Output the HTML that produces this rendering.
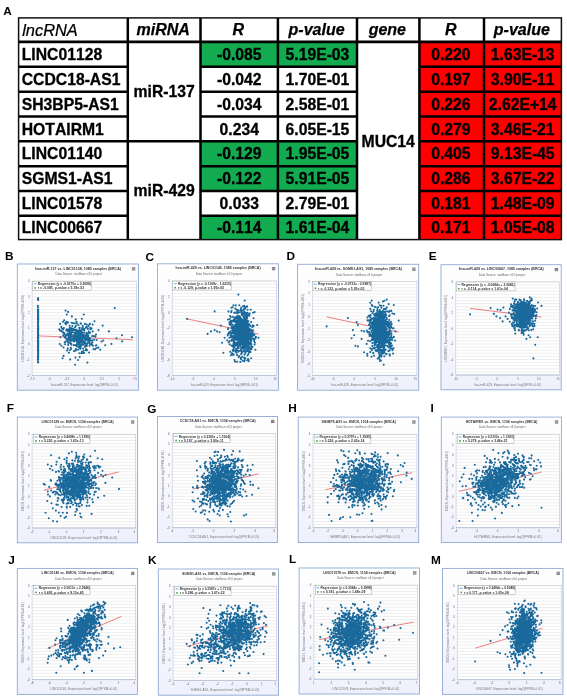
<!DOCTYPE html>
<html lang="en">
<head>
<meta charset="utf-8">
<title>Figure: lncRNA - miRNA - MUC14 correlations</title>
<style>
html,body{margin:0;padding:0;background:#fff;}
body{width:567px;height:700px;overflow:hidden;position:relative;}
svg{position:absolute;left:0;top:0;display:block;}
text{font-family:"Liberation Sans",Arial,sans-serif;fill:#000;font-kerning:none;}
#table{filter:blur(0.3px);}
.b{font-size:15.75px;font-weight:bold;stroke:#000;stroke-width:0.3px;}
.hb{font-size:16.0px;font-weight:bold;font-style:italic;stroke:#000;stroke-width:0.25px;}
.hi{font-size:16.4px;font-style:italic;stroke:#000;stroke-width:0.25px;}
.lab{font-size:11.8px;font-weight:bold;}
.tt{font-size:3.65px;font-weight:bold;fill:#333;}
.st{font-size:3.0px;fill:#666;}
.tk{font-size:2.9px;fill:#666;}
.ax{font-size:3.15px;fill:#777;}
.lg{font-size:3.3px;font-weight:bold;fill:#333;}
.pl{filter:blur(0.35px);}
.fr{filter:blur(0.2px);}
</style>
</head>
<body>
<svg width="567" height="700" viewBox="0 0 567 700">
<defs>
<linearGradient id="fg" x1="0" y1="0" x2="0" y2="1"><stop offset="0" stop-color="#ffffff"/><stop offset="1" stop-color="#eff0fd"/></linearGradient>
</defs>
<g id="table">
<rect x="200.50" y="41.90" width="156.50" height="24.93" fill="#13ab4f"/>
<rect x="419.40" y="41.90" width="142.00" height="24.93" fill="#fe0000"/>
<rect x="419.40" y="66.83" width="142.00" height="24.83" fill="#fe0000"/>
<rect x="419.40" y="91.66" width="142.00" height="24.83" fill="#fe0000"/>
<rect x="419.40" y="116.49" width="142.00" height="24.83" fill="#fe0000"/>
<rect x="200.50" y="141.32" width="156.50" height="24.83" fill="#13ab4f"/>
<rect x="419.40" y="141.32" width="142.00" height="24.83" fill="#fe0000"/>
<rect x="200.50" y="166.15" width="156.50" height="24.83" fill="#13ab4f"/>
<rect x="419.40" y="166.15" width="142.00" height="24.83" fill="#fe0000"/>
<rect x="419.40" y="190.98" width="142.00" height="24.83" fill="#fe0000"/>
<rect x="200.50" y="215.81" width="156.50" height="23.79" fill="#13ab4f"/>
<rect x="419.40" y="215.81" width="142.00" height="23.79" fill="#fe0000"/>
<line x1="18.60" y1="41.90" x2="561.40" y2="41.90" stroke="#000" stroke-width="2.7"/>
<line x1="18.60" y1="66.83" x2="127.80" y2="66.83" stroke="#000" stroke-width="2.5"/>
<line x1="200.50" y1="66.83" x2="357.00" y2="66.83" stroke="#000" stroke-width="2.5"/>
<line x1="419.40" y1="66.83" x2="561.40" y2="66.83" stroke="#000" stroke-width="2.5"/>
<line x1="18.60" y1="91.66" x2="127.80" y2="91.66" stroke="#000" stroke-width="2.5"/>
<line x1="200.50" y1="91.66" x2="357.00" y2="91.66" stroke="#000" stroke-width="2.5"/>
<line x1="419.40" y1="91.66" x2="561.40" y2="91.66" stroke="#000" stroke-width="2.5"/>
<line x1="18.60" y1="116.49" x2="127.80" y2="116.49" stroke="#000" stroke-width="2.5"/>
<line x1="200.50" y1="116.49" x2="357.00" y2="116.49" stroke="#000" stroke-width="2.5"/>
<line x1="419.40" y1="116.49" x2="561.40" y2="116.49" stroke="#000" stroke-width="2.5"/>
<line x1="18.60" y1="141.32" x2="127.80" y2="141.32" stroke="#000" stroke-width="2.5"/>
<line x1="127.80" y1="141.32" x2="200.50" y2="141.32" stroke="#000" stroke-width="2.5"/>
<line x1="200.50" y1="141.32" x2="357.00" y2="141.32" stroke="#000" stroke-width="2.5"/>
<line x1="419.40" y1="141.32" x2="561.40" y2="141.32" stroke="#000" stroke-width="2.5"/>
<line x1="18.60" y1="166.15" x2="127.80" y2="166.15" stroke="#000" stroke-width="2.5"/>
<line x1="200.50" y1="166.15" x2="357.00" y2="166.15" stroke="#000" stroke-width="2.5"/>
<line x1="419.40" y1="166.15" x2="561.40" y2="166.15" stroke="#000" stroke-width="2.5"/>
<line x1="18.60" y1="190.98" x2="127.80" y2="190.98" stroke="#000" stroke-width="2.5"/>
<line x1="200.50" y1="190.98" x2="357.00" y2="190.98" stroke="#000" stroke-width="2.5"/>
<line x1="419.40" y1="190.98" x2="561.40" y2="190.98" stroke="#000" stroke-width="2.5"/>
<line x1="18.60" y1="215.81" x2="127.80" y2="215.81" stroke="#000" stroke-width="2.5"/>
<line x1="200.50" y1="215.81" x2="357.00" y2="215.81" stroke="#000" stroke-width="2.5"/>
<line x1="419.40" y1="215.81" x2="561.40" y2="215.81" stroke="#000" stroke-width="2.5"/>
<line x1="127.80" y1="17.90" x2="127.80" y2="239.60" stroke="#000" stroke-width="2.5"/>
<line x1="200.50" y1="17.90" x2="200.50" y2="239.60" stroke="#000" stroke-width="2.5"/>
<line x1="277.90" y1="17.90" x2="277.90" y2="239.60" stroke="#000" stroke-width="2.5"/>
<line x1="357.00" y1="17.90" x2="357.00" y2="239.60" stroke="#000" stroke-width="2.5"/>
<line x1="419.40" y1="17.90" x2="419.40" y2="239.60" stroke="#000" stroke-width="2.5"/>
<line x1="484.00" y1="17.90" x2="484.00" y2="239.60" stroke="#000" stroke-width="2.5"/>
<rect x="18.60" y="17.90" width="542.80" height="221.70" fill="none" stroke="#111" stroke-width="1.5"/>
<text transform="translate(22.20 35.50) scale(1 0.96)" text-anchor="start" class="hi">lncRNA</text>
<text x="163.25" y="35.10" text-anchor="middle" class="hb">miRNA</text>
<text x="238.30" y="35.10" text-anchor="middle" class="hb">R</text>
<text x="316.55" y="35.10" text-anchor="middle" class="hb">p-value</text>
<text x="387.30" y="35.10" text-anchor="middle" class="hb">gene</text>
<text x="450.80" y="35.10" text-anchor="middle" class="hb">R</text>
<text x="521.80" y="35.10" text-anchor="middle" class="hb">p-value</text>
<text transform="translate(21.70 60.11) scale(1 1.04)" text-anchor="start" class="b">LINC01128</text>
<text transform="translate(239.20 60.11) scale(1 1.04)" text-anchor="middle" class="b">-0.085</text>
<text transform="translate(317.45 60.11) scale(1 1.04)" text-anchor="middle" class="b">5.19E-03</text>
<text transform="translate(450.90 60.11) scale(1 1.04)" text-anchor="middle" class="b">0.220</text>
<text transform="translate(522.70 60.11) scale(1 1.04)" text-anchor="middle" class="b">1.63E-13</text>
<text transform="translate(21.70 85.00) scale(1 1.04)" text-anchor="start" class="b">CCDC18-AS1</text>
<text transform="translate(239.20 85.00) scale(1 1.04)" text-anchor="middle" class="b">-0.042</text>
<text transform="translate(317.45 85.00) scale(1 1.04)" text-anchor="middle" class="b">1.70E-01</text>
<text transform="translate(450.90 85.00) scale(1 1.04)" text-anchor="middle" class="b">0.197</text>
<text transform="translate(522.70 85.00) scale(1 1.04)" text-anchor="middle" class="b">3.90E-11</text>
<text transform="translate(21.70 109.82) scale(1 1.04)" text-anchor="start" class="b">SH3BP5-AS1</text>
<text transform="translate(239.20 109.82) scale(1 1.04)" text-anchor="middle" class="b">-0.034</text>
<text transform="translate(317.45 109.82) scale(1 1.04)" text-anchor="middle" class="b">2.58E-01</text>
<text transform="translate(450.90 109.82) scale(1 1.04)" text-anchor="middle" class="b">0.226</text>
<text transform="translate(522.70 109.82) scale(1 1.04)" text-anchor="middle" class="b">2.62E+14</text>
<text transform="translate(21.70 134.66) scale(1 1.04)" text-anchor="start" class="b">HOTAIRM1</text>
<text transform="translate(239.20 134.66) scale(1 1.04)" text-anchor="middle" class="b">0.234</text>
<text transform="translate(317.45 134.66) scale(1 1.04)" text-anchor="middle" class="b">6.05E-15</text>
<text transform="translate(450.90 134.66) scale(1 1.04)" text-anchor="middle" class="b">0.279</text>
<text transform="translate(522.70 134.66) scale(1 1.04)" text-anchor="middle" class="b">3.46E-21</text>
<text transform="translate(21.70 159.48) scale(1 1.04)" text-anchor="start" class="b">LINC01140</text>
<text transform="translate(239.20 159.48) scale(1 1.04)" text-anchor="middle" class="b">-0.129</text>
<text transform="translate(317.45 159.48) scale(1 1.04)" text-anchor="middle" class="b">1.95E-05</text>
<text transform="translate(450.90 159.48) scale(1 1.04)" text-anchor="middle" class="b">0.405</text>
<text transform="translate(522.70 159.48) scale(1 1.04)" text-anchor="middle" class="b">9.13E-45</text>
<text transform="translate(21.70 184.31) scale(1 1.04)" text-anchor="start" class="b">SGMS1-AS1</text>
<text transform="translate(239.20 184.31) scale(1 1.04)" text-anchor="middle" class="b">-0.122</text>
<text transform="translate(317.45 184.31) scale(1 1.04)" text-anchor="middle" class="b">5.91E-05</text>
<text transform="translate(450.90 184.31) scale(1 1.04)" text-anchor="middle" class="b">0.286</text>
<text transform="translate(522.70 184.31) scale(1 1.04)" text-anchor="middle" class="b">3.67E-22</text>
<text transform="translate(21.70 209.14) scale(1 1.04)" text-anchor="start" class="b">LINC01578</text>
<text transform="translate(239.20 209.14) scale(1 1.04)" text-anchor="middle" class="b">0.033</text>
<text transform="translate(317.45 209.14) scale(1 1.04)" text-anchor="middle" class="b">2.79E-01</text>
<text transform="translate(450.90 209.14) scale(1 1.04)" text-anchor="middle" class="b">0.181</text>
<text transform="translate(522.70 209.14) scale(1 1.04)" text-anchor="middle" class="b">1.48E-09</text>
<text transform="translate(21.70 233.45) scale(1 1.04)" text-anchor="start" class="b">LINC00667</text>
<text transform="translate(239.20 233.45) scale(1 1.04)" text-anchor="middle" class="b">-0.114</text>
<text transform="translate(317.45 233.45) scale(1 1.04)" text-anchor="middle" class="b">1.61E-04</text>
<text transform="translate(450.90 233.45) scale(1 1.04)" text-anchor="middle" class="b">0.171</text>
<text transform="translate(522.70 233.45) scale(1 1.04)" text-anchor="middle" class="b">1.05E-08</text>
<text transform="translate(164.15 97.36) scale(1 1.04)" text-anchor="middle" class="b">miR-137</text>
<text transform="translate(164.15 196.21) scale(1 1.04)" text-anchor="middle" class="b">miR-429</text>
<text transform="translate(388.20 146.50) scale(1 1.04)" text-anchor="middle" class="b">MUC14</text>
<text x="3.20" y="15.30" text-anchor="start" class="lab">A</text>
</g>
<g id="plots">
<rect x="17.30" y="264.00" width="121.10" height="126.20" fill="url(#fg)" stroke="#8eabd2" stroke-width="0.9" class="fr"/>
<g class="pl">
<rect x="32.10" y="281.20" width="104.50" height="94.20" fill="#fff"/>
<path d="M32.10 281.20H136.60M32.10 284.34H136.60M32.10 287.48H136.60M32.10 290.62H136.60M32.10 293.76H136.60M32.10 296.90H136.60M32.10 300.04H136.60M32.10 303.18H136.60M32.10 306.32H136.60M32.10 309.46H136.60M32.10 312.60H136.60M32.10 315.74H136.60M32.10 318.88H136.60M32.10 322.02H136.60M32.10 325.16H136.60M32.10 328.30H136.60M32.10 331.44H136.60M32.10 334.58H136.60M32.10 337.72H136.60M32.10 340.86H136.60M32.10 344.00H136.60M32.10 347.14H136.60M32.10 350.28H136.60M32.10 353.42H136.60M32.10 356.56H136.60M32.10 359.70H136.60M32.10 362.84H136.60M32.10 365.98H136.60M32.10 369.12H136.60M32.10 372.26H136.60M32.10 375.40H136.60" stroke="#dcdcdc" stroke-width="0.5" fill="none"/>
<rect x="32.10" y="281.20" width="104.50" height="94.20" stroke="#c4c8d0" stroke-width="0.6" fill="none"/>
<path d="M32.10 375.40H136.60" stroke="#b0c0d8" stroke-width="0.7" fill="none"/>
<text x="78.05" y="269.60" text-anchor="middle" class="tt" textLength="85.8" lengthAdjust="spacingAndGlyphs">hsa-miR-137 vs. LINC01128, 1085 samples (BRCA)</text>
<text x="78.85" y="275.20" text-anchor="middle" class="st">Data Source: starBase v3.0 project</text>
<path d="M131.90 267.80h3.4M131.90 268.90h3.4M131.90 270.00h3.4" stroke="#555" stroke-width="0.8"/>
<text x="32.10" y="380.10" text-anchor="middle" class="tk">-7.5</text>
<text x="49.52" y="380.10" text-anchor="middle" class="tk">-5</text>
<text x="66.93" y="380.10" text-anchor="middle" class="tk">-2.5</text>
<text x="84.35" y="380.10" text-anchor="middle" class="tk">0</text>
<text x="101.77" y="380.10" text-anchor="middle" class="tk">2.5</text>
<text x="119.18" y="380.10" text-anchor="middle" class="tk">5</text>
<text x="135.10" y="380.10" text-anchor="middle" class="tk">7.5</text>
<text x="29.50" y="282.30" text-anchor="end" class="tk">4</text>
<text x="29.50" y="298.00" text-anchor="end" class="tk">3</text>
<text x="29.50" y="313.70" text-anchor="end" class="tk">2</text>
<text x="29.50" y="329.40" text-anchor="end" class="tk">1</text>
<text x="29.50" y="345.10" text-anchor="end" class="tk">0</text>
<text x="29.50" y="360.80" text-anchor="end" class="tk">-1</text>
<text x="29.50" y="376.50" text-anchor="end" class="tk">-2</text>
<text x="84.35" y="385.90" text-anchor="middle" class="ax">hsa-miR-137, Expression level: log2(RPM+0.01)</text>
<text transform="translate(23.60 328.30) rotate(-90)" text-anchor="middle" class="ax">LINC01128, Expression level: log2(FPKM+0.01)</text>
<line x1="38.82" y1="335.91" x2="132.73" y2="339.67" stroke="#e8484a" stroke-width="0.7"/>
<path d="M83.1 344.8h0M70.6 333.7h0M75.2 335.9h0M79.9 338.1h0M78.8 334.0h0M65.3 323.3h0M80.8 333.4h0M81.6 340.9h0M83.0 348.5h0M67.9 342.5h0M81.6 338.9h0M68.9 338.0h0M68.6 336.7h0M74.7 329.5h0M70.2 359.4h0M66.9 339.1h0M75.2 336.1h0M78.4 325.0h0M70.8 347.8h0M67.0 329.4h0M88.3 335.4h0M92.3 345.0h0M96.7 340.0h0M69.3 340.5h0M73.0 336.4h0M88.3 342.6h0M77.2 342.4h0M87.2 343.4h0M91.6 328.5h0M75.2 345.2h0M90.3 329.3h0M79.4 340.8h0M67.8 335.1h0M84.4 338.2h0M61.3 326.9h0M62.6 332.0h0M98.4 347.6h0M90.4 327.9h0M74.5 337.5h0M80.8 338.5h0M80.5 341.8h0M81.2 337.3h0M76.1 337.2h0M72.6 332.1h0M73.3 340.2h0M90.0 323.8h0M74.2 336.0h0M74.1 339.7h0M78.3 338.3h0M71.3 334.2h0M89.8 341.1h0M87.7 328.2h0M74.3 338.5h0M59.2 329.3h0M79.3 347.7h0M88.6 325.9h0M76.7 329.8h0M75.6 337.8h0M76.1 340.8h0M88.2 336.2h0M103.3 340.5h0M78.1 340.9h0M79.9 345.1h0M83.6 329.2h0M78.5 333.1h0M92.6 331.4h0M70.6 335.7h0M67.8 348.4h0M68.7 340.1h0M76.1 330.7h0M86.0 349.0h0M89.1 352.5h0M71.8 328.2h0M78.3 337.8h0M69.6 325.8h0M79.1 343.5h0M77.7 344.5h0M73.9 337.2h0M70.1 342.8h0M86.2 333.1h0M64.2 333.4h0M88.4 340.0h0M89.7 339.5h0M66.0 335.6h0M71.3 344.8h0M78.2 332.5h0M77.2 343.7h0M63.6 332.9h0M86.8 333.5h0M64.5 333.2h0M64.7 336.9h0M87.3 335.3h0M84.8 335.6h0M96.0 334.6h0M82.6 342.1h0M77.3 338.8h0M81.9 318.7h0M75.0 327.3h0M90.7 328.9h0M83.9 336.1h0M90.4 338.6h0M69.5 337.7h0M79.2 341.8h0M90.4 340.7h0M83.4 338.4h0M73.3 335.3h0M83.8 314.5h0M76.9 338.1h0M76.4 341.0h0M88.1 333.0h0M86.4 349.4h0M75.7 332.4h0M74.3 329.9h0M86.3 335.2h0M95.1 349.3h0M82.2 332.5h0M62.0 328.6h0M83.0 343.1h0M80.4 339.4h0M78.9 341.8h0M77.5 331.5h0M81.4 344.8h0M77.1 337.5h0M70.7 333.1h0M80.2 335.9h0M65.9 338.3h0M67.3 340.9h0M86.7 337.6h0M73.1 323.2h0M75.8 337.8h0M87.5 343.0h0M78.7 338.9h0M87.9 329.0h0M77.4 341.5h0M81.3 342.8h0M95.4 336.6h0M78.1 360.0h0M76.9 336.6h0M69.0 335.7h0M76.4 336.2h0M83.1 341.0h0M83.0 338.4h0M69.7 331.0h0M68.0 322.4h0M70.0 339.9h0M87.1 350.3h0M96.4 345.3h0M65.2 323.2h0M85.3 346.7h0M86.8 324.5h0M74.5 329.7h0M81.6 341.6h0M81.7 330.8h0M66.0 324.2h0M89.7 339.4h0M64.1 333.3h0M92.9 345.8h0M82.1 339.6h0M81.9 351.7h0M66.8 334.5h0M72.3 326.0h0M74.5 333.0h0M76.8 346.3h0M76.1 335.8h0M75.9 345.1h0M73.2 328.9h0M65.6 336.1h0M80.8 334.7h0M79.0 336.2h0M85.0 323.9h0M76.6 340.4h0M80.5 348.7h0M60.0 330.4h0M80.7 330.7h0M74.9 329.7h0M74.8 336.1h0M69.5 335.1h0M81.2 341.6h0M77.4 336.2h0M80.0 333.2h0M71.9 316.4h0M72.3 339.7h0M68.7 330.0h0M76.8 338.2h0M80.1 332.8h0M77.2 343.5h0M80.9 345.3h0M91.5 328.6h0M98.5 330.1h0M76.5 333.4h0M60.4 337.3h0M76.4 339.0h0M85.4 345.6h0M73.7 345.1h0M76.2 349.3h0M70.6 332.8h0M79.7 340.5h0M69.7 334.9h0M88.6 338.7h0M78.2 339.1h0M81.5 339.8h0M63.9 328.1h0M67.9 339.2h0M70.3 340.6h0M74.0 351.2h0M67.3 334.0h0M78.9 343.8h0M71.0 338.9h0M89.6 324.2h0M87.9 340.7h0M63.3 335.4h0M64.7 342.3h0M94.5 321.2h0M80.3 339.3h0M66.8 314.5h0M66.4 321.8h0M75.2 335.4h0M79.7 357.1h0M75.3 340.5h0M70.0 327.8h0M84.9 341.3h0M71.4 339.3h0M86.0 338.9h0M86.9 336.4h0M69.5 335.7h0M87.8 336.5h0M85.3 339.2h0M70.0 338.2h0M83.9 335.0h0M73.3 340.9h0M83.2 353.0h0M70.0 334.6h0M69.8 350.2h0M79.3 346.9h0M85.0 336.1h0M78.4 342.8h0M82.7 336.0h0M81.5 353.2h0M79.5 337.6h0M88.8 331.5h0M101.5 341.5h0M83.6 350.8h0M92.4 342.4h0M72.7 339.3h0M82.8 337.8h0M80.6 336.3h0M79.7 345.2h0M82.0 328.9h0M70.5 335.9h0M80.6 345.2h0M87.8 340.5h0M77.5 333.9h0M91.7 344.8h0M76.9 323.5h0M74.7 350.8h0M75.9 350.4h0M77.0 336.9h0M90.0 332.9h0M84.7 339.1h0M93.9 336.1h0M77.1 342.8h0M81.1 335.6h0M75.7 319.4h0M69.8 329.8h0M69.2 342.7h0M80.9 346.8h0M78.8 337.4h0M63.6 355.9h0M85.4 337.7h0M83.9 341.9h0M69.9 337.0h0M69.5 328.5h0M86.0 327.5h0M80.3 332.9h0M65.1 344.3h0M77.2 340.9h0M84.0 332.7h0M59.7 344.0h0M79.4 353.2h0M82.0 337.3h0M82.8 327.2h0M85.6 340.2h0M84.1 353.0h0M86.3 334.7h0M69.4 336.9h0M81.8 336.0h0M71.8 330.9h0M80.1 340.2h0M68.9 329.5h0M83.4 338.2h0M80.7 344.4h0M79.6 329.7h0M82.8 341.3h0M74.2 332.7h0M74.7 330.1h0M71.0 349.0h0M71.1 332.8h0M92.7 324.6h0M80.8 346.4h0M92.2 340.2h0M80.2 331.5h0M71.1 336.4h0M67.6 331.6h0M89.6 345.8h0M73.2 335.4h0M61.3 331.1h0M64.5 334.3h0M78.9 341.2h0M89.1 337.5h0M83.3 335.1h0M62.9 321.7h0M78.2 332.5h0M84.6 328.8h0M78.5 342.7h0M73.1 338.6h0M74.8 323.2h0M66.2 330.1h0M79.0 334.3h0M63.1 329.4h0M69.0 338.4h0M73.0 330.0h0M86.8 339.8h0M78.2 346.8h0M70.7 336.5h0M80.0 339.0h0M83.5 341.4h0M91.6 342.9h0M75.9 325.8h0M88.9 342.6h0M80.8 336.2h0M94.2 339.8h0M87.4 362.6h0M92.2 336.1h0M81.0 323.8h0M70.2 343.0h0M81.6 334.5h0M84.8 346.5h0M79.3 343.7h0M75.9 338.4h0M85.8 350.3h0M82.2 334.2h0M86.8 345.9h0M63.5 347.5h0M87.0 338.2h0M78.8 332.3h0M68.3 330.5h0M71.0 337.0h0M95.7 345.5h0M64.2 320.3h0M72.4 328.7h0M81.0 338.0h0M65.6 338.3h0M82.2 342.3h0M77.9 336.7h0M82.3 341.1h0M69.0 330.6h0M71.5 330.4h0M82.0 335.7h0M85.4 343.1h0M79.3 327.9h0M87.2 339.3h0M68.2 344.9h0M87.7 335.0h0M78.9 335.8h0M70.7 338.7h0M77.3 335.5h0M82.6 335.8h0M70.6 330.5h0M79.7 331.8h0M76.4 338.1h0M80.6 323.2h0M83.6 329.6h0M76.7 329.7h0M81.2 340.0h0M71.2 343.7h0M86.5 326.7h0M70.1 332.7h0M69.0 333.6h0M84.3 336.6h0M85.3 338.9h0M76.5 321.8h0M67.1 350.6h0M78.2 349.7h0M71.7 322.7h0M84.2 330.4h0M69.0 331.3h0M75.1 334.3h0M78.6 338.4h0M83.0 335.3h0M79.1 337.2h0M66.3 323.6h0M90.0 344.1h0M82.5 327.5h0M96.5 348.0h0M81.8 336.0h0M78.6 337.8h0M82.8 325.8h0M71.3 329.7h0M86.8 344.4h0M74.0 341.5h0M76.9 341.3h0M70.9 340.9h0M87.8 340.6h0M78.1 331.1h0M70.0 333.3h0M93.5 349.1h0M81.8 337.5h0M78.1 336.5h0M64.6 334.2h0M70.7 335.2h0M75.5 357.6h0M79.5 346.0h0M84.8 343.6h0M79.7 327.9h0M70.3 328.8h0M65.5 341.6h0M78.3 335.8h0M75.9 349.0h0M61.3 345.8h0M68.8 336.4h0M38.1 347.7h0M38.1 327.2h0M38.0 317.5h0M38.2 343.1h0M38.1 318.2h0M38.0 348.7h0M38.1 316.0h0M38.1 354.4h0M38.0 319.3h0M38.0 345.2h0M38.2 317.4h0M38.0 322.1h0M38.0 336.0h0M38.0 326.2h0M38.0 358.9h0M38.1 314.8h0M38.2 314.8h0M38.0 359.4h0M38.2 346.7h0M38.0 319.5h0M38.1 315.0h0M38.0 329.3h0M37.9 329.8h0M38.2 344.7h0M38.1 341.6h0M38.1 316.8h0M38.1 330.1h0M38.1 355.5h0M38.0 338.7h0M38.1 330.9h0M38.0 346.2h0M38.2 348.8h0M38.1 352.7h0M38.1 342.1h0M38.1 325.4h0M38.1 314.6h0M38.0 349.2h0M38.1 341.5h0M38.0 331.0h0M38.1 341.1h0M38.0 343.8h0M38.2 318.9h0M38.1 349.0h0M38.0 334.4h0M38.2 311.5h0M38.1 317.8h0M38.2 357.2h0M38.1 314.7h0M38.1 337.0h0M38.1 335.5h0M38.1 351.6h0M38.1 330.4h0M38.2 320.2h0M38.1 329.5h0M38.1 315.8h0M38.2 327.6h0M37.9 323.5h0M38.0 310.3h0M38.0 330.9h0M38.1 327.4h0M38.0 321.0h0M38.1 357.2h0M38.1 320.7h0M38.2 329.4h0M38.0 316.2h0M38.2 350.6h0M38.1 333.3h0M38.1 321.0h0M38.2 327.5h0M38.1 351.0h0M38.2 333.3h0M38.0 337.4h0M38.0 351.8h0M38.0 352.6h0M38.0 328.6h0M38.0 331.2h0M38.0 309.8h0M38.1 323.8h0M38.0 324.9h0M38.1 331.3h0M38.1 343.0h0M38.0 356.6h0M38.2 312.5h0M38.2 355.4h0M38.2 316.7h0M38.2 341.6h0M37.9 310.2h0M38.2 342.8h0M38.0 314.7h0M38.0 321.4h0M38.2 327.1h0M38.0 355.4h0M38.2 318.1h0M38.2 340.4h0M38.2 343.4h0M38.2 349.5h0M38.2 319.6h0M38.1 336.5h0M38.1 331.8h0M38.2 337.7h0M38.0 321.5h0M38.0 334.6h0M37.9 333.2h0M38.0 334.5h0M38.1 336.9h0M38.2 309.9h0M38.2 333.3h0M38.1 343.3h0M38.2 328.6h0M38.0 358.2h0M37.9 341.8h0M38.1 311.1h0M38.1 344.1h0M38.2 326.3h0M38.2 335.4h0M38.1 355.0h0M37.9 345.9h0M38.1 326.7h0M38.2 328.1h0M38.1 336.2h0M38.1 320.3h0M38.0 331.0h0M38.1 351.4h0M38.0 351.5h0M38.0 335.1h0M38.0 335.2h0M38.2 342.7h0M38.2 326.4h0M38.0 324.8h0M38.1 341.7h0M38.2 311.6h0M38.1 354.4h0M38.1 312.1h0M38.0 309.9h0M38.0 356.2h0M38.1 342.9h0M38.2 355.6h0M38.1 340.8h0M38.1 344.8h0M38.1 344.1h0M38.0 343.4h0M38.1 348.2h0M37.9 318.8h0M37.9 348.8h0M38.2 342.8h0M38.0 351.2h0M38.2 338.0h0M38.0 324.9h0M38.0 325.7h0M38.0 342.1h0M38.2 312.4h0M38.1 311.6h0M38.0 350.6h0M38.1 356.1h0M38.1 310.3h0M38.0 339.6h0M38.2 359.2h0M38.1 330.5h0M37.9 342.2h0M38.0 317.3h0M37.9 309.9h0M38.1 315.8h0M38.2 314.1h0M38.2 316.1h0M37.9 346.0h0M38.0 346.7h0M38.0 312.2h0M38.1 345.7h0M38.2 346.5h0M37.9 341.4h0M38.1 332.9h0M38.2 322.5h0M38.2 345.9h0M37.9 310.4h0M38.1 351.0h0M37.9 325.4h0M38.1 318.0h0M38.2 334.2h0M37.9 328.2h0M38.1 331.8h0M38.1 316.9h0M38.2 328.0h0M38.1 341.5h0M38.0 329.1h0M38.2 357.4h0M38.2 338.3h0M38.0 312.7h0M38.2 345.2h0M38.2 326.4h0M38.1 359.1h0M38.2 340.0h0M38.0 331.3h0M38.2 328.7h0M38.1 340.1h0M38.2 350.5h0M38.0 309.7h0M38.0 331.0h0M38.1 350.9h0M38.2 311.8h0M38.2 350.7h0M38.2 338.5h0M38.0 352.7h0M38.2 344.2h0M38.2 327.2h0M37.9 337.6h0M38.2 319.8h0M38.1 356.7h0M38.0 340.3h0M38.1 333.2h0M38.0 322.5h0M38.1 349.7h0M38.1 314.1h0M38.2 348.7h0M38.0 338.9h0M38.2 354.4h0M38.1 333.7h0M38.1 319.2h0M38.0 318.8h0M38.1 328.0h0M38.1 330.0h0M38.1 317.2h0M37.9 360.1h0M38.0 315.0h0M38.1 349.4h0M38.0 339.8h0M38.0 335.9h0M37.9 311.3h0M38.2 353.4h0M38.1 338.3h0M38.0 349.0h0M38.0 357.5h0M38.1 351.0h0M38.2 322.5h0M37.9 319.8h0M38.0 313.8h0M37.9 337.8h0M38.2 332.8h0M38.2 355.6h0M37.9 339.9h0M38.0 315.7h0M38.2 322.6h0M38.1 342.0h0M38.2 343.5h0M38.0 332.3h0M38.0 358.5h0M38.2 320.8h0M37.9 322.6h0M38.0 355.3h0M38.2 352.0h0M37.9 349.4h0M38.1 342.3h0M38.2 312.4h0M38.0 347.8h0M38.2 343.9h0M38.0 339.5h0M38.1 314.9h0M38.0 322.6h0M38.0 334.0h0M38.0 321.7h0M38.0 343.9h0M37.9 345.9h0M38.0 311.4h0M38.2 320.8h0M38.2 353.5h0M38.2 316.7h0M38.1 314.5h0M38.2 352.2h0M38.1 332.5h0M38.0 351.3h0M38.1 341.4h0M38.0 299.3h0M37.9 305.8h0M38.1 298.3h0M38.2 299.9h0M38.0 298.4h0M38.0 307.5h0M38.0 362.1h0M38.1 362.5h0M38.2 362.0h0M38.2 361.8h0M114.7 308.1h0M102.7 325.6h0M108.9 331.4h0M122.0 335.2h0M132.0 337.2h0M116.5 338.2h0M122.2 341.4h0M111.4 343.9h0M75.1 364.7h0M62.6 358.2h0M68.9 352.7h0M65.6 310.6h0M68.1 311.9h0M60.1 323.9h0M105.2 345.2h0M100.2 349.7h0" stroke="#1a699c" stroke-width="2.1" stroke-linecap="round" fill="none"/>
<rect x="32.60" y="281.30" width="58.80" height="8.90" fill="#fff" stroke="#999" stroke-width="0.45"/>
<line x1="33.60" y1="283.90" x2="36.60" y2="283.90" stroke="#3fa0e0" stroke-width="0.8"/>
<circle cx="35.10" cy="287.90" r="0.9" fill="#35a835"/>
<text x="37.80" y="285.00" class="lg" textLength="53.0" lengthAdjust="spacingAndGlyphs">Regression (y = -0.0170x + 0.3698)</text>
<text x="37.80" y="289.20" class="lg" textLength="46.3" lengthAdjust="spacingAndGlyphs">r = -0.085, p-value = 5.19e-03</text>
</g>
<text x="5.00" y="260.00" class="lab">B</text>
<rect x="157.40" y="263.80" width="121.00" height="126.40" fill="url(#fg)" stroke="#8eabd2" stroke-width="0.9" class="fr"/>
<g class="pl">
<rect x="172.20" y="281.00" width="104.40" height="94.40" fill="#fff"/>
<path d="M172.20 281.00H276.60M172.20 284.15H276.60M172.20 287.29H276.60M172.20 290.44H276.60M172.20 293.59H276.60M172.20 296.73H276.60M172.20 299.88H276.60M172.20 303.03H276.60M172.20 306.17H276.60M172.20 309.32H276.60M172.20 312.47H276.60M172.20 315.61H276.60M172.20 318.76H276.60M172.20 321.91H276.60M172.20 325.05H276.60M172.20 328.20H276.60M172.20 331.35H276.60M172.20 334.49H276.60M172.20 337.64H276.60M172.20 340.79H276.60M172.20 343.93H276.60M172.20 347.08H276.60M172.20 350.23H276.60M172.20 353.37H276.60M172.20 356.52H276.60M172.20 359.67H276.60M172.20 362.81H276.60M172.20 365.96H276.60M172.20 369.11H276.60M172.20 372.25H276.60M172.20 375.40H276.60" stroke="#dcdcdc" stroke-width="0.5" fill="none"/>
<rect x="172.20" y="281.00" width="104.40" height="94.40" stroke="#c4c8d0" stroke-width="0.6" fill="none"/>
<path d="M172.20 375.40H276.60" stroke="#b0c0d8" stroke-width="0.7" fill="none"/>
<text x="218.10" y="269.40" text-anchor="middle" class="tt" textLength="85.0" lengthAdjust="spacingAndGlyphs">hsa-miR-429 vs. LINC01140, 1085 samples (BRCA)</text>
<text x="218.90" y="275.00" text-anchor="middle" class="st">Data Source: starBase v3.0 project</text>
<path d="M271.90 267.60h3.4M271.90 268.70h3.4M271.90 269.80h3.4" stroke="#555" stroke-width="0.8"/>
<text x="172.20" y="380.10" text-anchor="middle" class="tk">-10</text>
<text x="193.08" y="380.10" text-anchor="middle" class="tk">-5</text>
<text x="213.96" y="380.10" text-anchor="middle" class="tk">0</text>
<text x="234.84" y="380.10" text-anchor="middle" class="tk">5</text>
<text x="255.72" y="380.10" text-anchor="middle" class="tk">10</text>
<text x="275.10" y="380.10" text-anchor="middle" class="tk">15</text>
<text x="169.60" y="282.10" text-anchor="end" class="tk">4</text>
<text x="169.60" y="297.83" text-anchor="end" class="tk">2</text>
<text x="169.60" y="313.57" text-anchor="end" class="tk">0</text>
<text x="169.60" y="329.30" text-anchor="end" class="tk">-2</text>
<text x="169.60" y="345.03" text-anchor="end" class="tk">-4</text>
<text x="169.60" y="360.77" text-anchor="end" class="tk">-6</text>
<text x="169.60" y="376.50" text-anchor="end" class="tk">-8</text>
<text x="224.40" y="385.90" text-anchor="middle" class="ax">hsa-miR-429, Expression level: log2(RPM+0.01)</text>
<text transform="translate(163.70 328.20) rotate(-90)" text-anchor="middle" class="ax">LINC01140, Expression level: log2(FPKM+0.01)</text>
<line x1="187.08" y1="318.88" x2="258.46" y2="333.91" stroke="#e8484a" stroke-width="0.7"/>
<path d="M239.9 323.7h0M241.4 338.2h0M233.3 349.6h0M244.8 329.9h0M243.4 330.4h0M243.6 324.9h0M250.5 334.1h0M244.9 345.2h0M243.9 348.7h0M245.4 345.9h0M243.1 337.0h0M238.2 324.7h0M243.8 343.6h0M245.5 317.0h0M248.7 339.0h0M241.9 329.0h0M235.7 351.6h0M241.0 331.7h0M228.9 332.6h0M245.4 347.5h0M244.4 339.5h0M250.2 334.2h0M240.0 331.0h0M247.6 309.7h0M241.1 323.5h0M254.6 344.6h0M234.2 330.5h0M240.9 331.0h0M242.9 340.1h0M242.2 347.7h0M247.8 340.8h0M248.1 334.6h0M232.0 326.6h0M247.0 323.1h0M245.9 339.7h0M241.6 338.2h0M246.0 341.5h0M247.4 346.5h0M248.5 354.0h0M236.9 339.3h0M235.6 328.3h0M243.2 320.6h0M239.8 339.2h0M247.1 306.4h0M243.4 328.7h0M236.7 336.3h0M240.5 330.9h0M241.3 331.6h0M249.7 330.9h0M234.1 312.7h0M243.5 330.0h0M241.2 350.9h0M232.5 324.5h0M242.1 347.4h0M245.6 330.6h0M240.8 328.1h0M249.8 329.5h0M236.9 332.9h0M243.8 335.5h0M239.1 335.1h0M246.9 338.6h0M235.6 319.7h0M245.3 351.9h0M236.4 327.0h0M241.0 337.5h0M237.9 330.2h0M248.3 334.2h0M242.8 348.4h0M239.3 356.0h0M242.5 327.0h0M245.5 326.0h0M238.6 337.0h0M245.8 338.6h0M241.9 324.4h0M238.2 341.2h0M249.4 314.3h0M241.4 310.6h0M230.7 332.7h0M245.1 329.2h0M253.4 335.1h0M232.1 340.6h0M237.1 322.9h0M235.4 333.9h0M237.8 337.8h0M238.8 344.6h0M235.0 330.3h0M241.4 336.2h0M239.7 328.6h0M236.5 352.7h0M246.5 330.7h0M242.7 331.4h0M237.4 326.8h0M243.4 316.4h0M234.2 328.3h0M237.4 338.5h0M232.6 354.8h0M239.2 330.3h0M237.6 337.2h0M254.6 312.1h0M236.4 335.0h0M237.7 344.0h0M244.9 342.4h0M245.8 319.1h0M247.5 325.1h0M244.2 338.3h0M237.9 330.6h0M238.1 322.5h0M248.4 332.9h0M235.6 338.3h0M242.0 331.2h0M245.4 323.1h0M244.7 346.7h0M241.2 350.1h0M250.8 333.6h0M244.0 335.8h0M244.6 336.1h0M234.1 327.8h0M243.0 327.8h0M242.7 324.5h0M239.7 337.5h0M249.9 344.5h0M238.0 342.3h0M250.9 340.0h0M249.1 330.1h0M242.2 335.8h0M245.7 323.9h0M244.4 322.4h0M249.7 329.9h0M242.5 344.7h0M243.2 343.0h0M230.5 331.4h0M244.1 339.5h0M245.8 331.5h0M248.3 343.8h0M240.8 333.4h0M244.1 325.3h0M243.5 338.7h0M248.5 336.1h0M246.0 343.9h0M241.1 347.8h0M234.3 335.7h0M245.5 342.8h0M230.2 351.7h0M247.2 330.0h0M239.9 332.7h0M241.2 359.1h0M238.8 338.2h0M245.3 358.0h0M236.7 329.7h0M242.8 323.7h0M237.0 326.1h0M244.5 335.2h0M238.0 348.0h0M238.3 327.9h0M241.5 336.3h0M242.5 336.4h0M240.8 344.4h0M244.3 306.2h0M245.8 340.4h0M239.4 319.8h0M236.7 337.2h0M242.3 356.8h0M240.3 327.5h0M248.3 326.1h0M244.0 333.3h0M243.4 339.1h0M245.9 334.6h0M247.6 355.4h0M241.1 322.0h0M240.5 324.3h0M246.0 320.0h0M250.5 338.3h0M246.9 335.8h0M243.0 326.4h0M242.2 326.5h0M233.6 343.1h0M241.6 337.2h0M228.6 342.3h0M241.3 307.6h0M240.1 332.7h0M235.0 336.9h0M250.0 349.4h0M239.8 316.6h0M231.0 322.8h0M237.4 328.1h0M239.3 338.1h0M241.3 336.0h0M239.8 323.1h0M237.4 329.9h0M238.9 339.8h0M247.5 346.0h0M244.4 322.5h0M246.9 349.6h0M231.2 334.6h0M246.3 339.9h0M242.6 334.9h0M244.4 345.0h0M245.1 337.5h0M240.4 335.4h0M255.9 336.9h0M251.3 344.3h0M239.3 328.8h0M239.6 333.5h0M231.4 307.8h0M242.1 341.5h0M249.7 336.2h0M241.0 339.5h0M250.7 309.7h0M244.0 316.6h0M240.2 338.7h0M239.5 342.4h0M233.7 347.6h0M247.7 336.0h0M246.6 314.8h0M249.4 328.5h0M244.2 338.4h0M251.0 343.4h0M231.2 337.2h0M246.8 335.3h0M242.1 331.3h0M249.3 315.8h0M240.8 343.9h0M236.9 336.2h0M238.0 317.1h0M245.0 341.8h0M238.4 328.0h0M245.5 336.5h0M251.7 330.8h0M243.0 327.9h0M237.9 324.1h0M249.4 329.3h0M240.3 342.7h0M246.4 334.3h0M239.5 333.0h0M236.1 342.7h0M236.6 328.5h0M244.3 335.9h0M239.1 329.3h0M242.1 337.6h0M242.1 346.8h0M243.4 348.7h0M236.3 329.6h0M240.7 333.4h0M245.8 324.6h0M242.3 325.6h0M241.6 325.9h0M239.0 336.1h0M231.6 320.9h0M242.4 329.1h0M241.6 332.9h0M243.5 342.7h0M229.8 341.1h0M248.1 321.4h0M244.9 326.9h0M236.1 348.8h0M243.7 326.4h0M241.3 311.0h0M250.8 338.6h0M234.6 325.5h0M248.1 327.5h0M243.9 341.0h0M239.3 328.2h0M248.3 343.2h0M238.7 328.7h0M239.5 336.1h0M232.4 324.9h0M243.2 331.5h0M245.2 340.8h0M242.7 328.8h0M244.9 320.8h0M239.6 332.1h0M231.6 345.6h0M247.4 338.4h0M246.8 325.9h0M244.2 339.5h0M238.3 327.1h0M248.0 333.7h0M247.0 334.3h0M245.7 334.8h0M241.4 341.9h0M241.5 348.3h0M235.2 324.8h0M243.6 314.3h0M238.7 339.0h0M253.1 312.7h0M238.4 351.6h0M232.8 328.7h0M237.9 328.2h0M240.1 337.9h0M235.9 331.9h0M242.6 339.9h0M251.1 334.8h0M236.8 334.4h0M243.0 334.9h0M239.6 344.2h0M247.7 328.7h0M239.8 328.7h0M230.8 317.0h0M242.9 323.1h0M249.1 339.6h0M241.4 341.5h0M244.0 338.1h0M243.5 344.9h0M235.1 320.0h0M245.7 352.4h0M240.0 328.3h0M246.5 324.6h0M244.2 342.2h0M232.6 307.3h0M238.8 343.7h0M233.9 340.8h0M246.4 336.0h0M239.4 325.7h0M239.4 327.4h0M252.2 335.9h0M244.4 332.1h0M241.2 320.4h0M243.5 336.2h0M252.4 346.9h0M236.5 327.8h0M237.2 316.2h0M242.0 325.3h0M243.1 310.0h0M243.9 309.0h0M241.2 341.9h0M242.8 333.3h0M237.9 318.7h0M245.3 332.2h0M243.5 333.9h0M247.0 336.8h0M248.7 361.1h0M243.8 336.6h0M245.6 329.1h0M242.8 325.8h0M232.8 329.8h0M243.7 323.2h0M243.9 330.0h0M250.9 341.3h0M243.2 329.9h0M229.7 344.4h0M238.9 324.6h0M241.8 340.9h0M244.3 346.2h0M239.8 329.2h0M245.7 325.3h0M244.6 323.1h0M232.9 331.4h0M239.7 320.8h0M234.2 321.6h0M245.3 327.2h0M244.9 326.4h0M247.7 332.9h0M251.3 349.0h0M244.3 329.8h0M245.5 337.2h0M247.3 339.4h0M239.3 305.3h0M246.9 334.9h0M241.5 328.4h0M243.0 345.6h0M255.6 338.3h0M243.8 329.3h0M245.2 339.4h0M241.2 327.2h0M238.9 331.1h0M232.3 330.0h0M244.7 354.3h0M241.6 321.6h0M242.0 335.1h0M237.7 330.4h0M241.5 333.2h0M237.4 317.6h0M240.8 318.9h0M231.8 340.7h0M238.8 336.9h0M242.6 332.0h0M246.7 328.6h0M238.7 337.7h0M248.5 344.4h0M243.9 330.1h0M237.9 347.4h0M235.1 361.6h0M242.0 315.1h0M237.2 320.5h0M241.1 323.3h0M234.6 317.6h0M238.4 323.3h0M239.5 326.9h0M231.8 332.9h0M237.6 332.1h0M247.0 328.4h0M230.2 325.1h0M246.0 346.8h0M236.9 318.3h0M243.5 329.4h0M246.2 319.1h0M244.1 337.7h0M237.2 342.8h0M239.5 332.9h0M249.0 333.2h0M234.4 332.1h0M248.1 348.9h0M239.0 330.3h0M239.9 338.4h0M243.9 342.9h0M245.2 344.9h0M240.7 337.2h0M250.1 343.7h0M244.2 345.2h0M237.5 322.5h0M238.2 333.9h0M240.3 344.1h0M244.5 321.3h0M233.3 320.6h0M249.0 331.1h0M240.2 324.8h0M242.3 323.6h0M228.0 329.2h0M250.9 336.7h0M234.0 333.8h0M233.0 332.7h0M236.9 331.2h0M237.0 312.2h0M248.6 336.7h0M243.5 310.4h0M242.5 335.3h0M244.5 335.7h0M240.1 329.7h0M240.3 317.2h0M240.5 323.2h0M254.4 334.5h0M245.8 341.9h0M241.9 339.2h0M245.7 324.3h0M240.3 333.5h0M247.5 321.7h0M242.0 340.5h0M238.0 329.0h0M236.4 331.3h0M243.1 326.7h0M240.2 330.0h0M237.8 329.1h0M239.8 340.5h0M239.5 350.8h0M236.1 322.7h0M229.4 337.8h0M236.4 335.5h0M243.3 329.7h0M248.5 359.7h0M244.6 318.2h0M239.7 321.8h0M243.5 328.1h0M243.0 337.8h0M244.5 311.9h0M240.3 325.9h0M240.7 324.7h0M241.7 329.4h0M240.9 340.6h0M238.6 346.0h0M245.5 328.7h0M249.0 352.3h0M240.8 333.7h0M240.2 326.7h0M248.3 341.3h0M233.2 338.0h0M243.2 328.3h0M240.6 343.0h0M233.4 331.5h0M239.4 329.9h0M240.9 349.5h0M244.3 361.3h0M232.8 316.7h0M248.2 329.0h0M239.8 339.4h0M242.0 326.5h0M241.4 336.4h0M249.1 342.7h0M236.1 322.4h0M240.2 331.1h0M248.0 345.7h0M237.6 339.8h0M247.3 350.9h0M247.1 318.5h0M243.3 335.2h0M247.9 343.3h0M247.7 342.9h0M237.1 328.5h0M243.6 340.5h0M244.5 337.0h0M228.3 328.3h0M247.0 329.6h0M233.0 321.4h0M242.2 327.0h0M246.5 334.6h0M238.6 357.1h0M239.3 328.3h0M244.4 312.7h0M242.3 343.5h0M251.0 338.5h0M244.6 321.7h0M227.7 335.4h0M246.4 329.7h0M245.0 335.9h0M240.5 324.9h0M244.0 336.7h0M236.3 350.9h0M244.1 318.2h0M243.9 313.9h0M239.3 324.8h0M248.8 314.9h0M241.3 323.9h0M248.6 330.7h0M250.4 351.9h0M251.2 322.1h0M245.0 316.3h0M245.7 319.4h0M237.1 361.8h0M245.3 330.5h0M243.4 322.7h0M242.7 340.5h0M242.6 341.9h0M238.1 312.4h0M243.8 317.4h0M253.7 326.0h0M247.6 339.7h0M237.4 345.4h0M242.3 330.8h0M244.3 332.8h0M234.3 338.6h0M240.6 336.6h0M245.6 322.9h0M245.2 336.2h0M233.1 336.5h0M249.5 347.0h0M243.4 327.3h0M246.2 330.7h0M246.8 325.5h0M236.0 339.8h0M243.4 327.8h0M246.3 332.9h0M230.6 335.8h0M241.0 334.8h0M247.3 321.4h0M250.6 326.0h0M250.4 342.1h0M246.2 330.7h0M237.8 321.7h0M235.8 305.4h0M234.3 347.7h0M245.6 321.5h0M231.7 336.4h0M240.7 310.4h0M241.1 335.8h0M245.0 328.1h0M240.4 329.6h0M242.1 319.6h0M242.5 324.9h0M245.5 314.6h0M248.9 330.4h0M241.5 339.3h0M247.6 312.9h0M245.6 340.6h0M247.9 351.1h0M241.6 334.4h0M233.6 344.9h0M244.4 342.6h0M244.1 343.0h0M244.8 336.7h0M233.6 344.4h0M244.9 350.5h0M245.4 322.3h0M240.7 338.3h0M233.9 333.0h0M242.3 321.6h0M246.9 327.8h0M239.8 326.5h0M254.1 340.9h0M232.7 353.9h0M242.2 335.2h0M242.4 312.6h0M242.9 328.2h0M235.1 312.6h0M238.1 310.3h0M248.9 328.3h0M235.9 340.1h0M245.7 348.7h0M232.4 327.1h0M246.2 341.5h0M237.7 336.1h0M237.9 316.2h0M239.0 328.1h0M245.2 308.8h0M238.7 318.5h0M253.5 318.2h0M246.3 316.1h0M249.2 348.3h0M238.1 324.3h0M235.6 320.7h0M242.9 338.0h0M236.8 309.9h0M235.7 345.7h0M244.2 325.9h0M240.5 328.1h0M246.6 336.3h0M242.8 328.6h0M245.8 338.6h0M239.0 340.9h0M244.5 354.8h0M246.4 319.7h0M253.4 338.8h0M237.5 330.6h0M237.3 320.8h0M235.8 339.4h0M244.2 357.9h0M243.9 332.0h0M245.4 339.7h0M240.3 317.8h0M243.8 340.4h0M244.6 345.6h0M238.1 334.2h0M243.9 341.8h0M241.7 327.3h0M250.9 335.4h0M238.6 323.7h0M245.4 343.0h0M241.5 335.4h0M236.4 345.0h0M239.2 332.9h0M246.5 345.1h0M251.9 333.1h0M230.0 332.6h0M246.6 339.9h0M243.5 341.7h0M248.0 326.0h0M249.2 331.9h0M233.2 345.4h0M242.9 333.6h0M238.5 326.8h0M245.9 319.6h0M251.1 338.8h0M247.4 338.0h0M247.9 323.5h0M243.5 341.4h0M239.9 335.4h0M245.3 338.7h0M236.8 324.4h0M239.9 333.1h0M249.2 338.3h0M238.9 319.2h0M238.2 320.4h0M248.2 347.9h0M246.7 336.6h0M243.1 344.8h0M246.4 316.6h0M245.0 333.9h0M242.8 328.7h0M242.8 351.8h0M237.4 313.4h0M246.7 328.1h0M249.5 335.3h0M249.0 331.2h0M243.1 327.3h0M251.3 348.0h0M242.6 331.6h0M230.7 321.0h0M235.7 318.6h0M244.1 334.4h0M240.5 344.0h0M242.1 330.0h0M244.9 319.4h0M240.4 326.8h0M251.5 349.1h0M240.4 336.0h0M249.7 313.5h0M239.7 336.7h0M247.6 347.2h0M242.3 330.4h0M247.3 341.7h0M234.9 328.4h0M237.3 322.8h0M240.9 308.8h0M247.6 315.8h0M238.6 315.9h0M244.2 328.6h0M232.5 336.8h0M240.9 339.1h0M246.1 338.0h0M233.5 305.3h0M241.4 341.3h0M245.3 333.5h0M247.4 327.7h0M244.3 305.8h0M239.1 330.0h0M238.6 347.6h0M231.0 324.1h0M235.9 328.0h0M248.4 328.4h0M243.0 338.9h0M247.3 334.0h0M246.3 332.4h0M239.6 319.2h0M242.3 322.2h0M248.8 335.7h0M241.5 353.8h0M234.1 319.8h0M240.3 321.2h0M242.9 332.7h0M243.5 335.5h0M248.8 331.0h0M242.5 326.7h0M240.7 339.8h0M232.1 336.6h0M245.9 329.5h0M254.4 339.4h0M247.0 320.9h0M242.0 333.6h0M244.3 329.6h0M233.9 320.1h0M243.4 335.2h0M235.0 342.7h0M242.6 336.6h0M243.6 328.6h0M235.2 345.8h0M243.0 325.8h0M240.1 330.8h0M243.2 325.4h0M242.5 325.9h0M243.0 340.4h0M239.0 323.7h0M251.4 340.0h0M242.3 335.1h0M245.8 339.1h0M244.9 336.1h0M243.6 337.7h0M243.4 334.4h0M232.0 333.4h0M246.4 336.8h0M229.8 319.0h0M244.2 327.5h0M237.3 329.3h0M244.2 327.9h0M241.2 351.0h0M242.0 328.5h0M240.9 336.9h0M240.0 336.4h0M238.0 331.9h0M239.1 322.8h0M235.1 332.8h0M243.0 347.1h0M240.0 325.6h0M252.4 327.2h0M232.6 350.1h0M243.0 343.5h0M246.2 337.3h0M239.9 333.1h0M242.1 320.6h0M234.0 341.2h0M245.2 330.6h0M231.5 327.9h0M248.3 332.7h0M243.7 327.3h0M237.6 333.3h0M239.2 343.0h0M241.7 330.2h0M246.5 346.6h0M239.5 327.1h0M235.7 325.3h0M242.3 336.3h0M244.3 338.0h0M230.1 316.0h0M242.4 337.1h0M235.7 334.3h0M235.3 308.6h0M240.3 361.9h0M251.4 340.1h0M245.8 333.5h0M250.9 330.4h0M233.8 326.9h0M237.7 318.2h0M242.4 344.5h0M246.6 306.9h0M243.1 336.9h0M238.4 327.5h0M242.0 341.3h0M235.6 328.4h0M241.8 319.9h0M238.5 317.5h0M235.6 332.4h0M239.7 324.8h0M243.2 323.0h0M245.1 331.1h0M251.4 329.7h0M241.8 323.8h0M242.5 325.3h0M242.9 338.6h0M245.1 339.2h0M247.3 338.4h0M236.7 325.0h0M238.4 334.1h0M248.8 334.9h0M234.5 346.1h0M247.0 317.2h0M242.6 324.8h0M244.8 322.1h0M248.4 321.3h0M247.6 334.2h0M241.8 336.7h0M245.3 344.3h0M242.6 338.7h0M243.5 332.0h0M252.9 325.4h0M239.4 340.2h0M237.8 335.7h0M243.9 333.5h0M247.4 339.6h0M241.2 354.3h0M238.0 343.4h0M247.3 328.4h0M246.0 343.6h0M241.5 325.7h0M243.1 326.7h0M245.9 351.6h0M243.4 323.2h0M239.2 321.8h0M244.2 343.0h0M240.0 326.7h0M237.4 335.7h0M252.6 338.3h0M240.6 343.4h0M231.5 311.1h0M239.7 343.0h0M243.9 337.4h0M247.1 315.0h0M243.7 321.7h0M241.9 329.0h0M244.0 334.5h0M251.1 358.2h0M237.9 332.9h0M236.8 330.2h0M241.0 321.4h0M244.2 335.4h0M238.8 331.8h0M243.2 343.2h0M240.4 317.2h0M232.6 336.1h0M239.9 327.3h0M239.9 326.1h0M251.8 331.9h0M236.2 333.0h0M248.9 339.4h0M239.6 333.4h0M251.6 346.4h0M240.4 345.7h0M243.5 334.2h0M234.0 326.8h0M245.6 345.6h0M241.0 335.4h0M244.3 331.7h0M241.6 313.8h0M240.4 345.4h0M241.8 325.1h0M244.2 331.3h0M239.5 339.5h0M229.0 333.8h0M244.5 326.5h0M242.0 324.1h0M235.0 338.0h0M241.3 330.9h0M231.1 312.2h0M236.2 352.6h0M241.5 343.9h0M239.6 338.0h0M243.6 350.8h0M236.1 317.0h0M242.7 360.8h0M252.8 333.2h0M244.1 323.3h0M232.9 346.5h0M238.3 329.1h0M235.0 350.6h0M244.8 327.7h0M241.8 312.5h0M254.9 342.6h0M236.4 333.8h0M244.9 307.2h0M240.4 336.9h0M241.7 333.5h0M242.5 336.8h0M242.0 326.2h0M235.7 339.3h0M238.7 348.0h0M228.2 333.7h0M237.1 354.9h0M249.1 344.1h0M234.6 328.4h0M246.9 324.4h0M239.5 337.4h0M241.0 325.4h0M250.8 337.7h0M241.2 322.8h0M234.1 327.7h0M239.3 338.4h0M243.7 323.7h0M249.2 332.9h0M239.6 312.2h0M240.9 338.8h0M245.4 347.5h0M240.4 325.3h0M250.7 333.9h0M248.1 359.0h0M243.0 306.3h0M244.8 329.8h0M232.7 329.4h0M249.8 329.4h0M238.8 328.5h0M244.5 319.7h0M241.9 342.1h0M237.2 329.9h0M246.2 333.1h0M242.1 322.5h0M239.5 330.7h0M245.8 327.9h0M240.2 310.5h0M240.9 321.7h0M244.1 330.4h0M239.5 333.2h0M244.1 320.0h0M236.1 333.5h0M236.4 349.3h0M243.0 336.9h0M239.4 326.3h0M242.5 335.5h0M240.1 340.7h0M237.5 332.0h0M244.1 343.2h0M243.0 335.0h0M248.8 330.8h0M238.5 334.7h0M239.2 335.8h0M241.5 331.1h0M241.3 319.8h0M248.1 327.0h0M240.5 341.9h0M236.4 343.0h0M233.8 319.6h0M247.4 329.5h0M243.1 336.0h0M242.7 329.2h0M237.1 332.0h0M245.4 327.8h0M250.7 326.0h0M240.0 338.7h0M243.3 322.5h0M239.0 336.4h0M237.0 328.2h0M243.3 327.6h0M246.5 334.1h0M243.0 327.6h0M245.4 335.0h0M228.0 319.5h0M246.4 328.7h0M242.1 315.0h0M249.6 343.3h0M244.3 333.9h0M240.6 319.9h0M243.6 336.8h0M246.8 331.8h0M242.1 338.1h0M252.5 333.7h0M243.3 336.6h0M242.1 328.9h0M241.4 328.7h0M243.6 321.4h0M246.6 325.1h0M233.8 342.4h0M249.5 325.2h0M244.1 339.9h0M254.1 335.4h0M241.5 331.6h0M233.7 339.7h0M241.3 318.7h0M239.6 342.7h0M248.6 324.8h0M237.5 350.5h0M240.2 328.2h0M236.9 331.4h0M255.4 349.7h0M248.8 350.9h0M249.5 324.2h0M243.9 330.8h0M246.4 339.1h0M245.5 326.0h0M241.7 352.6h0M248.5 342.0h0M244.3 350.6h0M235.4 344.3h0M249.2 333.4h0M246.2 312.7h0M245.1 326.0h0M238.9 332.2h0M248.3 348.6h0M247.7 332.4h0M248.6 346.8h0M242.2 347.6h0M240.3 332.0h0M243.5 330.1h0M235.3 332.9h0M233.7 354.8h0M247.5 345.0h0M244.2 341.6h0M247.4 350.0h0M242.9 325.8h0M244.8 360.0h0M253.3 330.5h0M229.5 323.7h0M250.1 344.7h0M237.6 311.5h0M234.2 333.7h0M245.6 329.2h0M235.8 326.1h0M245.4 340.0h0M241.7 339.9h0M242.8 315.0h0M245.4 327.3h0M245.8 331.9h0M248.6 330.8h0M241.6 334.6h0M244.7 337.4h0M231.7 353.3h0M229.5 322.1h0M236.4 344.0h0M245.4 331.4h0M243.0 332.8h0M244.3 347.1h0M245.6 321.8h0M242.1 331.1h0M231.8 339.5h0M241.6 331.3h0M247.0 326.5h0M246.6 333.7h0M243.2 328.7h0M240.7 357.8h0M234.5 360.0h0M241.6 328.8h0M245.4 331.9h0M241.7 339.0h0M236.4 312.5h0M251.4 333.3h0M247.8 350.7h0M233.2 351.1h0M238.4 294.6h0M244.7 300.6h0M214.6 311.4h0M187.1 318.9h0M207.6 333.9h0M210.9 331.4h0M214.6 330.1h0M217.1 331.4h0M219.6 332.2h0M220.9 325.6h0M224.6 337.7h0M222.1 342.7h0M227.1 340.2h0M223.4 352.7h0M230.9 355.2h0M258.5 337.7h0M257.2 325.1h0M240.9 359.0h0M247.2 360.2h0M228.4 311.4h0" stroke="#1a699c" stroke-width="2.1" stroke-linecap="round" fill="none"/>
<rect x="172.70" y="281.10" width="58.80" height="8.90" fill="#fff" stroke="#999" stroke-width="0.45"/>
<line x1="173.70" y1="283.70" x2="176.70" y2="283.70" stroke="#3fa0e0" stroke-width="0.8"/>
<circle cx="175.20" cy="287.70" r="0.9" fill="#35a835"/>
<text x="177.90" y="284.80" class="lg" textLength="53.0" lengthAdjust="spacingAndGlyphs">Regression (y = -0.1169x - 1.6235)</text>
<text x="177.90" y="289.00" class="lg" textLength="46.3" lengthAdjust="spacingAndGlyphs">r = -0.129, p-value = 1.95e-05</text>
</g>
<text x="145.45" y="260.60" class="lab">C</text>
<rect x="297.60" y="264.30" width="121.10" height="125.90" fill="url(#fg)" stroke="#8eabd2" stroke-width="0.9" class="fr"/>
<g class="pl">
<rect x="312.40" y="281.50" width="104.50" height="93.90" fill="#fff"/>
<path d="M312.40 281.50H416.90M312.40 284.63H416.90M312.40 287.76H416.90M312.40 290.89H416.90M312.40 294.02H416.90M312.40 297.15H416.90M312.40 300.28H416.90M312.40 303.41H416.90M312.40 306.54H416.90M312.40 309.67H416.90M312.40 312.80H416.90M312.40 315.93H416.90M312.40 319.06H416.90M312.40 322.19H416.90M312.40 325.32H416.90M312.40 328.45H416.90M312.40 331.58H416.90M312.40 334.71H416.90M312.40 337.84H416.90M312.40 340.97H416.90M312.40 344.10H416.90M312.40 347.23H416.90M312.40 350.36H416.90M312.40 353.49H416.90M312.40 356.62H416.90M312.40 359.75H416.90M312.40 362.88H416.90M312.40 366.01H416.90M312.40 369.14H416.90M312.40 372.27H416.90M312.40 375.40H416.90" stroke="#dcdcdc" stroke-width="0.5" fill="none"/>
<rect x="312.40" y="281.50" width="104.50" height="93.90" stroke="#c4c8d0" stroke-width="0.6" fill="none"/>
<path d="M312.40 375.40H416.90" stroke="#b0c0d8" stroke-width="0.7" fill="none"/>
<text x="358.35" y="269.90" text-anchor="middle" class="tt" textLength="87.1" lengthAdjust="spacingAndGlyphs">hsa-miR-429 vs. SGMS1-AS1, 1085 samples (BRCA)</text>
<text x="359.15" y="275.50" text-anchor="middle" class="st">Data Source: starBase v3.0 project</text>
<path d="M412.20 268.10h3.4M412.20 269.20h3.4M412.20 270.30h3.4" stroke="#555" stroke-width="0.8"/>
<text x="312.40" y="380.10" text-anchor="middle" class="tk">-10</text>
<text x="333.30" y="380.10" text-anchor="middle" class="tk">-5</text>
<text x="354.20" y="380.10" text-anchor="middle" class="tk">0</text>
<text x="375.10" y="380.10" text-anchor="middle" class="tk">5</text>
<text x="396.00" y="380.10" text-anchor="middle" class="tk">10</text>
<text x="415.40" y="380.10" text-anchor="middle" class="tk">15</text>
<text x="309.80" y="282.60" text-anchor="end" class="tk">3</text>
<text x="309.80" y="294.34" text-anchor="end" class="tk">2</text>
<text x="309.80" y="306.08" text-anchor="end" class="tk">1</text>
<text x="309.80" y="317.81" text-anchor="end" class="tk">0</text>
<text x="309.80" y="329.55" text-anchor="end" class="tk">-1</text>
<text x="309.80" y="341.29" text-anchor="end" class="tk">-2</text>
<text x="309.80" y="353.02" text-anchor="end" class="tk">-3</text>
<text x="309.80" y="364.76" text-anchor="end" class="tk">-4</text>
<text x="309.80" y="376.50" text-anchor="end" class="tk">-5</text>
<text x="364.65" y="385.90" text-anchor="middle" class="ax">hsa-miR-429, Expression level: log2(RPM+0.01)</text>
<text transform="translate(303.90 328.45) rotate(-90)" text-anchor="middle" class="ax">SGMS1-AS1, Expression level: log2(FPKM+0.01)</text>
<line x1="326.57" y1="316.88" x2="398.70" y2="332.15" stroke="#e8484a" stroke-width="0.7"/>
<path d="M382.2 335.0h0M374.3 320.7h0M375.2 329.1h0M373.9 337.5h0M384.8 335.0h0M380.8 324.2h0M380.8 336.5h0M377.8 335.1h0M382.3 350.3h0M373.5 333.4h0M377.5 324.8h0M384.0 335.4h0M378.0 322.6h0M370.8 326.6h0M382.7 337.3h0M386.2 324.7h0M381.3 333.1h0M384.2 321.2h0M379.6 328.2h0M379.2 335.5h0M379.1 314.9h0M378.5 321.9h0M392.1 348.9h0M381.4 339.5h0M386.1 339.0h0M378.1 338.9h0M381.8 344.0h0M377.3 333.0h0M368.3 320.4h0M386.7 341.3h0M382.8 343.4h0M381.9 324.2h0M383.5 317.7h0M378.5 330.6h0M378.0 313.7h0M390.3 338.9h0M384.9 339.3h0M374.8 322.2h0M379.3 322.4h0M382.5 331.2h0M386.6 318.1h0M385.3 321.8h0M376.1 338.4h0M384.5 333.8h0M386.2 331.8h0M383.5 305.8h0M389.6 329.3h0M376.8 326.2h0M375.0 330.5h0M375.1 328.5h0M379.8 340.6h0M372.5 338.1h0M377.4 328.4h0M377.5 307.9h0M380.8 360.6h0M377.0 337.4h0M378.7 314.5h0M380.3 324.6h0M378.4 335.9h0M380.9 316.5h0M381.4 346.1h0M376.7 313.0h0M380.4 335.2h0M391.2 337.8h0M381.4 342.6h0M382.6 317.4h0M378.4 335.2h0M378.6 312.0h0M385.2 321.4h0M376.2 351.3h0M382.5 337.1h0M384.1 322.1h0M385.8 323.2h0M381.3 322.4h0M384.4 326.2h0M378.0 326.2h0M377.5 335.3h0M375.7 340.1h0M378.1 318.9h0M386.9 333.9h0M379.5 338.8h0M384.5 326.5h0M375.7 324.2h0M377.9 341.2h0M377.5 329.4h0M379.0 338.7h0M382.4 328.6h0M381.4 356.7h0M377.2 325.3h0M382.9 315.9h0M381.5 321.0h0M386.5 336.4h0M375.5 318.6h0M374.7 325.3h0M384.5 337.8h0M377.8 331.4h0M382.2 333.2h0M376.1 333.8h0M379.2 320.2h0M384.3 345.3h0M374.9 341.7h0M383.5 325.6h0M376.6 322.2h0M389.7 344.0h0M385.3 340.2h0M378.0 340.3h0M377.2 341.4h0M376.6 339.8h0M377.4 318.8h0M378.1 333.6h0M369.2 334.3h0M380.6 328.5h0M386.8 329.0h0M373.5 329.1h0M383.5 342.5h0M380.2 349.4h0M378.7 326.7h0M377.5 345.1h0M374.9 330.5h0M378.4 342.4h0M372.5 313.3h0M381.9 344.9h0M371.0 319.3h0M370.1 335.4h0M379.0 325.1h0M395.1 340.6h0M380.0 320.2h0M385.9 354.1h0M393.9 336.7h0M383.8 319.7h0M383.4 324.6h0M379.9 333.0h0M382.2 332.4h0M383.4 336.7h0M379.0 349.6h0M393.8 305.0h0M381.6 324.1h0M384.5 311.8h0M388.7 343.5h0M371.1 311.3h0M379.2 321.0h0M376.7 332.0h0M378.6 351.4h0M380.8 350.9h0M381.1 336.8h0M375.6 340.9h0M391.1 336.9h0M384.9 323.0h0M376.7 341.3h0M374.3 338.0h0M384.8 326.8h0M381.6 322.4h0M373.7 348.0h0M379.7 342.7h0M376.7 337.7h0M380.4 330.8h0M380.4 355.3h0M373.6 317.9h0M381.3 323.6h0M382.8 311.9h0M372.0 336.1h0M381.8 336.5h0M378.3 329.8h0M383.5 324.9h0M382.9 341.7h0M375.5 331.1h0M372.7 328.2h0M383.2 328.8h0M381.3 319.5h0M382.9 353.6h0M380.2 324.3h0M377.0 319.6h0M386.2 337.1h0M385.2 345.4h0M390.4 348.0h0M385.2 334.9h0M380.6 334.4h0M380.7 338.0h0M375.5 340.5h0M384.1 337.6h0M379.7 334.1h0M387.6 335.7h0M384.5 327.9h0M389.8 342.3h0M374.4 334.2h0M384.2 318.5h0M373.3 339.0h0M377.8 320.4h0M377.9 327.0h0M382.4 327.1h0M389.2 316.3h0M376.5 320.7h0M377.4 331.1h0M379.1 316.5h0M376.8 319.7h0M387.4 334.3h0M377.5 325.3h0M379.0 323.9h0M378.0 345.5h0M388.3 346.7h0M381.5 330.1h0M378.0 336.0h0M376.3 329.5h0M377.2 328.7h0M375.7 338.8h0M384.3 330.1h0M383.8 320.0h0M380.1 336.7h0M372.5 334.2h0M374.0 334.4h0M383.6 340.1h0M389.0 325.7h0M376.6 326.2h0M371.9 335.1h0M375.0 322.1h0M382.5 329.2h0M380.5 328.9h0M384.0 338.6h0M382.4 336.1h0M383.0 334.3h0M388.3 351.0h0M380.6 337.1h0M390.6 339.4h0M384.7 328.6h0M382.6 326.6h0M378.7 319.2h0M379.4 345.5h0M377.5 332.6h0M379.1 340.3h0M390.4 345.2h0M380.9 335.0h0M370.6 327.6h0M373.1 338.4h0M389.5 330.7h0M385.2 328.3h0M377.4 324.1h0M373.8 309.8h0M391.7 346.0h0M380.3 342.7h0M374.2 332.3h0M379.6 326.9h0M376.9 318.9h0M384.5 352.3h0M377.0 333.6h0M380.1 311.5h0M376.1 325.0h0M391.0 326.2h0M387.7 331.7h0M381.3 352.4h0M391.7 324.1h0M379.4 353.3h0M379.1 338.0h0M387.4 311.2h0M382.4 337.8h0M382.0 342.5h0M384.4 343.1h0M382.8 324.8h0M379.1 340.0h0M385.2 332.5h0M389.0 334.1h0M391.4 333.4h0M380.7 332.6h0M379.3 319.1h0M380.8 341.5h0M367.4 355.8h0M389.4 350.8h0M378.8 314.7h0M369.7 320.5h0M377.5 328.1h0M383.1 344.1h0M382.3 312.9h0M390.9 321.9h0M374.0 355.7h0M383.7 336.1h0M388.9 324.8h0M390.8 324.5h0M373.8 332.4h0M385.2 339.5h0M380.8 350.6h0M383.0 336.3h0M375.5 347.8h0M370.1 335.8h0M384.8 336.1h0M376.4 330.7h0M370.1 341.2h0M376.7 324.7h0M376.5 330.1h0M375.1 328.9h0M384.9 331.5h0M382.5 331.4h0M373.6 336.6h0M392.4 328.3h0M379.8 329.4h0M380.2 342.7h0M376.7 327.4h0M379.1 332.5h0M383.3 314.5h0M373.8 318.6h0M380.8 326.7h0M378.1 320.9h0M386.8 307.4h0M377.0 325.8h0M381.1 318.7h0M371.4 322.9h0M387.7 323.6h0M387.6 335.0h0M371.8 331.0h0M377.0 345.9h0M380.9 328.6h0M382.1 321.8h0M381.6 344.4h0M376.3 322.4h0M391.2 326.9h0M380.8 346.5h0M376.4 342.6h0M373.9 323.5h0M385.7 333.1h0M383.0 329.2h0M374.3 339.0h0M385.9 336.6h0M383.1 336.8h0M377.9 326.7h0M377.2 329.4h0M382.6 322.8h0M382.4 322.3h0M386.0 319.9h0M381.4 315.8h0M385.4 314.8h0M378.1 317.9h0M376.0 325.2h0M378.5 328.8h0M384.3 325.3h0M379.2 324.3h0M381.2 319.6h0M379.2 345.0h0M381.7 326.2h0M375.6 344.0h0M387.0 338.7h0M379.8 327.3h0M376.2 314.3h0M379.7 331.1h0M381.0 346.2h0M382.3 315.3h0M385.0 341.0h0M379.3 344.4h0M379.1 336.6h0M376.0 318.0h0M389.4 323.1h0M373.0 321.6h0M380.6 334.7h0M381.1 323.1h0M385.5 331.3h0M385.4 316.2h0M384.9 340.4h0M388.9 323.8h0M377.2 329.1h0M371.6 332.2h0M387.1 325.6h0M389.8 355.6h0M385.2 322.1h0M392.8 337.7h0M372.3 346.1h0M380.7 320.8h0M383.2 346.1h0M377.6 336.3h0M392.4 313.5h0M378.7 334.8h0M375.1 327.9h0M385.0 330.7h0M378.4 332.7h0M374.0 320.1h0M380.7 338.3h0M369.6 335.9h0M381.2 335.0h0M376.5 342.2h0M381.6 353.7h0M375.6 326.9h0M386.4 337.3h0M370.3 348.2h0M379.9 335.1h0M378.1 322.3h0M379.6 330.6h0M377.1 322.2h0M381.0 336.3h0M382.5 322.3h0M374.1 348.5h0M377.1 319.0h0M371.9 324.6h0M379.1 335.7h0M387.5 333.5h0M382.7 310.7h0M381.4 344.4h0M380.0 322.5h0M370.3 317.3h0M367.3 353.9h0M381.4 329.3h0M372.4 343.1h0M382.6 345.9h0M380.9 315.5h0M381.1 324.7h0M383.9 331.5h0M381.5 312.3h0M380.0 317.5h0M375.1 326.7h0M382.4 341.8h0M383.9 336.1h0M377.2 326.0h0M388.5 347.3h0M383.3 335.1h0M379.0 357.3h0M378.5 351.5h0M376.2 325.7h0M381.7 330.3h0M379.5 335.6h0M381.4 329.7h0M380.3 332.6h0M380.1 339.5h0M379.2 333.6h0M380.7 342.2h0M378.9 340.3h0M379.7 318.5h0M382.7 314.9h0M379.6 334.5h0M378.4 326.3h0M381.9 328.7h0M381.2 347.0h0M376.3 342.0h0M383.8 348.7h0M383.4 330.7h0M385.6 334.6h0M383.7 340.1h0M381.2 327.0h0M382.8 325.9h0M381.1 320.9h0M377.3 341.1h0M371.5 356.8h0M383.1 347.0h0M389.7 350.1h0M380.6 312.9h0M382.6 330.1h0M379.7 319.1h0M371.8 340.1h0M384.5 328.1h0M369.3 332.1h0M379.8 329.9h0M388.0 340.8h0M383.2 329.8h0M379.5 312.6h0M384.7 327.3h0M382.7 321.5h0M383.6 328.2h0M389.6 354.4h0M381.6 338.0h0M376.4 314.6h0M372.0 339.4h0M379.4 331.8h0M393.1 353.6h0M380.5 326.8h0M373.3 329.5h0M373.1 327.5h0M383.8 325.0h0M381.0 340.4h0M368.7 315.9h0M384.4 332.4h0M383.8 337.8h0M384.9 326.9h0M377.4 309.7h0M377.4 349.9h0M375.3 325.3h0M383.5 341.9h0M381.2 334.8h0M380.4 311.6h0M372.6 326.9h0M375.2 313.9h0M370.1 328.8h0M385.3 341.8h0M375.8 334.1h0M377.2 335.6h0M382.5 330.4h0M379.9 321.8h0M377.3 325.2h0M389.2 334.5h0M379.1 344.6h0M389.0 339.4h0M380.9 340.8h0M382.7 317.0h0M381.4 346.4h0M382.6 326.1h0M390.6 331.2h0M381.6 333.3h0M391.1 343.3h0M367.6 331.9h0M378.5 326.1h0M376.5 334.3h0M380.3 323.9h0M377.7 339.4h0M373.5 334.8h0M380.0 322.8h0M386.0 328.5h0M385.6 340.6h0M376.9 320.5h0M384.5 339.5h0M378.7 341.5h0M375.9 328.5h0M378.9 352.8h0M380.3 339.9h0M382.8 338.6h0M381.5 338.5h0M380.9 321.8h0M374.9 338.3h0M368.0 340.8h0M385.8 330.4h0M377.0 336.8h0M383.7 326.0h0M373.2 332.7h0M382.4 338.2h0M380.3 330.3h0M378.5 332.1h0M382.5 346.9h0M378.5 338.9h0M379.9 338.4h0M383.0 311.5h0M378.9 324.9h0M382.3 336.9h0M384.3 315.9h0M381.3 355.5h0M379.6 333.8h0M380.2 356.0h0M378.4 323.3h0M379.8 336.2h0M384.7 308.9h0M378.5 320.4h0M391.1 346.4h0M377.7 324.6h0M371.7 336.3h0M383.7 342.0h0M376.7 329.1h0M383.7 336.6h0M375.9 328.6h0M378.7 302.6h0M388.3 336.9h0M379.7 334.8h0M381.3 324.1h0M384.5 320.8h0M377.8 315.6h0M384.1 342.2h0M382.4 335.0h0M383.6 337.6h0M374.6 324.8h0M385.5 338.0h0M390.0 310.7h0M369.8 322.8h0M384.3 338.3h0M383.3 325.9h0M378.8 329.2h0M383.8 309.0h0M379.2 337.0h0M378.5 318.3h0M385.2 345.4h0M382.1 323.6h0M373.7 327.7h0M374.8 345.3h0M385.3 320.5h0M377.4 337.8h0M382.4 320.4h0M384.3 352.8h0M382.6 321.1h0M374.4 325.8h0M392.6 349.5h0M384.7 341.7h0M384.1 312.6h0M381.5 331.5h0M381.1 325.8h0M381.1 323.2h0M389.2 320.1h0M377.3 330.7h0M382.6 311.7h0M380.1 320.5h0M372.1 349.0h0M372.9 333.9h0M386.0 323.7h0M382.1 327.0h0M378.9 314.3h0M386.8 331.7h0M381.9 333.4h0M378.5 339.3h0M388.8 341.7h0M374.3 323.9h0M377.6 325.0h0M390.5 327.4h0M383.6 334.4h0M383.8 338.0h0M388.7 304.1h0M380.8 332.6h0M385.5 335.6h0M378.2 320.1h0M377.5 350.2h0M379.1 315.8h0M380.4 333.0h0M378.7 326.4h0M389.6 315.2h0M376.8 330.3h0M379.7 305.2h0M384.6 332.0h0M379.0 327.8h0M373.4 353.3h0M379.8 335.5h0M370.7 315.1h0M374.1 325.2h0M383.4 329.0h0M385.9 331.9h0M380.6 333.6h0M380.0 347.2h0M372.0 318.9h0M384.2 324.5h0M387.2 333.9h0M380.5 343.2h0M381.5 351.4h0M392.4 350.2h0M379.4 322.7h0M393.6 348.3h0M369.8 333.9h0M387.6 325.2h0M368.9 324.8h0M374.8 307.1h0M373.0 322.6h0M381.3 329.3h0M377.5 326.5h0M376.9 332.8h0M376.9 324.7h0M386.2 339.6h0M380.4 346.5h0M383.5 325.9h0M380.8 318.9h0M385.1 332.8h0M370.6 315.2h0M386.4 338.2h0M381.4 340.1h0M378.2 340.2h0M382.9 338.8h0M375.6 350.3h0M385.4 339.2h0M382.4 329.1h0M377.7 318.9h0M375.3 319.8h0M374.4 331.4h0M377.1 333.7h0M372.1 322.8h0M375.4 325.2h0M376.0 319.0h0M384.8 328.2h0M383.5 324.8h0M382.2 330.7h0M373.8 331.1h0M389.2 324.4h0M381.7 331.9h0M385.7 333.7h0M384.3 356.3h0M384.5 329.6h0M375.9 326.8h0M385.5 332.1h0M384.3 324.6h0M378.9 341.6h0M389.2 347.2h0M376.3 328.2h0M390.1 331.8h0M379.8 310.1h0M388.4 336.2h0M376.9 321.4h0M385.2 326.7h0M378.6 337.0h0M389.7 330.3h0M387.2 332.7h0M379.5 314.6h0M381.5 324.4h0M387.4 341.6h0M376.1 328.5h0M384.7 339.7h0M385.0 330.8h0M383.3 314.9h0M382.9 301.5h0M389.8 343.7h0M378.9 337.4h0M386.9 337.4h0M385.6 331.7h0M370.0 325.1h0M374.7 336.6h0M384.8 324.4h0M380.0 313.4h0M379.1 328.8h0M379.9 334.6h0M379.3 316.4h0M383.4 351.6h0M377.3 323.4h0M376.7 336.0h0M384.6 322.3h0M383.0 340.3h0M385.7 335.9h0M366.9 330.5h0M375.2 316.0h0M380.5 331.0h0M381.5 324.3h0M381.7 343.5h0M385.5 333.2h0M380.4 339.2h0M383.9 331.6h0M378.7 338.2h0M380.3 332.1h0M380.1 315.3h0M381.6 349.6h0M382.8 346.8h0M386.0 342.7h0M384.8 339.4h0M376.6 313.2h0M379.0 333.7h0M385.1 316.8h0M390.3 343.4h0M379.1 335.1h0M385.7 309.4h0M383.7 328.8h0M378.5 321.6h0M386.7 341.4h0M382.9 336.5h0M375.7 317.2h0M380.7 321.7h0M382.9 339.8h0M384.1 335.3h0M379.2 325.6h0M376.3 323.7h0M385.2 338.1h0M390.2 344.0h0M376.3 323.8h0M384.7 328.7h0M372.9 324.5h0M381.6 314.7h0M370.3 302.7h0M380.9 321.6h0M376.4 333.1h0M382.5 351.4h0M374.8 335.2h0M379.9 349.9h0M384.9 328.2h0M385.3 333.4h0M379.6 336.2h0M383.0 333.5h0M377.8 338.3h0M378.1 334.5h0M370.3 319.6h0M378.5 336.3h0M369.4 328.8h0M382.6 335.5h0M377.3 334.9h0M373.0 335.1h0M375.3 315.6h0M379.8 333.5h0M372.5 324.9h0M380.5 322.2h0M377.7 358.6h0M379.2 348.6h0M380.0 340.5h0M383.9 337.5h0M386.5 338.3h0M378.1 307.3h0M383.7 326.2h0M367.6 332.3h0M380.6 335.6h0M383.1 332.9h0M369.4 316.1h0M376.0 330.7h0M379.9 350.1h0M372.0 327.5h0M388.8 327.6h0M382.4 327.3h0M384.0 339.4h0M373.8 332.6h0M379.6 319.7h0M385.7 314.0h0M383.0 330.8h0M377.6 332.0h0M383.5 327.3h0M393.6 328.3h0M384.3 337.5h0M381.6 322.7h0M381.3 330.7h0M389.4 345.1h0M383.3 328.5h0M380.9 334.8h0M384.4 335.6h0M374.5 345.6h0M375.5 328.3h0M376.7 325.1h0M383.8 319.7h0M381.8 332.7h0M373.4 311.4h0M382.8 326.1h0M381.2 316.0h0M378.1 326.2h0M384.6 340.4h0M381.2 329.3h0M383.9 330.3h0M382.0 327.8h0M387.1 322.1h0M389.3 333.5h0M381.7 315.2h0M381.7 343.5h0M383.2 335.4h0M375.0 325.7h0M376.6 324.9h0M384.4 321.7h0M369.7 315.8h0M384.2 347.3h0M374.1 331.3h0M377.0 329.4h0M383.7 318.1h0M379.5 340.2h0M376.3 327.7h0M374.8 329.2h0M385.4 315.7h0M380.7 335.7h0M393.0 337.7h0M377.1 341.9h0M383.9 342.0h0M377.1 314.0h0M381.3 337.4h0M377.2 321.0h0M367.4 317.5h0M377.3 329.0h0M385.2 327.9h0M379.0 334.8h0M373.5 328.0h0M380.9 325.1h0M378.9 319.0h0M379.0 330.2h0M383.6 321.2h0M387.1 345.7h0M385.7 349.6h0M386.7 318.0h0M386.7 339.8h0M378.8 336.3h0M380.5 329.1h0M370.9 320.6h0M382.8 326.8h0M383.0 342.0h0M379.4 330.9h0M372.4 305.9h0M392.0 345.6h0M387.4 326.4h0M379.9 325.3h0M367.5 320.4h0M377.8 341.4h0M375.8 332.0h0M380.0 324.3h0M374.5 330.4h0M379.2 353.4h0M381.2 323.4h0M372.2 330.0h0M390.1 339.1h0M371.4 330.5h0M384.6 350.1h0M377.7 345.8h0M370.8 326.7h0M376.7 337.0h0M380.0 332.5h0M388.4 322.1h0M382.8 325.5h0M375.7 314.8h0M379.4 355.1h0M381.2 305.7h0M377.3 334.2h0M385.2 322.4h0M372.4 323.5h0M376.7 340.0h0M375.8 329.6h0M378.8 323.2h0M394.3 314.0h0M378.7 329.8h0M385.1 336.4h0M381.1 318.3h0M381.9 329.8h0M382.1 327.1h0M376.9 319.3h0M376.7 322.9h0M385.1 324.6h0M381.8 318.5h0M382.9 333.6h0M376.0 340.7h0M383.7 349.0h0M374.3 323.7h0M381.3 307.8h0M384.5 300.8h0M369.4 320.6h0M374.2 314.9h0M378.7 336.8h0M381.7 320.2h0M382.8 332.9h0M389.8 342.9h0M374.4 340.2h0M376.0 319.2h0M383.9 329.6h0M377.2 330.8h0M373.1 328.1h0M389.8 340.4h0M381.6 329.1h0M383.6 339.5h0M380.8 321.3h0M376.5 335.7h0M383.3 329.7h0M376.9 327.3h0M389.9 337.8h0M383.9 328.2h0M378.5 340.0h0M378.6 322.2h0M378.9 344.2h0M378.9 311.5h0M382.4 333.3h0M381.8 336.0h0M373.2 352.9h0M380.7 336.2h0M378.4 319.6h0M383.0 319.0h0M375.9 321.4h0M384.0 336.0h0M374.4 342.4h0M381.9 313.7h0M377.2 337.3h0M381.2 335.2h0M391.3 310.9h0M384.0 332.5h0M386.8 319.3h0M374.6 334.5h0M377.5 327.8h0M384.4 323.3h0M378.4 346.6h0M382.1 325.8h0M375.4 325.4h0M375.6 330.3h0M381.8 339.0h0M381.7 324.9h0M383.2 332.4h0M377.6 330.0h0M384.6 328.4h0M374.1 336.5h0M384.8 324.0h0M380.1 336.0h0M384.0 320.7h0M376.7 326.8h0M380.4 325.4h0M382.0 331.3h0M377.4 319.9h0M376.6 316.1h0M385.4 329.2h0M392.2 340.1h0M381.6 339.6h0M378.1 327.0h0M385.1 349.6h0M378.9 322.2h0M385.5 312.0h0M379.7 359.0h0M386.1 328.3h0M375.5 306.7h0M374.6 332.8h0M376.2 316.0h0M381.7 331.3h0M387.3 342.0h0M382.9 327.0h0M380.8 317.5h0M376.3 323.2h0M372.8 327.9h0M375.2 336.3h0M377.2 311.0h0M375.0 326.0h0M385.1 337.7h0M383.3 325.1h0M383.2 317.2h0M382.9 342.2h0M379.7 316.2h0M383.5 324.9h0M381.5 340.8h0M374.7 343.9h0M391.4 335.0h0M370.5 321.8h0M383.3 333.6h0M383.7 322.9h0M380.0 340.9h0M377.5 347.6h0M381.3 342.5h0M374.6 327.6h0M377.2 327.5h0M370.3 308.9h0M382.3 338.7h0M381.5 326.5h0M379.7 340.0h0M371.0 320.3h0M379.2 348.2h0M375.6 331.1h0M386.6 354.0h0M377.5 345.6h0M370.3 352.1h0M383.4 329.7h0M380.9 325.5h0M383.9 331.8h0M384.8 336.7h0M380.3 320.4h0M382.8 324.5h0M387.1 321.9h0M383.3 341.4h0M382.6 342.5h0M381.3 319.5h0M391.1 346.6h0M377.5 322.7h0M372.3 340.2h0M384.1 340.1h0M389.5 334.7h0M379.4 318.9h0M373.7 331.0h0M377.4 329.4h0M380.4 339.5h0M383.8 326.3h0M380.2 320.2h0M386.5 342.4h0M379.0 323.9h0M378.9 326.7h0M384.7 324.2h0M389.0 311.9h0M382.3 325.4h0M377.9 316.4h0M371.5 318.8h0M374.7 338.2h0M381.7 340.9h0M386.2 315.3h0M372.5 327.5h0M387.5 333.0h0M382.6 345.3h0M380.4 346.9h0M382.9 316.3h0M380.0 360.9h0M370.8 334.8h0M379.4 324.6h0M380.5 334.7h0M384.2 350.9h0M379.0 329.7h0M382.6 314.3h0M378.9 336.0h0M380.3 319.3h0M380.9 340.6h0M385.1 334.4h0M382.4 328.1h0M382.2 320.1h0M389.4 331.9h0M383.9 330.4h0M326.6 326.4h0M347.9 318.1h0M356.6 322.1h0M357.9 325.1h0M352.9 330.1h0M354.1 335.2h0M351.6 338.2h0M361.6 330.7h0M364.1 331.4h0M361.6 338.9h0M355.4 345.7h0M357.9 346.4h0M364.1 352.2h0M366.6 343.9h0M371.7 350.2h0M398.7 320.6h0M395.4 331.4h0M383.7 364.7h0M371.7 300.6h0M386.7 299.6h0M371.7 305.1h0" stroke="#1a699c" stroke-width="2.1" stroke-linecap="round" fill="none"/>
<rect x="312.90" y="281.60" width="58.80" height="8.90" fill="#fff" stroke="#999" stroke-width="0.45"/>
<line x1="313.90" y1="284.20" x2="316.90" y2="284.20" stroke="#3fa0e0" stroke-width="0.8"/>
<circle cx="315.40" cy="288.20" r="0.9" fill="#35a835"/>
<text x="318.10" y="285.30" class="lg" textLength="53.0" lengthAdjust="spacingAndGlyphs">Regression (y = -0.0733x - 0.5987)</text>
<text x="318.10" y="289.50" class="lg" textLength="46.3" lengthAdjust="spacingAndGlyphs">r = -0.122, p-value = 5.91e-05</text>
</g>
<text x="286.60" y="260.10" class="lab">D</text>
<rect x="441.00" y="264.70" width="120.20" height="125.10" fill="url(#fg)" stroke="#8eabd2" stroke-width="0.9" class="fr"/>
<g class="pl">
<rect x="455.80" y="281.90" width="103.60" height="93.10" fill="#fff"/>
<path d="M455.80 281.90H559.40M455.80 285.00H559.40M455.80 288.11H559.40M455.80 291.21H559.40M455.80 294.31H559.40M455.80 297.42H559.40M455.80 300.52H559.40M455.80 303.62H559.40M455.80 306.73H559.40M455.80 309.83H559.40M455.80 312.93H559.40M455.80 316.04H559.40M455.80 319.14H559.40M455.80 322.24H559.40M455.80 325.35H559.40M455.80 328.45H559.40M455.80 331.55H559.40M455.80 334.66H559.40M455.80 337.76H559.40M455.80 340.86H559.40M455.80 343.97H559.40M455.80 347.07H559.40M455.80 350.17H559.40M455.80 353.28H559.40M455.80 356.38H559.40M455.80 359.48H559.40M455.80 362.59H559.40M455.80 365.69H559.40M455.80 368.79H559.40M455.80 371.90H559.40M455.80 375.00H559.40" stroke="#dcdcdc" stroke-width="0.5" fill="none"/>
<rect x="455.80" y="281.90" width="103.60" height="93.10" stroke="#c4c8d0" stroke-width="0.6" fill="none"/>
<path d="M455.80 375.00H559.40" stroke="#b0c0d8" stroke-width="0.7" fill="none"/>
<text x="501.30" y="270.30" text-anchor="middle" class="tt" textLength="85.0" lengthAdjust="spacingAndGlyphs">hsa-miR-429 vs. LINC00667, 1085 samples (BRCA)</text>
<text x="502.10" y="275.90" text-anchor="middle" class="st">Data Source: starBase v3.0 project</text>
<path d="M554.70 268.50h3.4M554.70 269.60h3.4M554.70 270.70h3.4" stroke="#555" stroke-width="0.8"/>
<text x="455.80" y="379.70" text-anchor="middle" class="tk">-10</text>
<text x="476.52" y="379.70" text-anchor="middle" class="tk">-5</text>
<text x="497.24" y="379.70" text-anchor="middle" class="tk">0</text>
<text x="517.96" y="379.70" text-anchor="middle" class="tk">5</text>
<text x="538.68" y="379.70" text-anchor="middle" class="tk">10</text>
<text x="557.90" y="379.70" text-anchor="middle" class="tk">15</text>
<text x="453.20" y="283.00" text-anchor="end" class="tk">6</text>
<text x="453.20" y="298.52" text-anchor="end" class="tk">4</text>
<text x="453.20" y="314.03" text-anchor="end" class="tk">2</text>
<text x="453.20" y="329.55" text-anchor="end" class="tk">0</text>
<text x="453.20" y="345.07" text-anchor="end" class="tk">-2</text>
<text x="453.20" y="360.58" text-anchor="end" class="tk">-4</text>
<text x="453.20" y="376.10" text-anchor="end" class="tk">-6</text>
<text x="507.60" y="385.50" text-anchor="middle" class="ax">hsa-miR-429, Expression level: log2(RPM+0.01)</text>
<text transform="translate(447.30 328.45) rotate(-90)" text-anchor="middle" class="ax">LINC00667, Expression level: log2(FPKM+0.01)</text>
<line x1="470.08" y1="308.36" x2="541.46" y2="317.13" stroke="#e8484a" stroke-width="0.7"/>
<path d="M521.9 318.0h0M519.4 304.5h0M512.5 310.4h0M518.4 307.3h0M523.2 310.0h0M523.5 317.7h0M519.4 313.0h0M528.0 309.3h0M525.0 314.1h0M526.9 310.8h0M530.8 308.1h0M529.3 312.4h0M524.2 317.1h0M524.1 316.8h0M525.9 315.0h0M525.9 313.5h0M526.7 304.2h0M526.8 304.8h0M520.7 322.8h0M533.7 316.1h0M530.0 309.2h0M529.0 316.0h0M521.2 306.4h0M521.4 312.3h0M517.9 304.4h0M535.8 318.2h0M516.2 310.5h0M524.3 307.0h0M521.4 311.5h0M516.1 310.2h0M526.0 319.5h0M518.3 308.2h0M519.5 299.6h0M526.1 303.1h0M524.0 315.7h0M520.8 312.0h0M523.6 306.0h0M527.3 310.8h0M529.8 311.1h0M525.9 307.1h0M525.6 308.2h0M517.9 313.0h0M533.0 307.7h0M523.9 312.4h0M522.8 314.2h0M528.1 317.0h0M524.3 318.5h0M531.7 314.1h0M527.8 308.9h0M523.4 309.8h0M519.8 305.2h0M523.3 316.3h0M529.1 319.3h0M530.7 311.6h0M524.2 308.2h0M529.1 313.9h0M525.1 314.6h0M525.4 307.3h0M526.0 315.2h0M524.8 310.4h0M513.8 308.0h0M525.9 312.8h0M514.0 310.6h0M523.7 314.9h0M523.2 308.5h0M530.7 314.5h0M524.8 305.5h0M524.8 313.9h0M523.9 311.3h0M528.7 309.0h0M516.2 299.6h0M513.9 310.0h0M529.1 313.7h0M522.1 315.5h0M521.7 318.3h0M513.0 314.2h0M517.6 310.7h0M521.4 314.3h0M517.4 305.6h0M528.1 316.1h0M528.7 308.7h0M515.1 306.7h0M529.5 312.5h0M525.1 314.8h0M522.9 302.8h0M517.3 312.0h0M526.4 310.9h0M532.6 313.7h0M529.8 315.6h0M525.8 310.4h0M525.0 309.2h0M529.3 310.5h0M525.9 314.6h0M521.7 302.4h0M530.2 310.8h0M530.4 312.8h0M529.1 318.3h0M522.7 316.8h0M527.0 313.0h0M522.0 313.4h0M513.2 322.8h0M524.8 313.7h0M534.3 310.5h0M520.5 310.8h0M522.0 303.6h0M519.7 313.6h0M522.6 311.2h0M528.2 312.2h0M524.4 300.7h0M517.2 318.1h0M523.6 311.6h0M525.9 315.8h0M536.4 315.1h0M533.5 310.0h0M531.9 300.3h0M524.8 311.3h0M518.0 302.7h0M528.4 315.1h0M522.7 308.3h0M528.7 311.7h0M532.9 310.7h0M520.3 314.0h0M527.1 314.0h0M527.2 310.1h0M512.3 305.7h0M522.6 305.3h0M521.0 310.4h0M532.4 315.4h0M519.8 314.2h0M529.8 312.5h0M531.2 310.8h0M527.6 323.0h0M524.9 302.8h0M521.6 304.4h0M522.8 312.4h0M528.1 312.0h0M522.9 312.6h0M524.7 316.5h0M525.1 311.7h0M518.1 307.9h0M527.9 312.8h0M514.3 328.4h0M528.3 306.3h0M517.1 311.8h0M527.3 315.5h0M519.8 311.9h0M529.7 310.0h0M529.5 317.0h0M530.2 323.9h0M525.8 316.7h0M527.2 316.2h0M517.0 323.7h0M524.4 315.7h0M531.4 318.5h0M534.9 311.4h0M521.4 312.1h0M524.5 319.0h0M527.5 316.2h0M530.2 309.6h0M534.9 310.5h0M524.1 314.8h0M518.2 307.2h0M519.0 310.6h0M526.0 311.7h0M528.4 317.9h0M527.3 307.2h0M517.1 307.3h0M526.0 306.9h0M525.5 311.5h0M532.3 309.2h0M516.4 304.8h0M524.6 314.7h0M521.2 312.8h0M523.7 316.9h0M516.8 304.3h0M518.1 314.1h0M519.8 317.3h0M521.4 321.3h0M530.3 313.1h0M514.8 329.0h0M519.8 321.2h0M532.6 323.7h0M523.6 316.1h0M519.2 310.7h0M519.8 306.8h0M514.7 318.6h0M524.7 312.8h0M519.9 311.0h0M525.8 312.3h0M525.9 310.7h0M516.7 310.9h0M515.1 299.6h0M526.8 310.8h0M518.4 324.3h0M534.0 310.9h0M517.3 310.3h0M519.1 310.3h0M519.7 318.8h0M517.5 317.8h0M519.2 317.2h0M525.9 309.5h0M519.6 315.4h0M528.9 311.9h0M523.0 312.8h0M522.6 311.2h0M518.5 307.9h0M524.3 315.9h0M527.4 318.9h0M518.6 309.0h0M524.2 303.4h0M521.6 307.8h0M529.3 310.4h0M525.3 321.3h0M526.1 308.3h0M520.3 311.8h0M522.2 306.4h0M523.0 321.6h0M522.8 317.3h0M535.0 309.4h0M524.6 314.7h0M522.9 318.1h0M525.4 312.9h0M523.4 314.1h0M519.9 316.8h0M530.4 311.8h0M529.7 319.1h0M526.7 310.1h0M529.2 308.9h0M531.8 316.5h0M523.6 304.6h0M530.7 312.9h0M520.0 307.6h0M528.2 302.3h0M526.6 326.2h0M520.9 313.1h0M530.9 312.0h0M519.1 315.4h0M534.1 311.2h0M530.5 300.3h0M518.3 310.3h0M520.5 311.1h0M527.6 312.3h0M529.8 313.3h0M520.0 303.4h0M530.5 317.1h0M516.5 312.4h0M517.3 311.7h0M523.6 305.3h0M524.8 308.2h0M514.9 320.5h0M525.2 306.2h0M519.2 313.9h0M515.3 308.5h0M528.2 309.1h0M522.6 302.1h0M521.5 313.3h0M531.1 305.8h0M519.4 311.6h0M519.8 312.0h0M512.7 298.6h0M528.7 322.3h0M520.0 308.6h0M521.3 320.8h0M525.1 307.4h0M529.0 312.5h0M528.0 309.4h0M530.3 301.2h0M528.1 312.2h0M527.0 307.2h0M521.7 314.7h0M525.0 311.0h0M526.1 304.5h0M521.0 322.0h0M519.0 316.6h0M524.1 320.3h0M516.0 314.2h0M527.9 312.6h0M527.2 319.6h0M523.7 318.9h0M523.9 305.1h0M531.7 314.5h0M516.2 306.7h0M524.8 311.7h0M519.6 307.4h0M530.6 307.6h0M521.2 308.8h0M525.7 309.4h0M522.5 316.4h0M526.7 314.4h0M527.6 311.1h0M520.2 316.0h0M523.1 309.9h0M518.5 308.3h0M529.9 314.6h0M529.7 309.8h0M523.0 312.8h0M519.3 318.5h0M524.3 303.2h0M515.4 310.6h0M518.1 316.3h0M519.2 315.1h0M520.6 317.3h0M525.1 316.0h0M526.8 319.0h0M518.1 308.1h0M521.6 312.1h0M522.3 307.9h0M523.0 315.5h0M531.7 305.0h0M521.6 312.6h0M525.8 311.7h0M526.8 320.0h0M522.9 312.1h0M513.4 310.0h0M524.0 307.2h0M523.1 311.2h0M522.9 304.8h0M528.7 315.1h0M526.2 314.3h0M513.7 313.1h0M532.3 312.0h0M519.0 310.3h0M526.8 306.4h0M524.0 319.5h0M523.2 311.5h0M520.8 313.0h0M514.9 307.6h0M514.6 301.4h0M523.0 314.2h0M524.4 313.6h0M526.5 317.0h0M523.6 312.2h0M524.1 314.9h0M526.5 315.8h0M521.8 312.4h0M528.0 308.6h0M525.8 311.9h0M524.5 304.9h0M529.9 320.7h0M533.5 305.7h0M516.4 310.7h0M524.1 313.2h0M530.0 320.2h0M517.7 320.5h0M521.6 313.0h0M521.7 321.7h0M527.3 311.9h0M525.5 311.3h0M520.1 308.8h0M537.2 308.5h0M521.8 305.6h0M533.3 314.5h0M525.1 314.9h0M522.3 311.4h0M520.7 313.5h0M517.9 306.3h0M523.6 313.3h0M520.8 303.4h0M527.4 304.3h0M534.4 323.9h0M527.2 314.6h0M519.3 325.5h0M519.5 312.1h0M520.0 324.2h0M511.0 304.3h0M524.1 304.2h0M525.2 318.2h0M521.9 308.8h0M527.6 305.3h0M517.1 313.9h0M531.5 309.0h0M525.2 311.5h0M522.7 309.6h0M522.8 308.5h0M533.0 312.9h0M526.3 305.6h0M532.8 309.4h0M519.8 316.4h0M526.4 316.4h0M522.4 312.2h0M527.4 326.8h0M520.3 307.3h0M520.6 308.0h0M526.9 319.0h0M520.9 308.6h0M525.1 311.3h0M519.9 311.3h0M530.2 317.7h0M523.0 316.4h0M530.7 316.7h0M525.9 317.5h0M522.2 316.5h0M512.5 310.4h0M522.5 311.2h0M523.2 310.1h0M526.1 313.0h0M517.8 315.9h0M528.2 316.4h0M523.6 304.8h0M527.0 318.7h0M526.7 317.6h0M525.5 312.2h0M517.0 313.2h0M530.9 317.6h0M524.4 305.5h0M528.1 318.3h0M515.0 307.1h0M524.5 321.8h0M522.9 325.5h0M529.3 311.1h0M532.0 305.7h0M519.0 313.0h0M513.0 317.7h0M522.0 311.6h0M523.9 313.3h0M519.8 307.3h0M515.4 308.5h0M523.8 312.8h0M525.4 310.4h0M517.7 318.0h0M531.6 298.6h0M509.8 321.7h0M523.2 317.5h0M525.7 309.9h0M520.3 304.3h0M521.2 314.7h0M515.3 314.7h0M525.2 312.9h0M528.0 323.3h0M524.3 312.8h0M523.1 311.2h0M522.3 320.3h0M523.9 318.5h0M523.3 308.7h0M521.2 311.7h0M524.1 307.1h0M521.1 316.2h0M520.3 315.2h0M527.5 320.3h0M525.7 311.2h0M518.3 309.7h0M528.1 308.8h0M526.7 320.6h0M524.3 305.9h0M522.3 306.9h0M527.1 317.3h0M529.8 308.8h0M530.8 318.5h0M523.0 308.7h0M523.4 318.7h0M529.5 309.3h0M525.3 309.2h0M517.7 311.9h0M525.1 319.1h0M529.5 307.5h0M524.6 312.1h0M522.9 311.7h0M528.8 319.3h0M520.9 314.9h0M527.0 317.9h0M524.7 315.5h0M515.5 311.8h0M519.2 309.0h0M521.5 315.4h0M525.3 305.2h0M519.5 317.6h0M519.8 315.4h0M520.5 306.6h0M517.3 315.5h0M520.5 311.0h0M519.9 315.3h0M520.4 312.6h0M518.1 318.5h0M521.1 310.9h0M514.3 322.6h0M520.1 318.4h0M520.3 300.7h0M521.7 309.5h0M518.6 304.5h0M524.6 307.1h0M531.1 312.5h0M529.1 304.5h0M532.5 310.5h0M517.7 314.4h0M530.0 307.7h0M513.6 313.4h0M521.7 313.7h0M519.2 318.4h0M521.7 313.5h0M526.5 308.3h0M526.0 312.7h0M525.2 311.4h0M519.0 312.5h0M520.7 307.0h0M528.4 315.5h0M523.5 314.9h0M525.3 309.1h0M528.4 302.2h0M517.5 307.2h0M519.1 307.6h0M518.7 310.3h0M521.6 312.3h0M528.6 304.7h0M518.5 315.5h0M518.1 311.3h0M523.6 313.1h0M528.3 319.9h0M523.7 309.1h0M524.0 299.4h0M523.4 308.0h0M522.2 305.8h0M517.9 314.1h0M531.6 323.8h0M525.9 310.8h0M521.7 310.2h0M526.2 318.7h0M522.9 308.9h0M522.7 311.1h0M510.8 306.5h0M517.9 301.7h0M523.6 314.2h0M519.9 304.0h0M511.2 314.7h0M530.5 320.7h0M538.1 302.5h0M526.8 316.4h0M518.8 316.3h0M526.9 311.9h0M525.6 309.6h0M523.3 318.4h0M524.3 319.9h0M527.3 310.8h0M518.1 314.0h0M523.7 318.4h0M518.9 315.9h0M526.2 317.1h0M522.4 309.5h0M525.1 319.8h0M516.5 314.3h0M513.5 314.7h0M518.6 310.0h0M521.3 308.6h0M515.1 307.6h0M522.2 306.0h0M521.8 314.7h0M524.8 307.1h0M523.8 310.6h0M523.9 310.9h0M519.6 314.8h0M524.7 307.5h0M534.2 312.6h0M523.8 304.8h0M511.8 317.9h0M517.2 308.1h0M515.7 307.4h0M524.6 309.0h0M522.6 320.2h0M535.4 315.7h0M524.4 317.5h0M524.0 308.2h0M524.8 318.1h0M524.7 305.4h0M522.3 310.7h0M521.5 308.2h0M534.5 326.0h0M532.1 308.6h0M523.6 306.3h0M521.8 305.2h0M527.3 328.4h0M511.6 316.6h0M522.0 315.3h0M521.9 312.0h0M524.1 311.3h0M516.3 316.7h0M521.4 312.2h0M526.7 309.4h0M527.7 310.9h0M528.1 317.5h0M529.2 302.3h0M524.4 314.2h0M521.2 307.5h0M523.5 309.2h0M521.3 313.5h0M528.5 322.9h0M518.1 314.1h0M528.1 317.5h0M520.6 310.2h0M527.7 318.6h0M528.9 319.6h0M524.5 314.6h0M524.4 310.6h0M520.8 300.4h0M522.5 312.7h0M526.4 309.9h0M531.0 300.6h0M517.5 315.1h0M524.2 313.0h0M520.2 310.4h0M522.5 310.0h0M528.5 307.9h0M521.1 310.3h0M522.9 306.8h0M524.3 318.8h0M519.4 318.3h0M519.0 312.8h0M520.2 308.5h0M527.2 315.4h0M519.0 310.0h0M530.4 307.1h0M533.3 321.5h0M514.7 304.7h0M520.9 313.3h0M522.5 304.7h0M509.8 308.9h0M528.4 313.1h0M524.8 307.7h0M523.7 309.4h0M521.2 310.4h0M524.8 307.8h0M527.4 313.7h0M520.5 304.1h0M524.7 314.0h0M520.6 316.8h0M526.6 310.1h0M519.7 309.5h0M524.0 317.4h0M522.3 305.8h0M528.2 316.3h0M518.6 309.6h0M531.3 315.1h0M527.8 314.8h0M525.9 309.2h0M535.2 320.6h0M515.6 304.5h0M529.0 309.6h0M528.1 309.7h0M527.8 310.3h0M524.8 306.8h0M518.2 314.3h0M522.9 320.4h0M529.9 308.1h0M524.1 312.4h0M528.9 303.3h0M521.5 326.3h0M518.3 318.3h0M522.0 307.2h0M525.5 315.2h0M521.0 310.2h0M526.9 309.6h0M529.2 313.0h0M523.3 311.7h0M520.5 308.2h0M529.8 303.2h0M520.2 310.5h0M526.3 316.3h0M512.4 307.3h0M528.1 312.6h0M530.2 317.0h0M527.0 307.7h0M519.6 319.4h0M520.3 303.2h0M523.4 308.2h0M528.3 315.7h0M523.5 315.5h0M514.8 316.8h0M518.4 309.6h0M527.0 305.4h0M521.9 315.1h0M527.0 314.2h0M519.7 314.4h0M524.3 307.5h0M514.5 315.8h0M529.7 318.2h0M524.1 308.1h0M535.6 315.9h0M524.1 321.8h0M520.6 314.1h0M526.6 313.8h0M523.5 317.8h0M528.0 315.4h0M519.0 308.3h0M526.8 313.4h0M530.8 315.5h0M529.1 312.7h0M519.1 307.2h0M519.2 313.9h0M510.8 314.3h0M516.5 306.6h0M518.3 311.8h0M529.3 312.6h0M531.4 311.7h0M522.9 315.7h0M520.4 313.7h0M519.0 312.2h0M520.8 306.2h0M524.2 313.3h0M522.3 308.1h0M522.7 310.8h0M515.1 310.7h0M519.8 313.3h0M520.0 306.0h0M526.9 314.1h0M525.0 305.9h0M523.2 312.9h0M529.0 308.5h0M523.3 316.1h0M533.1 314.6h0M524.0 313.7h0M532.9 308.9h0M530.4 306.1h0M522.2 317.0h0M524.5 313.7h0M521.7 307.3h0M525.7 310.6h0M525.6 325.8h0M529.8 310.7h0M521.7 317.1h0M515.4 311.8h0M512.0 316.8h0M523.0 317.8h0M526.6 316.5h0M531.0 318.5h0M527.2 305.7h0M521.7 305.6h0M527.3 315.8h0M520.5 316.5h0M524.8 320.7h0M533.7 308.6h0M516.6 311.9h0M525.1 319.4h0M528.7 312.9h0M520.9 305.9h0M518.7 310.5h0M523.8 304.9h0M525.1 304.4h0M529.8 297.4h0M528.3 310.9h0M524.0 309.2h0M532.4 318.4h0M521.9 314.2h0M521.0 307.7h0M528.4 322.9h0M525.0 303.6h0M521.9 305.3h0M519.7 309.5h0M526.4 305.0h0M521.4 305.0h0M522.6 306.1h0M524.1 305.9h0M530.9 314.9h0M523.1 312.9h0M526.8 310.4h0M524.7 303.0h0M524.2 321.5h0M531.3 311.3h0M528.8 309.3h0M522.8 310.0h0M527.5 309.4h0M525.7 319.2h0M525.9 307.0h0M522.1 313.8h0M522.9 308.6h0M520.9 314.8h0M519.6 315.8h0M523.0 305.1h0M524.5 314.5h0M523.0 310.5h0M526.7 317.4h0M520.6 305.4h0M523.0 313.1h0M518.9 306.3h0M533.0 311.7h0M518.4 310.0h0M519.9 316.7h0M519.4 313.7h0M520.9 312.4h0M518.0 310.5h0M515.2 311.2h0M526.9 312.1h0M518.6 308.8h0M521.2 314.1h0M526.2 304.3h0M520.1 309.9h0M523.7 306.9h0M535.1 306.0h0M529.8 317.6h0M523.2 309.6h0M526.6 313.3h0M517.6 310.8h0M525.1 307.8h0M519.1 316.2h0M524.7 315.7h0M527.2 320.3h0M517.4 308.6h0M532.4 325.9h0M527.0 307.7h0M523.2 310.8h0M522.6 307.0h0M527.1 300.9h0M516.9 322.8h0M524.7 310.5h0M522.7 312.6h0M525.2 307.9h0M524.8 307.1h0M520.8 321.2h0M523.1 316.5h0M526.3 306.6h0M526.3 312.7h0M522.7 310.2h0M525.7 310.1h0M525.6 313.1h0M519.0 308.7h0M520.6 311.4h0M530.7 318.4h0M526.6 311.0h0M526.6 318.7h0M519.8 306.0h0M530.7 311.7h0M521.2 316.0h0M526.2 312.0h0M520.6 319.3h0M523.3 307.2h0M523.8 312.2h0M525.6 311.3h0M523.6 311.1h0M528.3 328.0h0M519.5 308.7h0M517.5 311.1h0M523.3 302.6h0M520.2 314.4h0M524.4 310.2h0M523.8 315.8h0M517.1 304.4h0M513.0 305.9h0M522.1 313.9h0M513.5 319.7h0M523.1 321.3h0M518.9 314.2h0M529.9 320.8h0M524.7 310.6h0M525.0 311.1h0M530.5 308.8h0M525.8 307.1h0M522.6 307.9h0M528.0 307.2h0M518.7 314.4h0M523.9 317.2h0M528.0 315.2h0M536.7 312.2h0M522.8 310.2h0M527.3 316.2h0M529.8 311.4h0M523.3 309.7h0M521.7 329.1h0M528.1 309.6h0M527.0 319.0h0M526.8 310.5h0M514.1 303.4h0M517.0 313.1h0M518.8 317.4h0M523.1 312.1h0M520.4 314.1h0M529.2 318.7h0M533.0 311.0h0M512.5 317.3h0M522.9 314.0h0M523.3 317.8h0M527.0 309.1h0M528.1 315.6h0M522.3 311.9h0M522.5 311.9h0M528.5 305.5h0M523.0 310.7h0M529.1 312.9h0M523.8 314.2h0M529.7 320.1h0M516.6 313.9h0M526.7 306.6h0M523.5 309.8h0M526.0 316.7h0M522.6 317.8h0M514.7 325.0h0M515.7 315.4h0M524.3 320.2h0M521.9 317.9h0M524.0 317.9h0M522.1 321.4h0M522.5 327.1h0M517.6 316.4h0M528.1 319.8h0M516.6 316.9h0M529.5 324.7h0M520.0 325.5h0M526.8 317.9h0M524.0 325.8h0M524.6 327.2h0M523.8 322.6h0M522.4 323.8h0M531.1 323.4h0M529.3 317.5h0M522.0 315.4h0M528.6 335.3h0M512.3 326.1h0M519.1 326.0h0M523.7 334.8h0M527.6 321.2h0M532.7 316.1h0M527.7 316.4h0M525.8 330.2h0M524.8 322.7h0M523.7 330.8h0M523.4 320.5h0M525.2 323.0h0M521.6 332.9h0M521.8 320.2h0M518.9 330.5h0M528.4 321.6h0M523.1 321.0h0M520.2 325.6h0M520.3 318.1h0M522.3 321.9h0M525.5 324.1h0M525.2 317.1h0M520.6 320.9h0M529.7 320.4h0M525.8 325.0h0M521.2 327.4h0M533.5 326.5h0M522.6 324.5h0M528.7 322.1h0M529.3 323.0h0M527.3 320.1h0M527.3 324.3h0M527.1 323.9h0M521.3 321.9h0M513.2 325.3h0M527.0 322.8h0M524.2 319.8h0M518.8 329.9h0M522.6 319.9h0M521.9 315.6h0M524.5 325.7h0M523.9 330.2h0M519.9 327.1h0M523.9 320.6h0M522.0 320.4h0M521.6 324.1h0M518.9 316.6h0M529.0 317.0h0M527.4 316.7h0M525.5 327.1h0M526.2 326.0h0M516.2 319.6h0M529.2 319.1h0M520.9 321.5h0M523.7 325.8h0M530.3 325.0h0M524.7 321.5h0M525.6 320.4h0M521.7 318.3h0M524.3 324.8h0M524.6 322.3h0M520.1 322.3h0M520.0 322.8h0M516.8 326.0h0M516.1 320.7h0M515.3 333.6h0M528.2 323.5h0M515.9 324.8h0M516.3 320.2h0M521.2 325.5h0M523.2 324.9h0M513.1 318.5h0M520.3 322.5h0M517.8 325.5h0M516.5 325.9h0M524.5 327.6h0M522.8 330.0h0M520.8 320.5h0M524.5 316.5h0M520.3 320.5h0M520.7 320.2h0M523.6 322.6h0M518.1 326.3h0M523.2 325.2h0M531.3 330.1h0M521.1 323.0h0M523.5 333.4h0M522.9 325.3h0M521.5 330.6h0M523.7 326.3h0M517.9 326.4h0M524.2 325.0h0M517.1 315.7h0M519.2 322.4h0M516.7 321.1h0M515.1 330.2h0M523.9 321.3h0M522.6 327.4h0M518.6 326.2h0M524.7 321.5h0M513.3 326.3h0M522.8 331.5h0M521.9 315.8h0M532.7 321.4h0M520.2 326.9h0M514.8 327.3h0M524.4 325.4h0M519.8 324.7h0M526.7 324.3h0M529.7 326.1h0M521.9 323.1h0M516.3 318.9h0M527.7 328.5h0M520.1 323.5h0M514.7 318.1h0M533.2 329.3h0M520.0 324.7h0M521.0 323.8h0M523.6 323.8h0M520.0 325.8h0M528.8 330.2h0M530.6 323.0h0M521.0 317.4h0M527.4 329.2h0M522.1 326.4h0M527.3 321.6h0M519.2 321.9h0M523.3 325.4h0M523.8 327.3h0M521.6 320.5h0M521.0 324.1h0M523.5 323.4h0M529.7 325.9h0M519.3 319.4h0M520.0 324.4h0M524.4 325.1h0M522.3 324.7h0M525.4 330.2h0M513.3 322.3h0M519.2 324.1h0M521.8 319.4h0M525.4 324.6h0M511.7 324.0h0M523.2 327.4h0M523.8 331.3h0M517.0 323.9h0M523.5 325.0h0M527.6 321.3h0M527.4 322.4h0M470.1 314.4h0M490.6 308.1h0M497.6 309.6h0M500.6 310.1h0M503.4 307.6h0M493.9 313.9h0M496.4 316.4h0M500.1 318.1h0M502.6 321.4h0M505.6 316.4h0M507.6 318.9h0M512.7 325.1h0M541.5 305.9h0M526.4 338.9h0M530.2 337.2h0M537.7 337.2h0M535.2 344.7h0M533.4 358.4h0M508.9 312.6h0" stroke="#1a699c" stroke-width="2.1" stroke-linecap="round" fill="none"/>
<rect x="456.30" y="282.00" width="58.80" height="8.90" fill="#fff" stroke="#999" stroke-width="0.45"/>
<line x1="457.30" y1="284.60" x2="460.30" y2="284.60" stroke="#3fa0e0" stroke-width="0.8"/>
<circle cx="458.80" cy="288.60" r="0.9" fill="#35a835"/>
<text x="461.50" y="285.70" class="lg" textLength="53.0" lengthAdjust="spacingAndGlyphs">Regression (y = -0.0684x + 2.0686)</text>
<text x="461.50" y="289.90" class="lg" textLength="46.3" lengthAdjust="spacingAndGlyphs">r = -0.114, p-value = 1.61e-04</text>
</g>
<text x="428.80" y="260.40" class="lab">E</text>
<rect x="17.30" y="417.10" width="120.20" height="125.70" fill="url(#fg)" stroke="#8eabd2" stroke-width="0.9" class="fr"/>
<g class="pl">
<rect x="32.10" y="434.30" width="103.60" height="93.70" fill="#fff"/>
<path d="M32.10 434.30H135.70M32.10 437.42H135.70M32.10 440.55H135.70M32.10 443.67H135.70M32.10 446.79H135.70M32.10 449.92H135.70M32.10 453.04H135.70M32.10 456.16H135.70M32.10 459.29H135.70M32.10 462.41H135.70M32.10 465.53H135.70M32.10 468.66H135.70M32.10 471.78H135.70M32.10 474.90H135.70M32.10 478.03H135.70M32.10 481.15H135.70M32.10 484.27H135.70M32.10 487.40H135.70M32.10 490.52H135.70M32.10 493.64H135.70M32.10 496.77H135.70M32.10 499.89H135.70M32.10 503.01H135.70M32.10 506.14H135.70M32.10 509.26H135.70M32.10 512.38H135.70M32.10 515.51H135.70M32.10 518.63H135.70M32.10 521.75H135.70M32.10 524.88H135.70M32.10 528.00H135.70" stroke="#dcdcdc" stroke-width="0.5" fill="none"/>
<rect x="32.10" y="434.30" width="103.60" height="93.70" stroke="#c4c8d0" stroke-width="0.6" fill="none"/>
<path d="M32.10 528.00H135.70" stroke="#b0c0d8" stroke-width="0.7" fill="none"/>
<text x="77.60" y="422.70" text-anchor="middle" class="tt" textLength="72.2" lengthAdjust="spacingAndGlyphs">LINC01128 vs. EMCN, 1104 samples (BRCA)</text>
<text x="78.40" y="428.30" text-anchor="middle" class="st">Data Source: starBase v3.0 project</text>
<path d="M131.00 420.90h3.4M131.00 422.00h3.4M131.00 423.10h3.4" stroke="#555" stroke-width="0.8"/>
<text x="32.10" y="532.70" text-anchor="middle" class="tk">-2</text>
<text x="49.37" y="532.70" text-anchor="middle" class="tk">-1</text>
<text x="66.63" y="532.70" text-anchor="middle" class="tk">0</text>
<text x="83.90" y="532.70" text-anchor="middle" class="tk">1</text>
<text x="101.17" y="532.70" text-anchor="middle" class="tk">2</text>
<text x="118.43" y="532.70" text-anchor="middle" class="tk">3</text>
<text x="134.20" y="532.70" text-anchor="middle" class="tk">4</text>
<text x="29.50" y="435.40" text-anchor="end" class="tk">6</text>
<text x="29.50" y="445.81" text-anchor="end" class="tk">5</text>
<text x="29.50" y="456.22" text-anchor="end" class="tk">4</text>
<text x="29.50" y="466.63" text-anchor="end" class="tk">3</text>
<text x="29.50" y="477.04" text-anchor="end" class="tk">2</text>
<text x="29.50" y="487.46" text-anchor="end" class="tk">1</text>
<text x="29.50" y="497.87" text-anchor="end" class="tk">0</text>
<text x="29.50" y="508.28" text-anchor="end" class="tk">-1</text>
<text x="29.50" y="518.69" text-anchor="end" class="tk">-2</text>
<text x="29.50" y="529.10" text-anchor="end" class="tk">-3</text>
<text x="83.90" y="538.50" text-anchor="middle" class="ax">LINC01128, Expression level: log2(FPKM+0.01)</text>
<text transform="translate(23.60 481.15) rotate(-90)" text-anchor="middle" class="ax">EMCN, Expression level: log2(FPKM+0.01)</text>
<line x1="43.83" y1="490.17" x2="118.96" y2="471.89" stroke="#e8484a" stroke-width="0.7"/>
<path d="M74.0 491.3h0M94.1 477.7h0M60.3 488.0h0M84.3 472.8h0M56.5 485.2h0M80.6 474.9h0M88.7 470.8h0M79.7 467.9h0M70.5 470.1h0M84.3 454.5h0M63.0 500.5h0M80.5 473.4h0M74.6 499.1h0M80.9 481.6h0M63.5 476.9h0M84.5 486.2h0M66.5 489.2h0M76.8 498.7h0M72.8 472.1h0M72.9 496.4h0M81.2 477.4h0M79.3 485.1h0M71.6 463.8h0M82.3 491.4h0M73.2 494.7h0M79.7 491.2h0M64.0 471.8h0M71.0 498.2h0M63.7 466.7h0M78.1 483.0h0M80.1 494.5h0M70.6 473.7h0M86.7 472.1h0M68.7 467.3h0M94.0 467.9h0M75.1 502.9h0M80.6 487.0h0M72.3 494.5h0M95.2 475.4h0M76.4 479.4h0M81.8 484.3h0M80.7 473.8h0M63.6 486.3h0M83.6 483.6h0M102.5 470.8h0M60.9 492.0h0M80.1 484.0h0M74.3 468.6h0M92.9 485.2h0M77.3 487.1h0M76.3 477.4h0M72.5 478.6h0M77.2 485.4h0M60.2 481.5h0M73.2 485.9h0M80.6 491.9h0M64.6 468.8h0M80.6 501.0h0M94.6 492.0h0M78.7 494.4h0M79.1 489.5h0M79.2 497.2h0M87.7 482.1h0M80.5 491.8h0M60.0 489.4h0M95.0 450.7h0M83.0 498.9h0M80.2 476.4h0M79.8 486.4h0M69.8 491.0h0M86.9 474.5h0M65.1 492.0h0M81.3 481.5h0M80.7 461.7h0M70.7 486.8h0M85.8 480.0h0M66.0 482.4h0M67.7 489.1h0M82.8 473.8h0M78.6 503.8h0M73.9 483.1h0M73.8 483.3h0M66.0 484.8h0M81.8 483.8h0M83.8 488.1h0M62.8 482.7h0M63.7 485.5h0M66.7 460.5h0M78.7 506.3h0M47.8 491.5h0M81.4 476.6h0M77.2 474.3h0M77.3 482.4h0M77.5 496.1h0M83.8 476.2h0M73.3 498.0h0M64.5 477.5h0M66.2 478.8h0M82.3 482.0h0M98.1 472.9h0M83.4 477.3h0M65.1 470.0h0M83.6 473.7h0M67.8 503.2h0M70.7 477.9h0M69.1 472.5h0M90.0 494.1h0M88.4 481.2h0M78.8 481.8h0M69.1 482.2h0M60.2 477.7h0M79.2 488.3h0M78.0 492.1h0M75.4 477.6h0M63.0 483.4h0M76.2 486.9h0M64.7 496.1h0M68.0 496.9h0M96.0 483.7h0M71.2 493.7h0M78.6 497.2h0M72.3 470.0h0M82.2 477.7h0M91.6 513.9h0M58.5 498.5h0M84.0 484.8h0M60.0 490.9h0M74.3 492.2h0M49.2 486.9h0M66.6 486.7h0M78.2 490.1h0M78.8 493.0h0M88.0 474.0h0M84.6 482.8h0M81.9 487.9h0M63.5 503.1h0M78.7 483.5h0M63.0 474.8h0M68.0 496.2h0M69.5 482.8h0M74.2 483.0h0M71.1 469.1h0M72.7 474.2h0M83.2 489.0h0M76.0 474.7h0M72.4 479.7h0M90.4 470.7h0M62.5 479.7h0M68.7 474.2h0M78.1 462.1h0M87.7 468.0h0M73.0 489.1h0M80.6 516.7h0M80.9 476.4h0M68.9 480.4h0M71.0 479.4h0M82.3 487.8h0M67.9 502.9h0M80.3 469.1h0M76.1 480.5h0M94.5 482.1h0M76.5 481.3h0M78.3 469.1h0M76.6 466.5h0M76.9 485.3h0M67.5 483.1h0M84.1 486.1h0M83.6 494.1h0M79.2 477.5h0M102.2 459.2h0M73.9 479.8h0M74.0 479.4h0M81.0 486.5h0M77.7 470.4h0M90.2 480.3h0M91.1 488.2h0M92.3 478.2h0M84.6 491.5h0M59.1 479.4h0M74.4 483.9h0M76.5 486.0h0M76.1 452.8h0M79.1 473.6h0M57.8 504.8h0M72.2 493.9h0M74.4 497.3h0M92.6 476.5h0M64.7 487.4h0M88.6 470.9h0M62.2 487.7h0M71.0 492.9h0M71.4 485.2h0M88.4 466.2h0M67.3 479.0h0M72.2 494.0h0M72.4 481.9h0M69.2 478.4h0M98.3 465.8h0M55.3 484.3h0M73.1 474.7h0M73.5 465.2h0M66.8 492.9h0M62.9 490.3h0M72.3 495.6h0M81.0 499.8h0M63.6 470.1h0M82.7 481.5h0M56.3 464.5h0M68.7 473.8h0M92.3 499.2h0M63.4 489.4h0M81.2 481.1h0M70.4 480.1h0M85.0 480.3h0M71.4 488.4h0M89.7 497.8h0M71.5 488.5h0M79.3 477.8h0M74.2 483.3h0M76.9 510.1h0M80.5 476.0h0M68.9 453.4h0M69.1 492.2h0M80.5 486.0h0M75.5 481.6h0M68.1 483.9h0M80.4 503.0h0M80.1 476.1h0M78.3 486.9h0M66.8 506.6h0M64.6 494.4h0M88.9 489.0h0M77.5 487.2h0M87.1 478.0h0M67.2 486.6h0M71.9 489.2h0M85.1 487.6h0M105.4 482.9h0M70.6 476.5h0M87.2 459.4h0M77.3 476.6h0M72.2 481.0h0M80.6 472.2h0M61.8 484.5h0M74.0 478.5h0M76.8 485.5h0M67.0 512.9h0M73.0 467.1h0M68.4 497.4h0M63.7 492.3h0M94.7 476.6h0M73.5 488.0h0M61.5 485.8h0M93.1 466.5h0M83.8 484.2h0M87.0 465.6h0M78.0 460.4h0M47.3 501.0h0M76.4 471.0h0M82.5 489.5h0M86.7 505.9h0M80.4 497.6h0M73.1 487.0h0M89.5 473.2h0M61.0 486.1h0M65.7 490.1h0M91.3 486.7h0M80.4 480.4h0M69.7 477.0h0M70.7 486.3h0M86.7 485.5h0M63.4 481.8h0M87.3 497.3h0M84.4 488.5h0M74.7 481.3h0M96.1 488.0h0M62.7 482.9h0M80.0 476.0h0M68.5 487.7h0M76.6 481.6h0M51.1 480.8h0M75.2 500.3h0M72.6 476.3h0M82.8 496.2h0M79.1 479.2h0M91.8 485.3h0M52.6 470.2h0M85.5 479.8h0M66.9 486.3h0M75.0 461.0h0M81.3 468.7h0M78.5 483.6h0M76.4 467.0h0M55.9 510.6h0M76.3 492.0h0M73.8 465.9h0M68.1 500.3h0M65.7 481.5h0M83.4 467.1h0M82.5 486.3h0M81.0 463.7h0M67.4 488.8h0M72.6 491.6h0M66.7 503.8h0M89.4 481.6h0M61.1 464.7h0M78.5 481.8h0M79.5 496.0h0M69.2 472.7h0M69.7 478.6h0M68.2 474.1h0M74.4 479.4h0M89.1 466.0h0M94.9 477.4h0M60.5 482.9h0M87.7 476.8h0M67.0 482.3h0M89.9 470.4h0M71.0 482.6h0M82.7 462.5h0M85.3 497.8h0M71.2 483.9h0M65.3 492.9h0M74.4 487.7h0M62.5 483.9h0M68.0 484.2h0M64.1 480.4h0M74.8 470.0h0M67.1 479.3h0M64.2 472.7h0M84.2 457.5h0M75.4 493.9h0M73.1 498.5h0M80.9 482.1h0M79.1 466.6h0M87.4 502.4h0M78.4 470.5h0M74.7 476.6h0M74.4 479.0h0M71.6 498.1h0M60.4 480.0h0M81.0 472.5h0M69.9 483.8h0M72.6 468.4h0M70.2 506.9h0M81.6 498.2h0M85.6 486.2h0M82.8 491.4h0M93.3 487.9h0M76.5 482.9h0M73.0 463.6h0M76.6 484.6h0M72.8 488.5h0M88.6 491.3h0M72.7 479.3h0M81.4 480.7h0M59.3 457.9h0M88.4 493.0h0M64.9 478.3h0M89.1 486.0h0M93.3 466.9h0M67.1 492.6h0M98.3 488.2h0M78.1 486.0h0M78.9 479.2h0M94.5 470.3h0M71.2 503.3h0M77.5 491.5h0M61.4 474.8h0M73.1 504.8h0M76.0 483.2h0M63.3 478.2h0M78.3 490.5h0M63.5 494.4h0M55.7 491.7h0M72.5 483.4h0M78.1 490.2h0M81.3 478.2h0M82.1 484.8h0M50.7 480.1h0M67.3 473.2h0M68.9 486.4h0M75.9 479.5h0M66.7 474.8h0M70.3 476.1h0M87.2 483.3h0M65.4 479.3h0M88.4 477.3h0M81.9 465.2h0M71.8 476.8h0M77.6 474.0h0M51.1 490.5h0M73.4 484.4h0M85.8 470.2h0M82.9 479.2h0M86.8 495.4h0M56.0 483.4h0M72.3 477.6h0M84.6 469.4h0M71.9 478.8h0M64.4 459.3h0M70.3 474.6h0M78.7 488.4h0M82.9 490.6h0M80.7 497.5h0M59.8 480.3h0M76.0 495.8h0M67.9 466.3h0M74.8 500.5h0M74.8 482.2h0M78.4 473.6h0M83.9 479.5h0M56.0 471.9h0M85.2 471.9h0M70.1 478.8h0M72.7 483.5h0M86.9 460.0h0M78.9 489.1h0M84.3 493.3h0M68.9 482.3h0M85.6 490.8h0M83.0 481.8h0M81.3 469.7h0M79.1 478.5h0M73.8 470.8h0M80.0 483.2h0M83.3 474.0h0M71.6 479.0h0M93.4 466.9h0M79.2 456.6h0M74.9 481.3h0M57.1 493.0h0M74.0 481.8h0M74.5 496.9h0M61.1 469.4h0M80.7 489.6h0M75.4 468.5h0M69.9 494.0h0M66.1 490.9h0M76.1 481.9h0M58.9 512.6h0M87.2 482.1h0M80.1 469.3h0M68.7 472.6h0M79.1 494.1h0M82.0 483.5h0M83.4 486.7h0M71.4 498.0h0M89.9 486.7h0M47.8 464.6h0M76.4 490.3h0M78.4 487.7h0M82.9 459.3h0M76.3 469.6h0M91.0 479.8h0M75.0 490.4h0M100.3 466.7h0M82.8 468.2h0M75.5 487.5h0M79.8 487.5h0M70.7 500.7h0M59.5 485.3h0M73.7 471.8h0M86.2 469.9h0M85.3 477.5h0M75.8 485.8h0M73.4 474.7h0M69.0 480.6h0M82.1 472.4h0M71.1 469.9h0M88.2 475.2h0M84.7 484.4h0M66.5 489.3h0M74.2 480.1h0M73.6 482.0h0M79.9 467.9h0M81.8 494.2h0M86.0 487.0h0M72.3 474.8h0M58.5 471.1h0M67.9 465.9h0M74.0 491.6h0M67.1 478.3h0M74.1 470.5h0M57.3 489.3h0M70.2 483.0h0M63.8 493.0h0M78.8 494.1h0M76.3 481.2h0M81.7 467.9h0M67.1 483.6h0M80.2 484.7h0M78.6 492.2h0M69.5 465.4h0M74.4 484.0h0M68.0 492.1h0M70.6 483.9h0M79.2 485.3h0M72.4 489.0h0M86.7 485.1h0M81.4 483.9h0M72.8 476.7h0M84.4 473.0h0M78.4 497.3h0M76.6 508.7h0M73.3 483.3h0M75.4 488.6h0M85.2 476.7h0M70.1 500.8h0M83.3 474.9h0M79.1 465.9h0M73.0 473.2h0M73.0 490.6h0M85.7 478.1h0M79.2 492.8h0M101.1 474.7h0M83.0 456.6h0M86.4 476.2h0M66.6 462.4h0M79.8 470.5h0M50.0 468.7h0M63.5 473.1h0M72.9 476.0h0M70.3 495.7h0M73.0 479.3h0M73.4 494.3h0M83.3 477.6h0M81.8 471.7h0M73.8 476.0h0M76.8 492.0h0M86.1 465.4h0M95.7 477.9h0M88.8 464.0h0M64.1 499.7h0M67.8 497.3h0M83.1 494.2h0M72.6 474.1h0M74.0 488.5h0M74.8 491.9h0M58.3 487.0h0M63.2 491.1h0M82.1 489.4h0M90.3 472.4h0M89.1 476.2h0M73.7 484.7h0M79.6 506.5h0M77.7 464.8h0M85.6 483.0h0M61.4 483.9h0M65.9 489.1h0M78.4 493.7h0M78.4 487.1h0M79.8 477.6h0M72.6 485.0h0M74.2 481.4h0M72.7 495.4h0M79.2 487.2h0M72.4 490.6h0M87.0 475.6h0M64.2 497.8h0M80.8 483.9h0M71.0 490.0h0M74.4 478.8h0M82.3 464.4h0M83.3 499.5h0M72.6 477.5h0M82.6 468.3h0M99.0 467.4h0M66.7 476.1h0M83.6 492.3h0M85.1 487.7h0M80.3 502.7h0M66.1 482.2h0M88.6 478.9h0M67.0 512.9h0M82.2 478.0h0M78.1 483.9h0M87.9 484.5h0M74.8 480.0h0M84.9 477.5h0M74.7 475.0h0M83.7 480.5h0M81.3 490.4h0M87.9 477.2h0M83.4 457.3h0M73.1 479.3h0M94.9 466.1h0M67.0 484.8h0M67.4 478.6h0M55.4 494.4h0M89.5 477.3h0M76.3 472.7h0M79.9 468.7h0M77.6 473.5h0M56.7 461.8h0M77.9 478.6h0M63.9 480.9h0M90.2 487.4h0M79.6 477.4h0M67.8 478.9h0M75.7 493.7h0M68.9 482.1h0M73.1 476.5h0M67.4 490.4h0M84.5 472.9h0M75.8 482.7h0M68.1 476.4h0M68.7 488.8h0M63.7 481.6h0M79.7 476.9h0M77.5 495.3h0M68.0 479.8h0M104.2 495.8h0M67.6 499.7h0M77.3 473.0h0M69.3 480.7h0M93.9 477.0h0M79.4 469.1h0M82.4 489.6h0M75.5 470.4h0M78.6 458.5h0M83.7 478.8h0M67.9 486.3h0M44.8 484.8h0M74.1 483.9h0M74.6 480.5h0M58.6 494.6h0M87.6 480.2h0M92.9 502.3h0M95.8 468.1h0M73.3 476.4h0M68.5 493.9h0M87.9 487.7h0M89.5 480.3h0M70.5 482.2h0M69.0 499.0h0M76.0 481.8h0M77.1 497.0h0M79.7 475.4h0M71.9 484.5h0M64.8 483.3h0M79.3 491.6h0M63.3 486.9h0M78.1 482.2h0M73.1 475.6h0M68.7 503.2h0M74.4 479.1h0M76.9 495.0h0M85.5 468.2h0M105.6 475.0h0M85.4 487.6h0M67.9 477.4h0M83.0 485.7h0M63.8 493.8h0M69.1 463.9h0M82.8 497.0h0M76.6 488.0h0M71.2 479.3h0M58.8 477.1h0M74.2 475.8h0M86.1 492.4h0M80.7 466.3h0M72.5 485.4h0M75.1 482.6h0M88.3 483.6h0M86.3 482.7h0M75.1 494.3h0M85.6 473.9h0M78.2 469.8h0M66.5 494.5h0M63.6 490.3h0M73.8 481.8h0M78.0 481.0h0M73.4 487.7h0M85.5 467.9h0M76.2 491.3h0M70.1 485.6h0M75.2 471.5h0M73.5 491.9h0M77.8 490.4h0M56.7 492.6h0M63.8 488.5h0M51.1 455.3h0M84.0 477.6h0M65.4 471.4h0M83.7 486.0h0M77.3 476.9h0M84.6 487.1h0M73.0 472.4h0M71.0 471.1h0M56.4 504.6h0M77.7 488.2h0M79.6 468.8h0M60.2 495.3h0M80.1 513.5h0M82.2 481.0h0M93.1 482.6h0M81.8 465.2h0M76.7 503.8h0M77.1 494.4h0M72.4 492.1h0M88.2 492.0h0M59.2 489.7h0M75.5 480.1h0M75.2 482.2h0M73.2 465.0h0M79.1 478.0h0M81.2 466.7h0M67.3 480.4h0M66.7 491.7h0M71.3 471.4h0M74.0 498.8h0M70.5 491.5h0M72.3 491.1h0M58.0 485.8h0M73.3 490.1h0M85.3 470.3h0M85.3 472.8h0M81.9 486.0h0M86.2 487.5h0M77.4 493.3h0M85.0 476.2h0M79.9 483.8h0M79.1 481.8h0M49.9 496.4h0M79.0 484.4h0M95.0 475.3h0M70.3 491.8h0M74.2 488.0h0M91.0 462.2h0M61.8 499.9h0M75.6 483.0h0M78.0 471.4h0M65.2 486.2h0M57.7 493.4h0M88.0 478.8h0M85.9 473.4h0M79.5 493.9h0M70.7 484.9h0M85.7 477.7h0M62.2 472.2h0M73.3 492.2h0M97.1 465.8h0M72.2 494.9h0M61.1 486.2h0M81.9 486.0h0M59.1 471.6h0M81.5 488.7h0M86.7 482.4h0M68.5 488.3h0M75.8 471.7h0M66.8 463.6h0M63.2 500.6h0M76.6 472.4h0M75.0 515.1h0M73.9 485.8h0M77.0 478.4h0M74.7 484.9h0M82.5 469.2h0M85.3 478.8h0M74.1 495.1h0M81.7 488.6h0M87.2 466.7h0M61.1 487.2h0M79.9 498.9h0M70.9 498.8h0M72.7 479.7h0M84.5 484.4h0M75.8 481.0h0M66.1 516.8h0M82.5 491.6h0M78.7 472.3h0M70.3 480.3h0M80.3 484.8h0M79.6 489.5h0M66.7 478.2h0M64.9 475.0h0M81.2 489.7h0M89.1 469.5h0M80.8 471.7h0M83.9 473.6h0M57.8 498.0h0M74.0 484.4h0M82.6 476.7h0M97.7 458.2h0M65.0 485.2h0M81.8 460.1h0M67.8 473.2h0M71.0 492.4h0M78.7 485.1h0M89.3 480.7h0M74.0 489.7h0M64.8 476.7h0M72.8 471.7h0M72.4 460.4h0M72.8 486.8h0M89.2 505.8h0M82.3 492.4h0M69.5 491.3h0M57.5 484.5h0M91.5 475.0h0M67.7 484.6h0M57.4 480.7h0M66.8 457.9h0M69.7 466.2h0M77.9 475.4h0M81.2 472.1h0M67.6 478.3h0M80.0 477.4h0M62.6 483.0h0M95.2 485.0h0M62.8 512.8h0M75.5 478.6h0M75.6 468.8h0M74.1 479.9h0M83.8 483.3h0M71.5 483.5h0M79.8 487.9h0M86.1 490.8h0M80.3 499.7h0M81.6 478.6h0M63.1 483.1h0M57.6 500.7h0M61.6 507.0h0M91.3 480.7h0M62.9 484.8h0M82.7 493.7h0M84.4 468.6h0M77.4 471.1h0M76.5 505.6h0M84.5 480.3h0M76.3 475.5h0M79.4 475.1h0M72.7 493.7h0M77.2 469.5h0M69.1 469.0h0M81.6 473.0h0M80.5 474.2h0M74.8 481.2h0M66.7 482.0h0M78.2 476.3h0M74.1 488.4h0M81.2 488.5h0M71.0 485.3h0M78.4 496.1h0M72.2 477.0h0M71.7 487.5h0M69.7 478.0h0M66.8 507.7h0M76.9 477.8h0M67.4 482.6h0M71.7 481.0h0M51.5 503.2h0M86.8 477.1h0M88.8 470.3h0M54.0 491.7h0M103.2 476.4h0M73.1 480.4h0M69.2 487.0h0M75.5 511.7h0M67.0 481.0h0M66.3 497.6h0M73.1 486.8h0M73.0 496.7h0M87.4 499.8h0M95.8 491.8h0M51.4 466.1h0M76.3 484.0h0M65.2 487.5h0M79.3 483.9h0M62.8 501.5h0M90.6 484.0h0M76.2 490.3h0M73.5 489.2h0M66.5 478.4h0M74.6 485.9h0M72.0 492.0h0M85.4 476.3h0M89.6 483.9h0M88.5 462.4h0M76.6 482.2h0M48.0 494.6h0M75.0 477.0h0M84.5 490.1h0M74.3 485.7h0M82.7 486.5h0M70.9 500.8h0M60.6 467.1h0M75.4 491.3h0M84.3 474.6h0M82.5 486.0h0M94.1 494.7h0M75.7 477.9h0M61.4 478.0h0M93.6 483.1h0M66.4 483.3h0M66.7 489.1h0M77.1 457.0h0M76.9 482.4h0M91.5 483.2h0M75.4 480.8h0M59.6 484.4h0M81.7 479.8h0M73.7 491.5h0M99.0 489.1h0M69.0 467.7h0M70.6 486.9h0M52.9 492.4h0M64.5 476.2h0M74.8 486.5h0M68.3 489.1h0M73.4 487.3h0M79.9 489.4h0M87.7 478.7h0M85.7 462.5h0M78.4 469.7h0M89.9 467.9h0M87.4 474.1h0M88.0 480.4h0M90.4 462.2h0M78.4 493.1h0M77.7 484.2h0M70.2 485.9h0M76.4 456.8h0M75.7 458.4h0M68.7 500.3h0M75.4 495.4h0M72.0 480.7h0M76.7 486.4h0M60.7 516.0h0M63.3 477.2h0M78.0 473.8h0M74.2 491.5h0M79.6 461.2h0M77.4 487.1h0M63.6 498.8h0M58.3 487.6h0M69.2 491.1h0M71.5 494.5h0M74.7 488.0h0M75.7 483.5h0M71.8 451.8h0M77.1 464.7h0M84.5 482.8h0M65.5 489.3h0M75.4 484.5h0M79.5 486.1h0M78.3 476.5h0M72.1 481.5h0M78.0 472.5h0M72.7 466.1h0M63.3 484.4h0M74.0 467.9h0M68.9 487.1h0M72.2 494.5h0M73.5 487.8h0M81.9 505.1h0M66.9 496.3h0M52.8 508.2h0M65.2 480.3h0M74.1 480.0h0M76.1 491.1h0M72.0 486.3h0M77.1 473.5h0M74.4 482.1h0M70.3 479.8h0M82.2 481.0h0M86.5 482.6h0M78.1 476.3h0M68.7 485.3h0M76.6 484.4h0M76.4 484.0h0M71.8 471.0h0M75.9 479.9h0M77.5 480.9h0M67.7 485.4h0M82.7 467.4h0M61.9 494.4h0M65.5 479.9h0M66.4 483.4h0M77.6 466.4h0M63.3 481.6h0M81.3 475.2h0M61.7 483.9h0M78.9 491.3h0M71.3 485.4h0M63.8 499.6h0M71.9 502.4h0M88.1 479.9h0M67.3 483.7h0M78.8 473.0h0M76.5 455.1h0M69.7 482.8h0M80.2 496.0h0M85.5 493.7h0M81.9 470.4h0M66.9 482.7h0M90.3 456.2h0M98.0 497.5h0M74.4 495.0h0M119.0 488.9h0M112.2 477.6h0M45.6 512.7h0M48.8 518.2h0M53.1 521.0h0M57.1 521.5h0M81.4 517.2h0M64.6 517.7h0M43.8 483.9h0" stroke="#1a699c" stroke-width="2.1" stroke-linecap="round" fill="none"/>
<rect x="33.50" y="434.40" width="56.50" height="8.90" fill="#fff" stroke="#999" stroke-width="0.45"/>
<line x1="34.50" y1="437.00" x2="37.50" y2="437.00" stroke="#3fa0e0" stroke-width="0.8"/>
<circle cx="36.00" cy="441.00" r="0.9" fill="#35a835"/>
<text x="38.70" y="438.10" class="lg" textLength="51.2" lengthAdjust="spacingAndGlyphs">Regression (y = 0.4688x + 1.1390)</text>
<text x="38.70" y="442.30" class="lg" textLength="44.9" lengthAdjust="spacingAndGlyphs">r = 0.220, p-value = 1.63e-13</text>
</g>
<text x="6.80" y="411.60" class="lab">F</text>
<rect x="157.40" y="416.50" width="120.10" height="126.00" fill="url(#fg)" stroke="#8eabd2" stroke-width="0.9" class="fr"/>
<g class="pl">
<rect x="172.20" y="433.70" width="103.50" height="94.00" fill="#fff"/>
<path d="M172.20 433.70H275.70M172.20 436.83H275.70M172.20 439.97H275.70M172.20 443.10H275.70M172.20 446.23H275.70M172.20 449.37H275.70M172.20 452.50H275.70M172.20 455.63H275.70M172.20 458.77H275.70M172.20 461.90H275.70M172.20 465.03H275.70M172.20 468.17H275.70M172.20 471.30H275.70M172.20 474.43H275.70M172.20 477.57H275.70M172.20 480.70H275.70M172.20 483.83H275.70M172.20 486.97H275.70M172.20 490.10H275.70M172.20 493.23H275.70M172.20 496.37H275.70M172.20 499.50H275.70M172.20 502.63H275.70M172.20 505.77H275.70M172.20 508.90H275.70M172.20 512.03H275.70M172.20 515.17H275.70M172.20 518.30H275.70M172.20 521.43H275.70M172.20 524.57H275.70M172.20 527.70H275.70" stroke="#dcdcdc" stroke-width="0.5" fill="none"/>
<rect x="172.20" y="433.70" width="103.50" height="94.00" stroke="#c4c8d0" stroke-width="0.6" fill="none"/>
<path d="M172.20 527.70H275.70" stroke="#b0c0d8" stroke-width="0.7" fill="none"/>
<text x="217.65" y="422.10" text-anchor="middle" class="tt" textLength="75.8" lengthAdjust="spacingAndGlyphs">CCDC18-AS1 vs. EMCN, 1104 samples (BRCA)</text>
<text x="218.45" y="427.70" text-anchor="middle" class="st">Data Source: starBase v3.0 project</text>
<path d="M271.00 420.30h3.4M271.00 421.40h3.4M271.00 422.50h3.4" stroke="#555" stroke-width="0.8"/>
<text x="172.20" y="532.40" text-anchor="middle" class="tk">-4</text>
<text x="192.90" y="532.40" text-anchor="middle" class="tk">-2</text>
<text x="213.60" y="532.40" text-anchor="middle" class="tk">0</text>
<text x="234.30" y="532.40" text-anchor="middle" class="tk">2</text>
<text x="255.00" y="532.40" text-anchor="middle" class="tk">4</text>
<text x="274.20" y="532.40" text-anchor="middle" class="tk">6</text>
<text x="169.60" y="434.80" text-anchor="end" class="tk">6</text>
<text x="169.60" y="445.24" text-anchor="end" class="tk">5</text>
<text x="169.60" y="455.69" text-anchor="end" class="tk">4</text>
<text x="169.60" y="466.13" text-anchor="end" class="tk">3</text>
<text x="169.60" y="476.58" text-anchor="end" class="tk">2</text>
<text x="169.60" y="487.02" text-anchor="end" class="tk">1</text>
<text x="169.60" y="497.47" text-anchor="end" class="tk">0</text>
<text x="169.60" y="507.91" text-anchor="end" class="tk">-1</text>
<text x="169.60" y="518.36" text-anchor="end" class="tk">-2</text>
<text x="169.60" y="528.80" text-anchor="end" class="tk">-3</text>
<text x="223.95" y="538.20" text-anchor="middle" class="ax">CCDC18-AS1, Expression level: log2(FPKM+0.01)</text>
<text transform="translate(163.70 480.70) rotate(-90)" text-anchor="middle" class="ax">EMCN, Expression level: log2(FPKM+0.01)</text>
<line x1="193.34" y1="488.92" x2="258.46" y2="473.89" stroke="#e8484a" stroke-width="0.7"/>
<path d="M227.4 506.1h0M228.9 485.7h0M226.4 466.6h0M231.3 493.6h0M225.4 502.3h0M215.8 491.1h0M212.6 473.7h0M215.8 496.4h0M207.3 486.5h0M230.6 490.7h0M200.2 466.2h0M212.4 483.1h0M217.1 492.2h0M227.9 467.1h0M231.8 454.8h0M224.8 467.4h0M221.7 482.8h0M210.1 507.3h0M234.4 461.8h0M229.7 472.1h0M228.4 485.9h0M226.0 483.6h0M226.4 467.2h0M250.5 484.8h0M224.7 492.1h0M208.3 485.6h0M223.7 473.7h0M232.6 470.9h0M225.2 467.1h0M205.5 482.3h0M218.8 472.4h0M214.5 452.2h0M215.5 484.9h0M219.4 488.6h0M202.9 475.6h0M236.8 476.3h0M207.5 481.6h0M218.9 490.6h0M206.7 490.8h0M238.3 477.8h0M214.6 501.2h0M208.3 489.2h0M224.9 481.2h0M210.1 485.8h0M228.8 478.1h0M205.6 495.5h0M215.8 481.8h0M221.3 481.7h0M217.8 505.9h0M226.4 483.0h0M213.6 471.8h0M237.1 474.5h0M217.7 475.2h0M227.4 493.9h0M212.8 462.9h0M209.7 483.9h0M215.4 492.0h0M216.2 498.6h0M223.5 491.3h0M224.4 477.7h0M222.9 498.4h0M232.9 502.0h0M226.3 469.3h0M219.7 515.5h0M216.0 488.1h0M223.0 464.4h0M217.2 501.2h0M218.0 459.4h0M210.8 486.9h0M226.9 478.4h0M216.6 468.3h0M230.9 490.7h0M222.4 480.4h0M227.6 465.6h0M225.1 460.6h0M225.2 484.1h0M215.7 470.0h0M212.8 492.8h0M230.0 478.0h0M225.8 498.6h0M218.0 461.2h0M224.1 480.1h0M205.5 477.0h0M225.1 466.0h0M229.5 476.6h0M223.0 495.6h0M226.2 482.5h0M212.0 482.6h0M232.0 473.6h0M219.7 497.2h0M208.4 492.2h0M201.7 502.1h0M220.5 477.7h0M236.6 489.6h0M225.6 465.3h0M203.8 482.6h0M219.4 481.0h0M220.8 481.4h0M224.6 482.0h0M222.7 469.4h0M220.7 489.1h0M217.6 514.0h0M223.1 495.1h0M228.9 485.6h0M223.5 475.1h0M215.7 470.0h0M217.7 481.8h0M226.3 478.7h0M223.4 484.9h0M231.2 463.4h0M217.3 490.1h0M216.9 498.1h0M220.6 489.9h0M221.0 481.2h0M228.1 470.6h0M230.0 479.3h0M232.4 496.6h0M234.6 465.1h0M220.0 475.1h0M206.4 467.1h0M221.9 470.2h0M234.4 489.8h0M211.4 471.6h0M210.9 489.4h0M245.7 474.5h0M219.2 486.5h0M224.9 503.6h0M224.5 477.8h0M217.5 490.2h0M226.2 472.3h0M233.5 492.4h0M229.8 489.9h0M218.4 481.5h0M199.6 506.8h0M221.7 461.8h0M213.4 493.0h0M222.1 503.1h0M207.6 484.7h0M221.0 470.7h0M219.2 484.3h0M231.0 489.9h0M218.9 488.5h0M223.9 501.4h0M214.6 481.0h0M215.4 478.2h0M224.7 496.3h0M224.9 456.8h0M227.6 500.7h0M224.2 485.7h0M231.4 474.2h0M242.2 496.5h0M215.3 504.8h0M198.0 498.5h0M220.6 486.9h0M221.0 472.0h0M205.3 483.6h0M211.8 478.9h0M218.3 486.9h0M225.5 472.2h0M215.5 489.0h0M235.2 483.5h0M219.6 493.6h0M213.3 478.3h0M216.4 470.8h0M210.4 505.3h0M218.5 481.0h0M219.3 483.8h0M223.5 477.7h0M222.8 499.4h0M220.7 492.8h0M230.4 477.0h0M221.4 476.5h0M221.2 457.0h0M200.5 467.2h0M212.7 492.9h0M232.7 474.1h0M226.9 460.1h0M220.5 490.1h0M212.9 486.0h0M223.6 476.1h0M218.9 482.0h0M226.5 499.3h0M207.5 485.2h0M232.9 461.2h0M208.1 477.9h0M248.0 469.5h0M246.2 514.6h0M205.7 461.9h0M218.0 484.7h0M234.8 479.1h0M219.3 488.6h0M219.3 493.3h0M207.6 495.3h0M211.9 484.0h0M234.8 468.3h0M219.2 490.6h0M230.8 493.0h0M216.1 475.3h0M223.1 469.6h0M235.7 479.1h0M243.6 475.8h0M228.6 478.0h0M210.0 481.0h0M219.7 498.7h0M192.7 492.2h0M228.3 475.6h0M213.7 468.6h0M235.5 494.5h0M220.6 485.2h0M234.6 494.8h0M224.4 473.9h0M225.5 485.5h0M197.3 485.9h0M224.3 488.2h0M227.0 468.6h0M210.7 494.6h0M230.9 489.0h0M215.8 485.1h0M212.7 499.8h0M225.4 484.2h0M203.8 493.9h0M220.9 489.8h0M226.1 472.5h0M200.8 512.8h0M232.1 503.3h0M210.1 495.3h0M205.5 487.1h0M235.7 482.2h0M222.5 481.3h0M221.0 503.9h0M221.2 455.8h0M228.4 487.9h0M229.2 476.7h0M214.4 482.1h0M224.9 471.8h0M230.7 488.5h0M226.8 472.7h0M234.6 484.8h0M219.9 475.8h0M214.4 498.4h0M220.0 485.1h0M241.8 465.0h0M227.2 488.2h0M229.2 482.7h0M214.2 499.5h0M232.4 480.3h0M222.7 466.7h0M205.6 503.8h0M219.4 468.2h0M211.1 473.4h0M210.3 486.1h0M213.4 499.2h0M227.9 494.2h0M223.6 479.7h0M221.4 472.1h0M202.2 487.1h0M201.9 512.2h0M233.0 488.9h0M225.3 467.8h0M224.1 492.6h0M239.7 451.4h0M218.7 469.6h0M234.1 473.1h0M229.2 492.8h0M242.6 466.9h0M219.9 504.9h0M220.4 482.7h0M224.6 490.8h0M209.9 457.8h0M217.7 494.9h0M221.3 500.5h0M212.2 466.1h0M219.2 498.4h0M226.3 481.1h0M222.9 461.1h0M231.0 476.3h0M215.8 481.2h0M205.0 465.5h0M233.9 463.8h0M238.0 459.4h0M241.6 469.9h0M224.4 494.4h0M208.5 492.2h0M211.8 490.2h0M220.0 476.0h0M207.2 486.4h0M221.2 475.4h0M224.9 476.5h0M218.9 481.6h0M217.4 481.6h0M212.1 484.8h0M201.3 505.5h0M221.5 476.7h0M221.2 455.5h0M221.5 476.7h0M213.3 509.9h0M232.1 479.4h0M234.4 471.4h0M213.4 488.1h0M233.6 461.1h0M234.6 486.0h0M209.4 481.3h0M232.4 480.5h0M215.6 486.9h0M223.3 492.8h0M228.3 516.5h0M242.5 460.6h0M228.8 476.2h0M216.7 489.6h0M218.9 478.6h0M230.4 466.3h0M221.9 482.8h0M228.9 480.1h0M202.7 493.8h0M221.0 475.6h0M223.0 475.3h0M227.2 466.0h0M232.4 474.5h0M235.7 483.9h0M214.5 486.8h0M217.8 487.5h0M226.9 471.4h0M238.9 460.0h0M226.4 487.8h0M230.9 469.9h0M212.0 469.0h0M228.1 495.1h0M207.1 490.8h0M212.4 490.4h0M219.1 492.0h0M229.7 494.1h0M222.6 481.5h0M234.6 476.6h0M220.7 471.1h0M223.6 483.5h0M202.8 499.0h0M203.8 478.6h0M226.3 468.7h0M223.5 491.9h0M215.8 487.7h0M232.3 483.4h0M227.8 457.0h0M220.3 480.9h0M210.4 462.2h0M215.6 487.3h0M222.1 473.7h0M223.5 489.2h0M192.6 500.5h0M232.7 472.0h0M229.3 493.0h0M220.7 486.1h0M237.9 478.6h0M210.7 468.1h0M204.7 514.2h0M230.9 489.6h0M238.2 460.8h0M220.9 499.8h0M206.9 490.5h0M226.0 488.9h0M217.9 490.1h0M215.5 474.6h0M209.2 511.7h0M210.0 479.4h0M209.6 490.0h0M235.5 485.6h0M234.6 471.7h0M224.6 495.3h0M210.9 492.1h0M219.3 484.2h0M221.8 484.3h0M224.1 490.2h0M241.3 477.6h0M201.7 476.8h0M233.7 480.8h0M218.5 474.4h0M234.1 500.8h0M226.8 488.3h0M226.5 494.9h0M242.1 480.3h0M238.3 458.6h0M221.8 480.6h0M225.1 467.4h0M221.3 486.0h0M214.3 473.1h0M211.8 483.8h0M241.7 479.8h0M228.6 494.1h0M212.9 461.2h0M221.7 473.2h0M205.2 484.1h0M228.2 496.1h0M235.2 486.0h0M223.9 486.2h0M218.5 470.5h0M215.5 491.9h0M216.7 506.3h0M218.1 470.2h0M212.2 473.7h0M224.1 470.0h0M207.3 488.8h0M231.0 480.9h0M229.8 496.9h0M207.9 480.3h0M225.9 490.6h0M232.2 482.4h0M207.1 487.5h0M214.0 478.2h0M221.6 469.3h0M231.4 478.3h0M212.8 475.3h0M234.7 473.4h0M232.3 481.7h0M229.6 486.7h0M224.6 492.8h0M238.1 460.4h0M222.7 492.8h0M222.8 487.4h0M236.7 480.8h0M220.1 481.6h0M221.7 467.8h0M212.3 486.3h0M226.6 487.3h0M228.8 478.5h0M235.7 481.8h0M228.1 483.9h0M213.5 476.2h0M214.5 456.0h0M240.3 492.3h0M234.9 465.4h0M228.2 472.8h0M229.4 476.4h0M238.0 471.6h0M205.6 489.8h0M218.2 486.7h0M213.2 478.0h0M234.1 471.6h0M225.8 502.8h0M224.0 503.8h0M228.2 472.6h0M229.2 488.3h0M214.1 511.6h0M209.5 486.9h0M232.7 475.5h0M222.5 465.1h0M218.9 510.9h0M212.1 476.7h0M240.4 488.8h0M222.4 469.4h0M217.6 493.1h0M220.9 495.8h0M230.6 474.9h0M224.7 488.5h0M226.4 487.5h0M247.4 465.6h0M215.2 487.9h0M250.7 469.7h0M203.7 492.9h0M217.3 455.3h0M197.5 476.3h0M225.7 472.4h0M228.6 466.0h0M212.0 485.9h0M212.1 465.5h0M243.8 482.6h0M224.2 485.1h0M220.5 499.9h0M226.8 496.9h0M233.3 466.6h0M222.9 476.7h0M229.0 459.4h0M217.9 496.2h0M202.4 486.5h0M215.7 479.3h0M229.0 472.1h0M219.5 490.8h0M229.2 493.9h0M215.6 489.1h0M227.0 475.9h0M233.3 475.4h0M212.7 463.3h0M218.0 477.4h0M209.9 488.1h0M220.4 464.3h0M217.8 482.1h0M207.7 476.1h0M225.5 468.2h0M235.6 486.7h0M223.6 467.7h0M239.5 477.8h0M224.7 497.7h0M226.0 475.5h0M211.5 499.1h0M219.5 480.2h0M214.8 493.4h0M220.7 472.8h0M217.5 490.8h0M206.8 485.8h0M204.2 499.5h0M244.8 483.9h0M212.1 470.7h0M238.2 477.0h0M216.0 482.5h0M216.9 479.0h0M208.9 484.8h0M214.6 496.7h0M227.5 514.3h0M233.8 476.9h0M215.8 482.3h0M211.0 465.9h0M216.5 492.8h0M221.2 488.0h0M228.0 483.8h0M230.5 471.3h0M216.1 496.0h0M230.2 465.0h0M213.7 482.5h0M222.0 486.1h0M232.6 475.6h0M202.0 487.0h0M209.6 482.0h0M238.4 471.9h0M226.1 489.6h0M234.5 486.2h0M214.8 481.1h0M240.5 494.9h0M202.7 499.9h0M224.0 498.8h0M220.4 485.8h0M229.2 473.4h0M211.2 487.0h0M207.0 504.4h0M223.5 488.2h0M216.7 487.7h0M233.4 468.1h0M215.3 483.3h0M218.9 491.4h0M200.0 501.5h0M219.6 488.0h0M229.8 496.6h0M220.1 465.1h0M230.8 477.1h0M211.9 480.7h0M231.2 483.3h0M210.1 499.9h0M219.4 465.8h0M232.9 473.1h0M229.8 481.3h0M223.5 466.9h0M219.4 480.5h0M225.4 475.4h0M210.1 484.4h0M204.6 496.2h0M229.3 479.8h0M220.0 503.1h0M216.6 480.9h0M230.6 479.1h0M237.8 480.7h0M229.9 497.6h0M212.8 487.3h0M210.3 503.6h0M195.7 511.5h0M221.3 489.0h0M203.1 492.0h0M215.5 493.1h0M226.4 470.2h0M220.4 499.7h0M215.9 470.4h0M218.9 481.8h0M222.9 509.9h0M214.3 463.3h0M233.1 451.1h0M221.1 505.8h0M221.8 470.0h0M228.3 486.0h0M235.4 490.9h0M213.5 496.3h0M219.8 476.8h0M227.7 482.4h0M213.1 501.5h0M206.5 486.8h0M203.9 498.8h0M226.1 476.9h0M223.7 482.1h0M213.9 486.0h0M227.1 500.3h0M207.5 493.8h0M218.4 482.9h0M204.2 473.5h0M225.2 484.5h0M224.3 487.2h0M227.1 470.1h0M192.9 487.4h0M234.6 495.5h0M228.3 464.6h0M227.3 485.2h0M234.9 486.9h0M208.3 501.1h0M226.9 477.7h0M225.5 504.7h0M230.3 512.0h0M218.7 472.7h0M216.7 479.2h0M221.2 467.3h0M227.9 475.5h0M229.5 481.4h0M220.3 487.0h0M220.7 504.0h0M212.0 497.8h0M236.1 486.3h0M217.5 488.0h0M222.9 488.5h0M222.8 502.6h0M237.8 470.9h0M240.7 471.1h0M216.6 482.2h0M233.1 459.8h0M235.6 466.4h0M222.5 465.5h0M222.1 486.7h0M220.4 493.8h0M215.7 488.0h0M219.3 496.4h0M235.0 467.9h0M218.1 496.0h0M225.2 472.6h0M240.8 485.7h0M210.4 494.2h0M221.4 480.5h0M237.0 482.5h0M227.1 466.5h0M217.0 499.0h0M215.7 486.8h0M216.0 492.1h0M234.8 463.9h0M204.5 481.6h0M231.8 483.6h0M225.7 476.3h0M221.5 496.0h0M231.7 488.7h0M220.1 458.0h0M220.0 472.2h0M229.7 506.5h0M215.6 477.7h0M209.9 498.6h0M214.7 488.0h0M221.2 478.7h0M230.2 486.2h0M226.2 459.0h0M223.2 481.8h0M213.4 473.6h0M217.8 473.4h0M218.2 492.0h0M220.5 476.7h0M242.4 467.1h0M230.6 504.3h0M222.7 489.5h0M230.3 479.6h0M218.5 497.5h0M227.6 476.7h0M227.9 467.4h0M231.7 469.6h0M224.2 471.0h0M214.8 476.6h0M237.1 461.2h0M213.0 480.3h0M221.4 483.3h0M223.4 490.5h0M219.4 504.1h0M218.3 478.5h0M225.4 473.1h0M219.4 482.6h0M214.4 462.5h0M206.4 477.4h0M213.9 490.6h0M210.9 479.1h0M228.6 485.2h0M231.0 479.2h0M224.3 475.5h0M236.7 488.4h0M214.1 477.0h0M223.9 474.7h0M216.4 485.9h0M220.3 461.2h0M214.9 491.3h0M232.8 488.7h0M215.1 475.9h0M211.2 485.2h0M218.9 489.2h0M217.4 488.9h0M219.2 476.2h0M230.9 486.2h0M215.5 473.2h0M219.8 473.5h0M227.7 476.6h0M223.4 500.2h0M204.6 463.2h0M219.4 494.1h0M215.3 482.2h0M218.4 479.8h0M232.5 488.1h0M219.2 501.1h0M210.6 486.7h0M223.6 468.5h0M226.9 494.8h0M227.0 478.4h0M213.7 490.9h0M217.8 491.9h0M218.5 484.5h0M212.0 491.8h0M224.9 486.4h0M210.1 480.0h0M220.0 508.1h0M229.5 484.2h0M231.2 469.1h0M221.9 487.8h0M194.3 501.6h0M219.4 493.6h0M203.0 499.5h0M229.2 471.5h0M229.3 479.0h0M247.6 470.9h0M201.2 494.3h0M217.5 497.8h0M223.8 469.9h0M231.1 490.0h0M221.0 484.2h0M207.6 470.7h0M223.9 483.0h0M229.9 483.0h0M212.5 493.9h0M212.9 482.6h0M238.1 467.4h0M221.6 485.3h0M231.1 472.8h0M225.3 470.2h0M217.9 466.0h0M202.3 477.4h0M203.5 487.6h0M217.9 471.9h0M230.8 485.9h0M237.4 460.7h0M220.2 489.4h0M219.2 472.0h0M207.5 489.6h0M219.5 483.2h0M228.4 479.4h0M228.8 479.8h0M227.4 474.1h0M219.7 489.6h0M222.7 470.2h0M219.6 464.1h0M224.4 490.2h0M224.9 475.9h0M231.2 459.9h0M232.2 492.9h0M232.7 482.1h0M230.5 460.4h0M203.2 510.4h0M217.7 484.2h0M215.8 467.3h0M233.1 483.9h0M222.3 468.9h0M210.3 463.7h0M232.0 475.8h0M203.5 503.6h0M205.2 478.5h0M230.0 480.1h0M218.8 497.5h0M226.1 469.3h0M212.2 481.7h0M221.2 483.6h0M205.3 510.6h0M227.7 486.8h0M222.9 486.2h0M214.4 483.8h0M211.5 459.3h0M222.2 484.6h0M231.4 484.3h0M222.6 493.4h0M227.8 470.8h0M217.5 488.5h0M228.7 466.8h0M210.8 502.3h0M216.1 462.9h0M223.2 473.8h0M226.5 488.3h0M213.8 496.5h0M226.5 489.9h0M223.0 497.5h0M213.5 473.1h0M226.3 459.6h0M223.3 473.9h0M240.6 472.7h0M218.6 487.7h0M239.7 469.8h0M219.0 487.7h0M233.0 480.1h0M214.0 471.6h0M222.1 491.5h0M236.9 470.2h0M213.5 501.9h0M252.1 494.8h0M223.4 482.4h0M221.2 475.2h0M222.3 474.3h0M226.3 503.2h0M224.0 473.4h0M235.1 487.0h0M227.0 489.2h0M253.0 484.9h0M226.8 464.8h0M196.9 461.0h0M225.1 471.4h0M226.3 481.2h0M221.3 473.4h0M241.1 484.4h0M224.0 449.9h0M218.1 451.9h0M216.4 489.6h0M236.1 492.2h0M225.6 480.8h0M215.2 477.7h0M221.4 485.7h0M210.7 481.1h0M230.2 488.0h0M228.6 471.1h0M208.0 468.8h0M225.7 492.4h0M222.1 496.0h0M221.8 482.6h0M231.5 463.5h0M238.9 472.5h0M229.8 476.1h0M214.9 479.8h0M196.8 470.3h0M212.8 490.3h0M223.6 482.2h0M235.9 461.9h0M218.0 479.2h0M202.9 481.9h0M231.7 474.8h0M238.6 491.8h0M230.9 480.1h0M231.8 471.2h0M216.1 478.2h0M237.6 493.5h0M225.1 487.7h0M252.6 464.7h0M230.4 471.7h0M234.6 483.6h0M225.0 498.8h0M236.9 473.2h0M229.5 480.4h0M239.1 473.4h0M233.0 490.9h0M211.5 481.1h0M219.6 489.3h0M225.8 489.9h0M223.9 484.4h0M210.1 479.3h0M223.5 480.6h0M224.9 500.8h0M233.0 492.5h0M206.5 495.8h0M217.7 488.0h0M250.3 481.8h0M217.2 481.2h0M204.6 492.7h0M219.2 494.1h0M220.1 479.6h0M207.4 497.0h0M227.8 469.6h0M211.7 483.3h0M209.2 472.6h0M213.9 475.6h0M224.5 477.6h0M245.4 491.5h0M217.5 469.6h0M223.0 470.7h0M210.5 475.8h0M214.4 493.9h0M213.4 481.2h0M219.6 486.8h0M219.6 487.5h0M231.1 477.0h0M231.5 485.2h0M231.7 483.8h0M216.3 479.8h0M221.3 481.8h0M202.2 503.8h0M225.9 487.8h0M223.7 500.8h0M218.9 491.2h0M214.3 493.3h0M235.1 458.8h0M222.5 468.1h0M231.7 480.6h0M207.7 519.4h0M211.3 469.4h0M206.2 499.9h0M217.1 482.9h0M217.4 481.8h0M196.9 487.6h0M210.1 476.1h0M213.7 483.6h0M223.3 460.8h0M198.0 480.7h0M218.8 499.0h0M207.2 478.4h0M211.5 493.5h0M208.7 475.4h0M217.6 468.1h0M228.0 494.8h0M223.6 479.8h0M226.9 497.0h0M214.7 481.6h0M212.6 488.8h0M241.2 460.9h0M215.6 451.6h0M205.6 468.4h0M215.7 480.0h0M227.6 485.1h0M205.1 467.0h0M226.9 486.9h0M215.9 480.5h0M213.9 462.7h0M203.9 482.9h0M214.3 467.6h0M219.7 486.7h0M219.1 476.7h0M208.1 488.1h0M230.7 494.4h0M207.6 477.1h0M227.2 455.7h0M220.3 498.7h0M223.0 474.4h0M219.9 482.8h0M229.2 495.3h0M246.6 496.1h0M218.0 487.6h0M215.9 477.5h0M216.6 486.6h0M221.7 505.1h0M217.1 472.5h0M221.7 472.5h0M234.3 493.5h0M217.0 496.2h0M243.1 480.9h0M222.0 481.3h0M197.9 488.1h0M222.6 492.5h0M219.1 487.8h0M226.3 482.0h0M227.9 468.9h0M231.5 485.9h0M242.9 459.8h0M217.9 477.0h0M205.2 481.0h0M222.4 489.7h0M217.1 495.8h0M214.3 479.9h0M211.1 478.1h0M217.2 477.7h0M213.1 472.1h0M219.6 463.4h0M219.7 501.0h0M218.7 488.5h0M232.2 477.9h0M243.2 489.5h0M225.3 476.0h0M215.4 465.4h0M220.2 466.2h0M214.3 489.8h0M232.2 482.6h0M239.2 495.3h0M226.3 476.7h0M228.7 471.1h0M242.5 460.0h0M225.5 496.6h0M217.1 478.7h0M235.4 471.2h0M215.1 502.7h0M227.6 485.0h0M229.2 495.1h0M218.2 476.2h0M216.4 484.3h0M202.3 502.7h0M215.0 481.9h0M228.7 490.1h0M207.6 470.0h0M241.1 474.7h0M228.9 495.7h0M217.1 476.6h0M231.4 492.9h0M230.9 491.5h0M244.0 515.6h0M219.8 489.4h0M220.6 481.5h0M228.6 489.7h0M232.1 475.0h0M258.5 488.2h0M249.7 475.1h0M193.3 509.0h0M209.6 521.0h0M230.9 521.5h0" stroke="#1a699c" stroke-width="2.1" stroke-linecap="round" fill="none"/>
<rect x="173.60" y="433.80" width="56.50" height="8.90" fill="#fff" stroke="#999" stroke-width="0.45"/>
<line x1="174.60" y1="436.40" x2="177.60" y2="436.40" stroke="#3fa0e0" stroke-width="0.8"/>
<circle cx="176.10" cy="440.40" r="0.9" fill="#35a835"/>
<text x="178.80" y="437.50" class="lg" textLength="51.2" lengthAdjust="spacingAndGlyphs">Regression (y = 0.2383x + 1.1504)</text>
<text x="178.80" y="441.70" class="lg" textLength="44.9" lengthAdjust="spacingAndGlyphs">r = 0.197, p-value = 3.90e-11</text>
</g>
<text x="147.35" y="412.60" class="lab">G</text>
<rect x="298.20" y="417.10" width="120.50" height="125.40" fill="url(#fg)" stroke="#8eabd2" stroke-width="0.9" class="fr"/>
<g class="pl">
<rect x="313.00" y="434.30" width="103.90" height="93.40" fill="#fff"/>
<path d="M313.00 434.30H416.90M313.00 437.41H416.90M313.00 440.53H416.90M313.00 443.64H416.90M313.00 446.75H416.90M313.00 449.87H416.90M313.00 452.98H416.90M313.00 456.09H416.90M313.00 459.21H416.90M313.00 462.32H416.90M313.00 465.43H416.90M313.00 468.55H416.90M313.00 471.66H416.90M313.00 474.77H416.90M313.00 477.89H416.90M313.00 481.00H416.90M313.00 484.11H416.90M313.00 487.23H416.90M313.00 490.34H416.90M313.00 493.45H416.90M313.00 496.57H416.90M313.00 499.68H416.90M313.00 502.79H416.90M313.00 505.91H416.90M313.00 509.02H416.90M313.00 512.13H416.90M313.00 515.25H416.90M313.00 518.36H416.90M313.00 521.47H416.90M313.00 524.59H416.90M313.00 527.70H416.90" stroke="#dcdcdc" stroke-width="0.5" fill="none"/>
<rect x="313.00" y="434.30" width="103.90" height="93.40" stroke="#c4c8d0" stroke-width="0.6" fill="none"/>
<path d="M313.00 527.70H416.90" stroke="#b0c0d8" stroke-width="0.7" fill="none"/>
<text x="358.65" y="422.70" text-anchor="middle" class="tt" textLength="74.5" lengthAdjust="spacingAndGlyphs">SH3BP5-AS1 vs. EMCN, 1104 samples (BRCA)</text>
<text x="359.45" y="428.30" text-anchor="middle" class="st">Data Source: starBase v3.0 project</text>
<path d="M412.20 420.90h3.4M412.20 422.00h3.4M412.20 423.10h3.4" stroke="#555" stroke-width="0.8"/>
<text x="313.00" y="532.40" text-anchor="middle" class="tk">-3</text>
<text x="327.84" y="532.40" text-anchor="middle" class="tk">-2</text>
<text x="342.69" y="532.40" text-anchor="middle" class="tk">-1</text>
<text x="357.53" y="532.40" text-anchor="middle" class="tk">0</text>
<text x="372.37" y="532.40" text-anchor="middle" class="tk">1</text>
<text x="387.21" y="532.40" text-anchor="middle" class="tk">2</text>
<text x="402.06" y="532.40" text-anchor="middle" class="tk">3</text>
<text x="415.40" y="532.40" text-anchor="middle" class="tk">4</text>
<text x="310.40" y="435.40" text-anchor="end" class="tk">6</text>
<text x="310.40" y="445.78" text-anchor="end" class="tk">5</text>
<text x="310.40" y="456.16" text-anchor="end" class="tk">4</text>
<text x="310.40" y="466.53" text-anchor="end" class="tk">3</text>
<text x="310.40" y="476.91" text-anchor="end" class="tk">2</text>
<text x="310.40" y="487.29" text-anchor="end" class="tk">1</text>
<text x="310.40" y="497.67" text-anchor="end" class="tk">0</text>
<text x="310.40" y="508.04" text-anchor="end" class="tk">-1</text>
<text x="310.40" y="518.42" text-anchor="end" class="tk">-2</text>
<text x="310.40" y="528.80" text-anchor="end" class="tk">-3</text>
<text x="364.95" y="538.20" text-anchor="middle" class="ax">SH3BP5-AS1, Expression level: log2(FPKM+0.01)</text>
<text transform="translate(304.50 481.00) rotate(-90)" text-anchor="middle" class="ax">EMCN, Expression level: log2(FPKM+0.01)</text>
<line x1="325.32" y1="489.67" x2="412.23" y2="472.64" stroke="#e8484a" stroke-width="0.7"/>
<path d="M366.5 459.1h0M369.7 493.3h0M354.2 476.5h0M357.4 495.5h0M365.7 478.4h0M368.3 477.4h0M365.6 488.4h0M376.6 472.1h0M353.0 501.9h0M374.7 500.6h0M359.0 485.8h0M359.8 496.0h0M346.5 494.3h0M367.7 467.1h0M368.6 471.4h0M367.3 486.7h0M352.9 489.3h0M354.9 477.9h0M359.6 480.2h0M355.4 478.2h0M349.5 496.4h0M337.1 496.1h0M355.8 484.6h0M357.9 505.6h0M380.1 498.5h0M345.6 456.2h0M379.2 471.9h0M339.3 490.5h0M365.3 484.8h0M394.3 489.7h0M372.0 480.9h0M378.6 485.6h0M369.1 485.4h0M379.8 465.2h0M358.5 469.0h0M365.2 485.5h0M361.0 493.8h0M352.3 479.6h0M373.0 485.3h0M361.9 460.9h0M372.2 494.8h0M354.1 485.5h0M372.0 483.5h0M335.0 485.9h0M374.5 478.5h0M360.2 486.7h0M353.3 483.5h0M366.5 467.3h0M343.8 479.9h0M376.0 474.9h0M336.9 484.7h0M358.4 500.6h0M368.9 489.1h0M359.3 488.9h0M342.5 488.2h0M352.4 482.2h0M344.1 487.5h0M367.5 484.6h0M365.6 483.5h0M364.5 480.8h0M366.1 490.5h0M377.3 486.8h0M367.9 493.4h0M352.1 461.5h0M359.3 489.1h0M354.3 469.3h0M350.9 475.4h0M358.8 484.2h0M365.0 469.9h0M379.6 463.2h0M378.4 498.6h0M356.1 481.0h0M377.3 472.2h0M364.7 477.0h0M373.0 468.9h0M353.6 486.0h0M356.5 491.3h0M369.0 488.3h0M347.4 477.2h0M355.0 481.8h0M358.1 496.4h0M357.5 491.4h0M364.3 477.7h0M364.2 492.2h0M386.4 469.9h0M342.0 484.9h0M362.3 475.3h0M365.8 498.1h0M372.8 473.3h0M362.8 498.4h0M357.6 496.1h0M369.1 488.1h0M342.1 474.5h0M368.4 502.0h0M369.8 491.6h0M378.0 467.4h0M347.5 488.9h0M377.4 490.4h0M360.3 477.2h0M386.9 469.2h0M368.3 478.5h0M358.8 469.5h0M357.8 482.0h0M353.0 471.3h0M364.5 473.2h0M357.5 470.1h0M379.0 496.1h0M363.9 462.8h0M362.3 502.3h0M350.9 485.8h0M374.1 494.4h0M374.5 480.7h0M351.9 469.8h0M374.8 485.0h0M358.5 477.9h0M360.7 479.1h0M359.1 474.1h0M353.6 466.3h0M372.5 460.8h0M342.4 467.7h0M358.9 465.4h0M369.3 474.5h0M354.0 498.7h0M368.4 485.4h0M350.1 489.4h0M371.2 478.6h0M367.9 485.0h0M376.6 471.7h0M344.3 475.8h0M341.1 488.1h0M362.6 478.9h0M366.4 486.6h0M338.6 496.3h0M355.3 486.1h0M365.6 490.9h0M382.4 499.5h0M340.4 490.5h0M368.8 481.2h0M373.4 462.9h0M384.0 485.7h0M381.0 487.3h0M356.4 471.3h0M373.3 475.8h0M371.2 467.4h0M392.2 477.0h0M358.7 486.8h0M355.0 489.4h0M367.0 499.7h0M359.0 487.8h0M385.5 466.1h0M358.6 472.9h0M377.4 480.5h0M376.5 489.8h0M356.2 497.6h0M348.2 457.9h0M359.8 483.7h0M363.6 478.7h0M380.9 487.1h0M364.1 503.3h0M374.6 471.2h0M358.1 488.1h0M348.9 507.2h0M382.4 466.7h0M390.5 483.9h0M380.4 496.4h0M360.1 489.5h0M344.6 463.9h0M375.1 476.9h0M359.8 499.2h0M351.5 498.8h0M338.5 502.3h0M368.0 493.6h0M356.0 467.9h0M375.0 500.2h0M370.9 485.5h0M358.4 482.7h0M329.1 514.9h0M372.9 466.5h0M360.2 477.7h0M398.1 471.3h0M365.6 489.6h0M363.5 486.3h0M373.5 472.0h0M377.3 467.1h0M363.2 501.0h0M345.3 482.8h0M385.8 498.8h0M349.8 484.5h0M352.4 507.1h0M377.3 496.1h0M337.9 486.7h0M336.3 485.6h0M345.9 489.6h0M343.6 480.9h0M343.5 451.3h0M365.4 491.7h0M354.5 469.3h0M365.3 485.6h0M365.9 482.2h0M373.8 456.8h0M360.7 486.1h0M369.8 496.6h0M355.2 460.9h0M376.2 478.3h0M366.3 475.3h0M364.0 477.3h0M371.3 470.8h0M347.2 475.0h0M375.3 473.3h0M360.3 489.7h0M376.3 475.9h0M363.4 477.3h0M365.0 476.5h0M360.7 482.7h0M339.1 499.3h0M375.9 482.8h0M358.7 496.5h0M353.0 484.8h0M348.7 480.6h0M377.0 488.2h0M377.2 484.3h0M360.0 465.5h0M377.8 467.3h0M366.1 489.7h0M372.9 470.8h0M367.1 481.3h0M350.2 491.7h0M362.4 480.0h0M347.1 489.9h0M362.3 480.7h0M362.2 485.8h0M337.5 473.9h0M361.3 481.7h0M354.8 501.3h0M351.6 490.7h0M375.1 452.4h0M357.1 492.2h0M349.9 461.2h0M363.3 505.8h0M367.3 476.3h0M369.9 474.1h0M379.5 483.4h0M357.1 491.4h0M347.3 488.3h0M356.7 495.2h0M351.8 479.4h0M374.6 476.5h0M358.6 483.6h0M384.8 472.2h0M367.5 476.6h0M361.4 493.5h0M374.3 480.1h0M351.8 460.8h0M366.4 485.6h0M361.7 484.0h0M365.0 470.9h0M335.8 489.1h0M379.9 475.9h0M342.9 476.9h0M372.9 474.2h0M353.1 494.8h0M366.9 494.9h0M378.0 485.5h0M360.3 466.3h0M379.4 486.5h0M388.1 489.6h0M347.9 487.0h0M343.4 498.6h0M360.4 473.5h0M370.3 473.5h0M350.2 488.2h0M364.9 484.2h0M351.6 492.7h0M348.9 451.5h0M372.4 472.7h0M355.3 478.5h0M400.9 482.3h0M356.4 469.9h0M366.5 464.5h0M375.8 456.3h0M346.0 474.4h0M355.5 480.4h0M370.9 478.2h0M371.8 472.3h0M379.1 506.3h0M374.4 472.5h0M360.5 486.0h0M394.0 491.3h0M359.3 490.9h0M367.4 480.0h0M351.5 480.9h0M341.2 480.0h0M351.9 494.3h0M383.6 494.6h0M386.0 496.9h0M347.9 492.6h0M356.2 468.6h0M367.6 487.6h0M352.1 475.5h0M378.0 457.2h0M367.2 491.5h0M359.4 480.4h0M367.8 484.1h0M366.9 470.0h0M338.9 470.5h0M379.5 496.0h0M369.7 475.2h0M378.3 472.5h0M378.2 485.0h0M360.9 477.3h0M362.7 487.5h0M366.5 499.7h0M353.0 475.9h0M368.3 478.7h0M371.5 478.7h0M361.7 488.4h0M376.8 466.5h0M347.1 481.7h0M373.3 477.4h0M355.0 478.8h0M378.1 475.6h0M369.5 478.7h0M368.6 480.7h0M362.0 488.7h0M361.0 470.7h0M360.0 467.7h0M373.1 482.9h0M354.6 505.4h0M366.3 493.0h0M356.4 459.1h0M369.8 492.1h0M373.0 487.9h0M358.4 473.1h0M374.6 474.5h0M366.4 471.5h0M360.6 493.1h0M372.4 488.4h0M371.1 461.2h0M349.4 476.6h0M363.4 482.4h0M354.3 484.5h0M372.6 491.9h0M372.4 520.7h0M390.7 473.9h0M406.5 475.6h0M367.5 473.7h0M378.6 503.9h0M352.8 461.9h0M372.2 461.8h0M359.0 473.6h0M360.4 470.8h0M365.4 483.7h0M377.8 454.6h0M372.0 480.1h0M339.5 497.9h0M360.0 478.7h0M366.6 480.0h0M384.8 473.4h0M356.3 459.9h0M370.4 486.4h0M366.7 494.2h0M355.4 494.3h0M336.3 480.2h0M379.7 468.8h0M374.4 481.7h0M369.9 481.6h0M341.4 486.3h0M387.0 495.5h0M356.8 486.4h0M379.5 483.4h0M362.4 473.4h0M361.7 483.8h0M384.8 471.2h0M345.3 477.7h0M377.1 482.1h0M342.0 480.1h0M339.9 519.1h0M380.6 487.2h0M352.1 491.1h0M357.3 450.2h0M379.5 491.8h0M343.1 517.0h0M358.0 478.7h0M365.1 498.7h0M384.5 470.0h0M373.1 496.0h0M381.5 471.8h0M372.8 491.3h0M368.3 485.4h0M367.4 477.9h0M363.2 484.3h0M365.3 465.1h0M381.9 471.3h0M363.6 481.1h0M369.1 461.5h0M369.9 466.3h0M349.9 489.5h0M342.9 494.3h0M369.1 498.4h0M375.4 479.4h0M357.6 484.3h0M354.6 470.7h0M370.6 488.3h0M360.9 480.1h0M375.2 484.2h0M360.4 476.2h0M361.5 479.0h0M370.6 482.7h0M352.5 490.7h0M362.0 470.9h0M376.2 488.2h0M374.7 481.2h0M338.7 485.6h0M357.2 484.0h0M365.0 491.6h0M352.5 484.9h0M383.1 499.0h0M366.5 490.0h0M381.8 483.6h0M365.2 476.2h0M380.3 487.7h0M355.3 490.8h0M359.3 469.7h0M355.8 486.7h0M376.9 459.6h0M381.2 472.0h0M358.3 464.6h0M356.4 486.1h0M368.6 487.8h0M378.4 460.4h0M336.2 470.9h0M350.2 490.2h0M370.5 496.9h0M346.3 494.4h0M384.7 484.0h0M355.8 483.2h0M348.0 478.0h0M377.1 472.4h0M385.8 506.6h0M357.6 475.6h0M370.9 487.8h0M330.9 482.1h0M376.0 470.1h0M376.7 483.4h0M359.8 475.6h0M348.8 469.0h0M363.9 480.1h0M366.1 479.6h0M357.5 485.2h0M378.5 478.4h0M360.0 482.0h0M351.5 472.3h0M363.6 482.2h0M354.9 484.1h0M362.3 479.8h0M349.8 471.6h0M373.4 478.4h0M360.0 472.7h0M380.7 491.0h0M386.8 475.1h0M367.1 480.0h0M372.3 472.5h0M365.8 470.6h0M389.7 483.2h0M365.8 483.5h0M353.6 479.9h0M375.2 473.6h0M387.2 464.1h0M380.0 470.6h0M386.8 469.0h0M365.2 484.7h0M364.8 490.3h0M367.0 472.8h0M353.7 477.6h0M355.1 484.7h0M397.8 455.4h0M372.1 475.1h0M350.3 483.2h0M380.6 469.2h0M374.1 476.0h0M358.1 471.8h0M364.1 496.8h0M372.0 490.8h0M360.3 497.8h0M354.1 497.3h0M338.4 495.6h0M355.8 460.3h0M360.3 484.4h0M368.2 481.6h0M376.2 472.2h0M378.3 494.1h0M368.9 481.0h0M352.1 485.8h0M359.8 464.6h0M358.0 473.4h0M379.0 480.1h0M353.3 489.5h0M353.2 482.0h0M360.7 481.3h0M342.9 477.5h0M364.0 476.3h0M361.7 495.2h0M345.6 502.5h0M363.5 493.5h0M359.9 454.0h0M359.3 514.7h0M357.4 480.1h0M356.6 495.9h0M371.5 491.8h0M339.8 471.2h0M367.4 484.6h0M369.0 470.5h0M358.7 471.2h0M368.0 465.7h0M365.5 487.0h0M372.4 454.3h0M375.3 469.2h0M374.9 474.9h0M361.6 472.7h0M343.9 477.5h0M340.4 475.7h0M366.9 495.6h0M337.5 486.8h0M367.3 493.0h0M359.6 486.6h0M358.0 490.4h0M359.7 483.2h0M371.1 489.2h0M364.7 504.9h0M344.3 483.9h0M372.0 490.2h0M359.6 452.3h0M366.3 484.6h0M372.1 473.6h0M363.6 481.2h0M356.2 483.5h0M360.2 478.4h0M367.7 481.5h0M373.2 487.0h0M364.4 470.2h0M351.1 480.8h0M379.6 471.3h0M380.7 488.7h0M369.6 478.9h0M351.5 482.8h0M361.8 470.8h0M368.7 477.1h0M388.7 489.0h0M348.8 478.4h0M374.1 486.5h0M368.5 493.2h0M357.8 476.2h0M363.2 485.7h0M372.1 458.8h0M361.6 467.0h0M384.8 474.7h0M364.7 496.7h0M365.4 483.6h0M379.5 474.6h0M349.5 485.6h0M387.3 467.1h0M340.7 517.8h0M376.1 478.1h0M353.1 486.1h0M338.2 487.1h0M388.0 464.4h0M384.2 479.2h0M356.7 469.7h0M371.6 486.1h0M374.3 471.2h0M335.9 469.2h0M389.1 480.2h0M367.2 480.5h0M377.7 483.2h0M375.5 486.6h0M385.0 480.4h0M333.2 486.3h0M368.8 476.9h0M359.9 475.7h0M362.8 465.9h0M373.4 478.0h0M360.9 482.2h0M356.5 477.6h0M327.8 497.1h0M383.8 489.9h0M378.5 476.7h0M344.9 484.4h0M372.2 489.6h0M355.3 482.5h0M348.4 463.9h0M352.8 482.1h0M358.9 490.4h0M374.2 475.4h0M373.7 481.8h0M379.5 491.6h0M371.5 488.9h0M361.2 481.6h0M381.9 478.9h0M357.6 493.6h0M366.2 499.3h0M379.3 461.8h0M359.3 496.9h0M364.8 490.4h0M371.1 472.6h0M355.5 476.1h0M355.2 489.8h0M355.8 490.7h0M374.6 455.1h0M367.1 480.8h0M361.9 479.6h0M353.6 500.0h0M354.5 472.6h0M354.3 497.4h0M376.8 480.6h0M358.0 494.1h0M379.9 459.8h0M383.6 461.4h0M375.1 503.2h0M362.5 513.3h0M368.8 494.7h0M363.3 505.8h0M341.7 494.9h0M327.6 502.4h0M381.6 474.1h0M360.9 487.8h0M372.6 492.1h0M392.1 481.7h0M368.7 482.5h0M365.1 469.2h0M371.2 468.3h0M361.8 495.8h0M359.5 479.8h0M349.0 478.7h0M368.9 501.5h0M341.3 450.4h0M352.6 504.7h0M361.6 485.0h0M368.8 506.8h0M374.2 461.9h0M361.9 465.8h0M365.6 474.1h0M359.6 482.5h0M382.0 471.6h0M356.6 487.8h0M386.6 491.2h0M375.3 486.8h0M345.5 498.4h0M364.1 468.6h0M368.5 483.8h0M357.7 484.1h0M361.5 484.4h0M369.2 470.1h0M361.1 491.6h0M358.9 479.1h0M343.3 464.3h0M365.9 463.8h0M375.7 472.5h0M359.3 487.2h0M373.3 475.2h0M373.3 474.6h0M353.7 489.7h0M362.5 478.5h0M355.2 453.3h0M384.0 496.9h0M376.8 463.5h0M359.6 498.6h0M360.6 500.3h0M345.4 475.1h0M363.0 499.9h0M349.4 486.2h0M381.6 509.4h0M376.8 484.0h0M374.7 471.5h0M379.7 484.2h0M372.7 490.5h0M371.0 474.1h0M376.7 483.4h0M371.6 483.0h0M361.4 480.4h0M343.1 478.8h0M348.6 497.0h0M362.7 471.4h0M361.0 484.8h0M378.6 487.1h0M360.7 484.0h0M356.9 486.7h0M371.4 514.0h0M365.6 496.1h0M381.4 505.1h0M358.4 473.0h0M370.9 485.1h0M363.3 492.5h0M365.0 470.8h0M359.8 478.4h0M362.3 491.3h0M364.1 487.3h0M378.4 490.7h0M349.9 500.1h0M361.2 479.6h0M400.7 465.1h0M342.7 489.9h0M377.5 470.0h0M366.7 488.8h0M382.2 489.3h0M365.0 475.6h0M374.5 469.0h0M358.7 475.0h0M366.2 500.6h0M348.8 484.0h0M366.5 469.3h0M367.5 494.4h0M372.4 493.3h0M352.3 489.4h0M377.3 484.9h0M371.9 482.7h0M364.2 484.7h0M361.0 480.6h0M342.5 479.2h0M337.1 460.4h0M361.4 484.5h0M364.3 472.7h0M356.7 469.8h0M363.6 471.9h0M353.0 498.0h0M375.2 461.9h0M378.9 461.0h0M392.9 496.3h0M361.7 497.4h0M361.1 480.4h0M368.5 459.9h0M365.7 472.7h0M355.8 480.6h0M381.8 472.3h0M356.5 496.4h0M359.7 465.5h0M387.7 453.1h0M363.1 465.1h0M368.2 480.1h0M382.8 488.4h0M377.0 484.5h0M365.6 490.5h0M354.0 490.1h0M357.9 502.5h0M365.9 487.8h0M356.1 475.0h0M356.3 483.8h0M359.9 480.3h0M360.4 472.5h0M378.1 477.7h0M355.2 484.9h0M376.1 492.1h0M368.1 473.2h0M374.6 481.7h0M349.6 492.2h0M358.7 482.0h0M349.9 490.8h0M367.5 480.5h0M364.0 488.4h0M377.4 502.5h0M380.3 467.0h0M366.4 466.9h0M345.0 475.6h0M354.1 474.2h0M365.8 466.1h0M361.6 492.3h0M356.4 478.8h0M360.4 463.5h0M373.3 479.9h0M353.8 465.5h0M375.6 464.9h0M383.0 480.3h0M370.7 477.1h0M390.6 487.7h0M371.8 484.0h0M352.8 477.5h0M370.3 481.6h0M370.2 479.7h0M359.8 478.3h0M372.2 459.1h0M377.6 485.5h0M363.1 479.7h0M371.9 486.7h0M360.4 474.7h0M363.2 473.8h0M370.8 485.0h0M382.5 481.2h0M359.2 477.2h0M349.7 466.8h0M349.2 483.7h0M368.5 486.3h0M370.9 481.3h0M371.1 458.7h0M369.3 484.8h0M355.6 482.4h0M379.8 473.3h0M356.3 494.1h0M351.3 477.3h0M342.9 480.6h0M378.2 489.0h0M372.8 484.4h0M363.1 480.3h0M357.4 479.6h0M346.2 494.8h0M369.1 488.1h0M386.6 477.1h0M363.3 459.3h0M384.0 484.8h0M368.1 488.3h0M349.3 490.5h0M366.6 467.1h0M367.1 479.4h0M366.5 466.4h0M382.0 478.1h0M388.7 484.1h0M382.5 483.4h0M368.1 464.9h0M382.9 490.8h0M365.5 478.5h0M362.4 493.5h0M354.8 490.6h0M361.6 482.0h0M353.4 477.0h0M341.3 482.3h0M361.3 499.4h0M369.4 466.9h0M374.6 489.3h0M360.6 478.4h0M354.6 472.8h0M344.8 474.4h0M359.4 483.9h0M364.4 484.1h0M360.4 479.5h0M331.2 493.9h0M351.6 465.1h0M357.0 514.5h0M354.1 489.9h0M372.2 474.0h0M355.7 496.7h0M387.5 487.5h0M383.2 479.8h0M338.1 462.6h0M364.2 508.8h0M371.5 487.2h0M365.2 480.7h0M366.8 486.3h0M346.0 477.7h0M355.7 489.6h0M333.3 478.1h0M359.3 489.1h0M362.0 479.8h0M359.7 476.2h0M339.4 476.8h0M368.6 474.3h0M357.3 485.0h0M372.4 476.1h0M362.3 473.9h0M367.6 471.6h0M375.2 489.2h0M367.0 480.1h0M368.6 459.0h0M346.2 499.4h0M383.2 479.6h0M359.2 493.1h0M369.9 482.4h0M372.4 482.3h0M361.5 475.0h0M373.3 468.4h0M361.9 481.8h0M356.2 477.8h0M345.4 471.2h0M347.7 484.5h0M371.5 486.3h0M365.9 469.3h0M368.0 478.0h0M354.8 497.2h0M389.2 478.1h0M359.1 460.5h0M388.3 472.8h0M349.9 473.7h0M353.9 468.5h0M378.2 484.8h0M372.4 480.3h0M366.1 482.8h0M352.0 489.4h0M382.5 474.2h0M347.8 488.8h0M364.5 488.6h0M362.0 457.9h0M368.3 482.2h0M370.9 485.3h0M350.6 485.3h0M380.6 456.8h0M388.2 492.2h0M354.9 485.9h0M364.6 490.2h0M379.2 464.7h0M373.5 489.1h0M361.4 464.7h0M334.0 490.8h0M372.1 474.6h0M378.9 479.2h0M374.5 481.4h0M361.0 484.0h0M350.3 495.8h0M362.8 470.2h0M371.6 453.8h0M363.1 484.7h0M375.9 484.3h0M350.8 492.0h0M366.6 471.2h0M367.6 477.5h0M378.2 470.4h0M370.0 465.7h0M369.3 494.8h0M355.1 477.8h0M365.2 469.2h0M349.4 480.5h0M357.9 483.5h0M363.2 461.7h0M356.4 492.0h0M385.5 464.2h0M364.2 468.4h0M353.0 489.2h0M369.5 489.2h0M357.3 492.4h0M341.8 482.5h0M351.9 492.8h0M384.9 497.0h0M372.3 476.5h0M356.3 494.1h0M367.3 469.2h0M359.1 494.1h0M345.7 471.8h0M372.3 470.9h0M359.4 500.1h0M343.7 497.7h0M367.6 490.4h0M361.8 476.3h0M347.9 487.4h0M384.4 476.8h0M361.1 487.1h0M368.3 478.9h0M373.3 488.2h0M380.6 500.8h0M349.9 481.1h0M404.5 463.0h0M390.1 472.2h0M352.5 477.1h0M356.0 485.0h0M370.2 478.7h0M351.5 483.7h0M374.7 487.1h0M371.0 481.3h0M370.0 478.1h0M350.3 488.6h0M354.5 482.7h0M364.9 453.5h0M358.5 480.3h0M371.1 475.2h0M371.6 481.4h0M353.7 480.8h0M334.3 474.9h0M364.0 493.5h0M361.2 474.8h0M333.8 483.7h0M390.8 469.0h0M362.7 481.8h0M339.8 496.6h0M355.9 493.7h0M352.2 505.2h0M339.5 486.8h0M348.3 461.6h0M365.3 479.3h0M351.5 496.7h0M359.5 498.5h0M344.2 480.9h0M370.0 480.4h0M364.8 479.6h0M357.6 489.7h0M353.7 463.1h0M369.7 483.7h0M356.5 493.7h0M364.3 496.2h0M353.9 467.0h0M367.2 472.9h0M353.1 493.5h0M378.2 472.3h0M372.5 482.9h0M362.0 474.1h0M362.0 483.1h0M350.3 517.2h0M345.7 474.9h0M341.0 477.4h0M372.3 466.3h0M367.7 488.4h0M357.8 493.2h0M354.2 496.3h0M373.9 480.7h0M357.3 468.1h0M360.4 487.2h0M411.7 478.9h0M406.7 472.6h0M403.0 466.4h0M331.6 521.0h0M371.7 521.0h0M344.1 455.1h0" stroke="#1a699c" stroke-width="2.1" stroke-linecap="round" fill="none"/>
<rect x="314.40" y="434.40" width="56.50" height="8.90" fill="#fff" stroke="#999" stroke-width="0.45"/>
<line x1="315.40" y1="437.00" x2="318.40" y2="437.00" stroke="#3fa0e0" stroke-width="0.8"/>
<circle cx="316.90" cy="441.00" r="0.9" fill="#35a835"/>
<text x="319.60" y="438.10" class="lg" textLength="51.2" lengthAdjust="spacingAndGlyphs">Regression (y = 0.2797x + 1.2585)</text>
<text x="319.60" y="442.30" class="lg" textLength="44.9" lengthAdjust="spacingAndGlyphs">r = 0.226, p-value = 2.62e-14</text>
</g>
<text x="288.30" y="411.80" class="lab">H</text>
<rect x="441.30" y="417.10" width="120.10" height="125.40" fill="url(#fg)" stroke="#8eabd2" stroke-width="0.9" class="fr"/>
<g class="pl">
<rect x="456.10" y="434.30" width="103.50" height="93.40" fill="#fff"/>
<path d="M456.10 434.30H559.60M456.10 437.41H559.60M456.10 440.53H559.60M456.10 443.64H559.60M456.10 446.75H559.60M456.10 449.87H559.60M456.10 452.98H559.60M456.10 456.09H559.60M456.10 459.21H559.60M456.10 462.32H559.60M456.10 465.43H559.60M456.10 468.55H559.60M456.10 471.66H559.60M456.10 474.77H559.60M456.10 477.89H559.60M456.10 481.00H559.60M456.10 484.11H559.60M456.10 487.23H559.60M456.10 490.34H559.60M456.10 493.45H559.60M456.10 496.57H559.60M456.10 499.68H559.60M456.10 502.79H559.60M456.10 505.91H559.60M456.10 509.02H559.60M456.10 512.13H559.60M456.10 515.25H559.60M456.10 518.36H559.60M456.10 521.47H559.60M456.10 524.59H559.60M456.10 527.70H559.60" stroke="#dcdcdc" stroke-width="0.5" fill="none"/>
<rect x="456.10" y="434.30" width="103.50" height="93.40" stroke="#c4c8d0" stroke-width="0.6" fill="none"/>
<path d="M456.10 527.70H559.60" stroke="#b0c0d8" stroke-width="0.7" fill="none"/>
<text x="501.55" y="422.70" text-anchor="middle" class="tt" textLength="71.8" lengthAdjust="spacingAndGlyphs">HOTAIRM1 vs. EMCN, 1104 samples (BRCA)</text>
<text x="502.35" y="428.30" text-anchor="middle" class="st">Data Source: starBase v3.0 project</text>
<path d="M554.90 420.90h3.4M554.90 422.00h3.4M554.90 423.10h3.4" stroke="#555" stroke-width="0.8"/>
<text x="456.10" y="532.40" text-anchor="middle" class="tk">-4</text>
<text x="476.80" y="532.40" text-anchor="middle" class="tk">-2</text>
<text x="497.50" y="532.40" text-anchor="middle" class="tk">0</text>
<text x="518.20" y="532.40" text-anchor="middle" class="tk">2</text>
<text x="538.90" y="532.40" text-anchor="middle" class="tk">4</text>
<text x="558.10" y="532.40" text-anchor="middle" class="tk">6</text>
<text x="453.50" y="435.40" text-anchor="end" class="tk">6</text>
<text x="453.50" y="445.78" text-anchor="end" class="tk">5</text>
<text x="453.50" y="456.16" text-anchor="end" class="tk">4</text>
<text x="453.50" y="466.53" text-anchor="end" class="tk">3</text>
<text x="453.50" y="476.91" text-anchor="end" class="tk">2</text>
<text x="453.50" y="487.29" text-anchor="end" class="tk">1</text>
<text x="453.50" y="497.67" text-anchor="end" class="tk">0</text>
<text x="453.50" y="508.04" text-anchor="end" class="tk">-1</text>
<text x="453.50" y="518.42" text-anchor="end" class="tk">-2</text>
<text x="453.50" y="528.80" text-anchor="end" class="tk">-3</text>
<text x="507.85" y="538.20" text-anchor="middle" class="ax">HOTAIRM1, Expression level: log2(FPKM+0.01)</text>
<text transform="translate(447.60 481.00) rotate(-90)" text-anchor="middle" class="ax">EMCN, Expression level: log2(FPKM+0.01)</text>
<line x1="458.81" y1="491.42" x2="541.46" y2="472.14" stroke="#e8484a" stroke-width="0.7"/>
<path d="M502.4 474.6h0M478.1 509.5h0M491.7 479.4h0M482.4 483.9h0M476.2 493.4h0M490.3 498.9h0M516.0 473.7h0M495.5 476.8h0M479.1 480.4h0M504.1 469.2h0M511.9 471.5h0M517.3 478.4h0M504.0 475.2h0M502.8 474.9h0M518.8 458.8h0M489.2 487.3h0M519.6 482.0h0M514.7 461.6h0M495.0 486.0h0M500.9 466.1h0M499.0 478.7h0M502.9 477.5h0M500.8 476.5h0M480.7 506.5h0M476.9 491.1h0M511.1 482.6h0M515.7 480.9h0M487.2 492.0h0M497.4 483.0h0M490.9 488.6h0M493.0 480.6h0M507.2 474.7h0M506.9 477.2h0M489.1 497.0h0M496.0 490.5h0M492.4 481.0h0M492.5 484.5h0M514.4 470.2h0M496.4 487.8h0M505.0 495.4h0M497.7 479.3h0M516.5 471.0h0M497.9 487.9h0M499.9 471.1h0M495.3 479.6h0M511.1 491.5h0M479.7 489.0h0M496.9 490.1h0M487.1 471.7h0M485.4 474.3h0M493.1 501.5h0M515.5 469.0h0M477.4 491.6h0M496.5 478.9h0M470.7 504.2h0M516.3 459.9h0M496.4 492.0h0M503.5 466.9h0M496.5 475.8h0M529.9 479.6h0M508.8 471.0h0M501.0 467.2h0M502.5 483.2h0M485.1 482.4h0M478.8 490.2h0M534.1 461.2h0M493.2 486.8h0M502.7 488.2h0M514.6 484.4h0M522.9 456.2h0M480.1 489.8h0M510.0 475.4h0M510.8 466.7h0M500.0 485.0h0M503.9 494.0h0M478.6 505.0h0M503.3 479.0h0M498.6 473.5h0M511.4 487.4h0M493.9 485.9h0M508.1 490.7h0M523.5 468.4h0M478.2 496.5h0M486.8 491.4h0M516.5 475.6h0M484.7 502.6h0M478.7 490.2h0M518.2 478.1h0M497.6 473.1h0M502.9 476.2h0M494.3 483.7h0M494.9 484.1h0M500.7 477.8h0M497.8 476.2h0M502.7 493.1h0M508.9 487.9h0M493.9 481.8h0M489.0 490.8h0M507.2 466.4h0M490.9 474.3h0M504.9 505.2h0M485.5 477.0h0M502.1 482.5h0M489.6 482.9h0M498.9 476.6h0M493.8 483.5h0M471.3 474.3h0M486.4 484.2h0M479.5 497.2h0M492.7 484.8h0M496.5 499.4h0M506.2 474.4h0M507.9 474.5h0M490.5 483.3h0M503.5 500.2h0M492.5 490.2h0M492.7 482.6h0M505.0 486.4h0M496.2 472.2h0M486.0 481.0h0M513.7 486.4h0M511.4 493.5h0M502.2 501.9h0M502.7 485.2h0M519.0 461.1h0M510.8 469.1h0M508.6 473.4h0M536.6 469.2h0M508.6 470.0h0M489.3 489.7h0M496.7 476.7h0M516.3 474.2h0M497.2 500.1h0M489.1 489.7h0M513.6 459.0h0M507.6 458.5h0M517.9 485.4h0M503.9 494.1h0M496.6 485.5h0M498.4 485.8h0M488.8 499.1h0M525.2 477.2h0M495.6 497.2h0M489.4 490.5h0M541.0 466.4h0M483.1 477.6h0M523.4 474.7h0M480.2 485.6h0M503.7 483.6h0M480.3 480.3h0M533.8 468.2h0M515.7 475.3h0M511.1 479.6h0M516.0 482.9h0M462.6 486.2h0M508.7 482.7h0M508.4 490.1h0M512.2 482.4h0M517.8 473.7h0M501.2 482.4h0M497.7 468.7h0M512.0 476.1h0M487.6 482.2h0M501.7 470.4h0M491.2 493.9h0M504.0 463.0h0M492.4 470.3h0M511.5 473.2h0M518.9 474.1h0M504.6 474.4h0M485.7 466.9h0M488.0 484.9h0M498.2 480.8h0M503.5 471.5h0M512.3 506.1h0M510.9 472.9h0M489.7 468.7h0M507.7 474.9h0M513.4 475.5h0M491.5 488.4h0M498.5 459.7h0M536.7 465.8h0M489.9 496.4h0M490.2 488.0h0M500.5 477.5h0M492.9 488.8h0M469.4 478.9h0M503.2 453.3h0M488.8 479.3h0M488.3 476.1h0M513.1 475.8h0M496.8 493.2h0M488.0 478.2h0M502.3 480.0h0M503.4 472.2h0M516.0 456.9h0M513.2 465.0h0M495.1 484.5h0M511.1 477.4h0M512.7 477.1h0M480.6 477.7h0M484.2 497.6h0M511.8 475.6h0M513.1 493.6h0M502.9 504.1h0M494.2 498.3h0M511.6 459.6h0M498.7 484.7h0M481.5 483.0h0M509.6 468.8h0M468.7 495.0h0M483.7 489.0h0M495.1 483.2h0M525.1 469.9h0M495.8 478.5h0M494.6 487.5h0M493.5 467.0h0M504.6 472.6h0M506.8 470.7h0M497.2 478.8h0M479.9 494.7h0M474.8 464.7h0M503.4 492.8h0M492.2 478.4h0M501.5 493.4h0M501.8 512.9h0M491.0 479.0h0M511.2 469.1h0M504.4 452.0h0M498.0 485.5h0M495.7 474.2h0M496.5 487.8h0M472.3 482.7h0M526.4 467.9h0M489.8 483.0h0M498.6 481.6h0M510.4 480.5h0M515.0 488.6h0M491.6 493.5h0M486.2 489.3h0M503.2 482.8h0M477.1 470.2h0M483.0 480.5h0M492.4 483.1h0M487.6 486.8h0M507.6 473.6h0M515.1 466.2h0M514.6 476.5h0M518.0 463.5h0M489.8 466.4h0M498.6 504.3h0M498.9 494.9h0M500.5 467.0h0M499.2 487.3h0M487.1 487.9h0M488.0 475.0h0M507.5 497.8h0M485.3 479.9h0M530.0 464.8h0M502.5 488.1h0M488.2 493.6h0M494.6 487.6h0M491.8 488.5h0M505.3 462.1h0M497.4 468.7h0M505.4 467.7h0M506.9 466.2h0M484.7 489.1h0M508.5 485.6h0M498.6 476.1h0M511.4 480.2h0M506.0 489.0h0M522.6 455.4h0M503.1 494.3h0M494.7 477.0h0M507.7 457.5h0M492.2 509.6h0M513.0 460.0h0M532.6 476.2h0M504.4 492.8h0M507.7 475.4h0M520.3 472.9h0M496.1 478.5h0M489.0 489.1h0M510.9 462.0h0M492.7 476.7h0M523.7 459.8h0M504.2 468.5h0M507.3 476.8h0M494.3 480.3h0M497.1 473.0h0M491.6 462.9h0M503.8 484.7h0M509.3 470.1h0M509.1 485.0h0M496.1 474.7h0M483.6 467.1h0M510.3 462.8h0M482.7 497.0h0M520.9 469.4h0M481.8 487.7h0M496.5 479.8h0M474.8 487.0h0M488.1 483.0h0M496.0 506.8h0M490.9 486.2h0M484.1 478.4h0M508.0 476.1h0M490.5 485.8h0M517.0 487.2h0M471.9 505.8h0M490.7 471.0h0M495.9 475.9h0M483.5 491.3h0M490.0 472.0h0M509.3 471.2h0M484.2 490.8h0M482.2 490.3h0M475.3 486.0h0M530.7 465.1h0M496.6 477.7h0M494.7 500.9h0M487.5 470.4h0M487.1 484.1h0M496.6 499.2h0M525.5 465.8h0M503.9 462.3h0M504.3 485.6h0M505.5 489.3h0M472.6 484.1h0M487.5 492.8h0M495.5 469.8h0M516.8 468.4h0M478.7 492.3h0M522.1 472.2h0M507.3 468.9h0M489.4 478.3h0M478.1 484.9h0M521.1 465.9h0M500.2 479.1h0M484.0 494.2h0M501.2 464.9h0M485.2 482.5h0M490.1 482.3h0M513.2 478.2h0M495.4 470.6h0M485.3 506.9h0M493.3 474.5h0M485.3 485.7h0M491.5 490.9h0M501.8 494.1h0M505.8 485.8h0M493.3 497.9h0M502.9 480.5h0M494.6 487.8h0M494.7 487.5h0M511.2 473.2h0M500.5 477.0h0M498.4 468.1h0M493.5 485.4h0M490.2 486.7h0M499.5 490.1h0M486.5 481.8h0M484.5 492.9h0M522.2 473.5h0M500.7 466.5h0M490.0 460.0h0M496.4 477.3h0M515.0 471.3h0M499.5 497.6h0M504.7 480.7h0M516.1 477.4h0M499.3 491.0h0M492.4 486.7h0M494.8 491.5h0M509.4 497.7h0M513.5 472.2h0M504.8 474.9h0M514.9 459.9h0M509.6 472.6h0M534.0 470.2h0M501.8 471.8h0M517.8 468.0h0M512.1 488.2h0M476.0 483.9h0M507.3 469.1h0M481.3 498.3h0M492.4 496.4h0M497.7 491.5h0M507.5 473.3h0M499.5 482.6h0M518.4 496.5h0M507.4 489.5h0M508.7 452.3h0M488.3 492.6h0M497.8 489.2h0M513.5 469.0h0M489.1 482.3h0M505.3 467.8h0M497.4 479.5h0M501.4 489.4h0M500.1 485.8h0M493.1 481.1h0M512.1 479.8h0M493.8 480.8h0M511.3 479.6h0M486.0 479.6h0M490.1 481.6h0M495.2 481.6h0M512.5 480.0h0M504.7 468.6h0M490.9 507.5h0M502.3 474.0h0M515.6 483.7h0M490.2 474.3h0M500.3 468.7h0M490.2 499.0h0M514.5 473.7h0M487.4 484.1h0M523.6 463.2h0M487.1 476.6h0M480.3 485.3h0M493.6 489.5h0M497.2 481.9h0M513.1 474.2h0M501.2 482.2h0M488.7 479.2h0M482.5 510.1h0M506.4 484.1h0M501.9 475.4h0M501.0 488.6h0M500.6 498.0h0M490.5 477.0h0M491.4 487.0h0M511.0 482.5h0M505.2 478.4h0M476.2 480.0h0M511.5 478.0h0M475.1 486.4h0M501.5 487.5h0M519.7 471.5h0M479.2 470.5h0M495.3 493.7h0M524.0 471.6h0M494.1 464.8h0M512.1 473.8h0M499.5 488.9h0M493.7 470.9h0M474.0 475.5h0M496.3 476.9h0M500.1 490.9h0M481.6 481.6h0M490.4 466.8h0M504.8 489.5h0M517.4 498.2h0M504.6 469.9h0M490.0 482.0h0M508.9 485.8h0M505.9 491.0h0M500.0 483.7h0M488.9 484.7h0M497.6 481.5h0M491.3 497.3h0M477.9 515.5h0M482.6 471.9h0M497.1 474.6h0M492.7 489.3h0M488.1 489.2h0M499.7 491.6h0M497.8 496.8h0M506.1 472.4h0M495.7 481.3h0M499.9 486.5h0M509.0 473.0h0M492.7 492.6h0M503.8 499.2h0M501.6 477.5h0M488.3 481.5h0M485.3 479.7h0M497.0 490.9h0M487.0 472.7h0M506.0 480.3h0M476.1 502.8h0M502.5 478.9h0M467.4 495.2h0M503.1 466.3h0M499.9 462.4h0M485.2 506.9h0M498.3 481.0h0M504.6 496.7h0M500.7 475.1h0M476.3 477.6h0M511.6 481.1h0M510.9 460.2h0M470.6 496.2h0M504.7 478.6h0M507.1 492.7h0M498.4 453.1h0M493.2 450.0h0M499.9 477.8h0M513.6 469.8h0M489.3 486.2h0M494.4 471.7h0M509.6 475.5h0M491.2 476.0h0M496.8 480.6h0M472.2 478.8h0M515.0 479.7h0M501.2 476.5h0M488.7 489.0h0M517.1 463.1h0M505.4 463.9h0M530.6 479.2h0M495.8 491.5h0M482.8 470.7h0M483.0 504.5h0M505.3 484.4h0M493.1 484.9h0M519.8 487.1h0M503.6 470.0h0M489.0 493.8h0M501.9 471.4h0M497.5 486.9h0M515.8 493.2h0M518.8 484.8h0M491.8 481.0h0M479.6 485.6h0M496.5 492.5h0M489.5 472.4h0M496.0 467.8h0M471.9 512.8h0M495.0 500.0h0M506.9 486.9h0M501.7 480.2h0M491.8 479.5h0M502.4 475.5h0M487.6 485.1h0M483.5 498.4h0M502.6 496.3h0M517.0 475.1h0M493.1 492.2h0M483.0 486.1h0M499.5 479.6h0M478.7 487.4h0M508.4 476.2h0M495.9 484.0h0M508.3 478.9h0M485.9 470.9h0M503.5 471.5h0M507.7 464.8h0M499.4 478.0h0M496.9 494.9h0M512.6 464.0h0M493.0 479.3h0M473.4 482.8h0M507.6 483.6h0M535.8 469.2h0M487.6 479.7h0M481.3 500.7h0M506.1 463.2h0M519.9 468.8h0M513.7 467.5h0M491.8 488.8h0M476.3 483.3h0M483.8 497.4h0M507.9 481.0h0M473.3 486.7h0M492.6 469.9h0M478.3 485.6h0M495.4 486.6h0M467.9 500.0h0M512.1 479.4h0M491.4 480.2h0M488.1 489.8h0M491.5 494.1h0M521.7 487.2h0M504.7 475.2h0M502.2 485.1h0M480.3 483.0h0M475.0 492.1h0M522.1 461.9h0M490.9 498.8h0M506.3 469.4h0M499.9 484.7h0M503.8 470.2h0M499.4 479.9h0M489.2 474.3h0M497.0 489.6h0M510.9 475.8h0M516.1 463.3h0M475.7 471.4h0M483.8 493.3h0M505.3 495.0h0M497.5 491.0h0M520.2 483.7h0M493.0 475.2h0M465.9 486.0h0M502.0 497.9h0M502.6 482.1h0M511.6 471.5h0M493.6 485.8h0M494.2 490.0h0M513.1 467.9h0M505.4 500.8h0M483.0 482.8h0M485.4 480.8h0M510.1 472.5h0M488.5 505.1h0M502.5 485.3h0M489.1 498.2h0M528.9 472.7h0M500.6 474.2h0M484.6 472.8h0M501.5 477.4h0M483.4 481.7h0M511.3 478.0h0M493.9 486.6h0M488.1 487.2h0M500.0 482.1h0M509.0 494.2h0M504.9 482.2h0M489.5 498.3h0M510.3 474.1h0M505.8 507.1h0M489.7 468.1h0M524.2 487.7h0M489.2 468.8h0M495.8 489.0h0M500.7 476.2h0M501.9 484.3h0M503.7 480.1h0M494.7 492.1h0M494.7 479.9h0M498.6 480.7h0M500.9 481.9h0M509.1 478.5h0M515.6 478.9h0M459.8 481.2h0M505.1 474.5h0M510.3 476.7h0M518.0 453.7h0M514.1 477.3h0M491.1 490.2h0M506.6 469.4h0M502.0 485.8h0M495.2 482.3h0M476.8 476.9h0M499.6 473.2h0M502.3 490.7h0M522.5 486.5h0M495.9 471.2h0M501.6 485.4h0M500.6 496.1h0M519.0 460.3h0M495.0 462.5h0M516.2 482.4h0M507.8 478.4h0M462.8 498.3h0M479.1 490.4h0M495.4 478.3h0M474.0 492.0h0M529.2 458.2h0M509.5 487.8h0M498.2 481.4h0M501.7 481.6h0M499.9 486.3h0M498.6 469.9h0M490.2 490.2h0M507.1 472.6h0M482.4 482.2h0M502.5 466.0h0M493.6 500.7h0M493.5 501.4h0M490.1 476.0h0M495.5 490.3h0M501.5 482.2h0M489.7 492.9h0M515.9 462.5h0M499.9 470.3h0M510.8 483.8h0M495.0 490.9h0M488.7 495.5h0M482.9 480.2h0M482.0 475.7h0M483.3 481.9h0M486.4 479.4h0M487.1 458.4h0M527.1 462.0h0M495.5 469.3h0M483.8 489.8h0M492.9 486.1h0M461.7 477.4h0M538.2 460.0h0M483.9 484.0h0M474.8 499.4h0M492.1 489.8h0M498.0 488.5h0M509.6 491.5h0M492.5 495.7h0M491.5 481.2h0M472.8 482.7h0M492.7 479.0h0M467.0 492.9h0M494.8 468.8h0M518.8 505.1h0M491.1 472.5h0M511.0 477.2h0M504.8 470.0h0M523.1 460.5h0M508.9 453.5h0M499.8 488.0h0M500.2 480.2h0M503.1 486.3h0M482.4 492.8h0M497.6 479.0h0M496.4 485.9h0M491.1 491.8h0M500.6 472.4h0M489.7 462.6h0M491.0 470.2h0M503.1 478.4h0M507.6 482.8h0M521.5 465.7h0M500.7 495.7h0M477.6 483.0h0M494.5 482.1h0M491.6 491.4h0M499.7 479.5h0M494.6 493.5h0M516.6 477.4h0M498.3 467.8h0M500.7 475.8h0M504.3 486.4h0M495.6 495.0h0M505.5 471.9h0M514.7 490.7h0M483.6 486.1h0M489.1 493.2h0M505.8 480.7h0M505.2 478.6h0M488.5 489.4h0M494.9 458.9h0M514.2 473.5h0M488.8 498.3h0M505.5 472.4h0M478.9 482.0h0M497.1 476.1h0M463.3 497.8h0M502.7 480.3h0M516.0 483.1h0M511.0 483.6h0M497.2 477.4h0M509.0 474.2h0M514.2 457.7h0M494.1 487.4h0M519.8 480.5h0M471.0 503.3h0M496.8 478.0h0M496.6 493.3h0M483.2 488.9h0M488.4 479.8h0M501.0 476.2h0M496.6 502.7h0M492.4 476.1h0M481.9 483.1h0M500.4 477.2h0M480.6 486.5h0M494.9 471.5h0M492.0 481.1h0M518.2 476.7h0M478.0 489.6h0M483.9 477.9h0M491.5 475.9h0M511.8 492.9h0M478.5 480.9h0M495.9 483.4h0M489.8 491.9h0M486.5 482.8h0M498.2 472.9h0M492.6 485.6h0M477.9 483.3h0M484.8 510.3h0M516.7 476.9h0M493.1 480.4h0M491.5 491.7h0M489.1 475.6h0M511.0 476.2h0M509.8 474.9h0M502.6 456.7h0M531.7 455.4h0M485.6 481.6h0M488.6 474.0h0M510.8 480.9h0M499.2 469.8h0M521.9 466.9h0M493.8 502.1h0M493.9 473.2h0M482.7 497.2h0M478.7 491.3h0M524.0 457.4h0M520.2 462.2h0M503.9 467.4h0M514.8 497.9h0M496.3 482.2h0M507.4 475.7h0M506.9 496.8h0M498.3 480.3h0M485.5 486.9h0M506.2 486.5h0M495.7 478.8h0M510.3 475.8h0M523.3 473.6h0M505.4 462.4h0M506.7 465.5h0M492.1 488.2h0M522.9 484.0h0M488.0 487.9h0M491.3 490.8h0M497.2 491.7h0M510.9 479.0h0M497.1 484.0h0M504.4 475.1h0M503.0 487.7h0M472.8 497.8h0M501.0 487.9h0M528.5 462.1h0M499.7 494.8h0M489.0 469.5h0M504.2 492.3h0M504.5 482.0h0M481.7 490.5h0M514.3 465.1h0M492.0 484.2h0M511.8 479.3h0M508.8 468.7h0M510.8 477.3h0M509.5 486.1h0M502.5 482.9h0M485.9 487.6h0M476.5 494.0h0M508.2 478.0h0M506.3 472.0h0M499.9 474.2h0M477.1 473.3h0M499.9 475.1h0M499.7 478.6h0M511.1 471.3h0M495.6 479.5h0M491.3 477.3h0M480.9 484.8h0M491.2 474.6h0M484.6 484.9h0M502.1 487.9h0M497.8 475.9h0M498.8 491.9h0M507.4 481.9h0M507.5 467.2h0M488.7 487.1h0M520.0 469.0h0M504.8 463.9h0M530.7 473.5h0M490.9 461.4h0M506.4 485.7h0M489.3 480.0h0M490.3 476.8h0M487.3 478.1h0M484.7 455.9h0M502.4 476.8h0M495.8 506.8h0M490.0 491.3h0M489.5 467.6h0M500.1 486.2h0M496.5 481.0h0M502.3 469.9h0M498.9 499.7h0M502.8 482.1h0M491.9 462.8h0M500.8 475.6h0M486.7 486.8h0M503.2 467.0h0M495.5 474.4h0M519.6 468.3h0M511.2 485.7h0M491.7 488.2h0M501.2 485.3h0M497.1 479.8h0M489.7 478.6h0M503.0 476.3h0M479.0 490.1h0M498.5 496.5h0M494.5 482.6h0M482.2 482.3h0M521.7 476.1h0M501.6 476.8h0M524.4 474.7h0M507.8 480.9h0M498.2 473.4h0M498.2 481.3h0M494.3 495.6h0M501.8 483.0h0M495.3 482.1h0M510.9 476.2h0M502.9 479.0h0M501.4 478.4h0M485.9 495.3h0M508.9 485.1h0M495.1 482.5h0M490.9 487.0h0M477.5 494.8h0M495.3 492.4h0M507.8 469.0h0M497.5 478.5h0M497.9 479.8h0M483.6 483.1h0M503.4 473.6h0M492.7 477.4h0M514.2 465.6h0M482.2 485.8h0M500.7 478.9h0M476.3 479.3h0M508.8 483.8h0M500.4 497.7h0M501.9 484.7h0M491.7 494.9h0M487.5 477.4h0M495.7 480.7h0M491.8 497.2h0M477.8 491.6h0M523.1 467.0h0M491.8 481.1h0M492.1 478.1h0M498.1 487.4h0M505.7 483.2h0M517.0 486.9h0M463.5 474.2h0M498.4 470.9h0M501.8 470.3h0M487.0 488.8h0M488.2 487.2h0M531.2 458.2h0M507.6 450.6h0M485.2 479.0h0M522.9 474.7h0M496.0 473.0h0M511.5 472.2h0M506.9 479.4h0M521.1 465.7h0M509.1 462.0h0M492.2 484.5h0M485.7 506.5h0M504.2 481.2h0M464.6 467.9h0M501.7 477.3h0M494.8 473.9h0M487.3 481.7h0M485.6 491.5h0M484.6 483.2h0M499.0 472.6h0M505.3 482.7h0M514.8 465.9h0M483.6 477.3h0M504.5 480.1h0M512.0 478.3h0M504.5 479.6h0M508.8 471.9h0M482.0 475.8h0M499.2 469.5h0M508.5 468.5h0M498.1 477.6h0M486.1 462.3h0M499.1 499.8h0M489.7 484.0h0M508.4 503.2h0M507.8 474.8h0M496.2 483.8h0M502.9 482.1h0M506.5 474.3h0M489.6 493.2h0M517.9 475.3h0M502.7 478.4h0M514.3 455.1h0M524.0 479.6h0M503.3 500.2h0M498.5 480.8h0M476.5 492.9h0M498.4 477.2h0M506.9 494.7h0M488.7 494.5h0M506.3 504.7h0M494.0 497.1h0M493.5 482.2h0M514.3 493.7h0M490.2 482.2h0M524.9 467.5h0M483.2 485.2h0M486.0 485.2h0M496.7 476.8h0M517.7 466.5h0M484.4 479.8h0M506.4 464.9h0M541.5 507.7h0M540.2 462.6h0M459.3 521.0h0M472.6 521.0h0M495.1 518.5h0" stroke="#1a699c" stroke-width="2.1" stroke-linecap="round" fill="none"/>
<rect x="457.50" y="434.40" width="56.50" height="8.90" fill="#fff" stroke="#999" stroke-width="0.45"/>
<line x1="458.50" y1="437.00" x2="461.50" y2="437.00" stroke="#3fa0e0" stroke-width="0.8"/>
<circle cx="460.00" cy="441.00" r="0.9" fill="#35a835"/>
<text x="462.70" y="438.10" class="lg" textLength="51.2" lengthAdjust="spacingAndGlyphs">Regression (y = 0.2333x + 1.3183)</text>
<text x="462.70" y="442.30" class="lg" textLength="44.9" lengthAdjust="spacingAndGlyphs">r = 0.279, p-value = 3.46e-21</text>
</g>
<text x="430.55" y="412.30" class="lab">I</text>
<rect x="17.30" y="568.40" width="120.20" height="126.00" fill="url(#fg)" stroke="#8eabd2" stroke-width="0.9" class="fr"/>
<g class="pl">
<rect x="32.10" y="585.60" width="103.60" height="94.00" fill="#fff"/>
<path d="M32.10 585.60H135.70M32.10 588.73H135.70M32.10 591.87H135.70M32.10 595.00H135.70M32.10 598.13H135.70M32.10 601.27H135.70M32.10 604.40H135.70M32.10 607.53H135.70M32.10 610.67H135.70M32.10 613.80H135.70M32.10 616.93H135.70M32.10 620.07H135.70M32.10 623.20H135.70M32.10 626.33H135.70M32.10 629.47H135.70M32.10 632.60H135.70M32.10 635.73H135.70M32.10 638.87H135.70M32.10 642.00H135.70M32.10 645.13H135.70M32.10 648.27H135.70M32.10 651.40H135.70M32.10 654.53H135.70M32.10 657.67H135.70M32.10 660.80H135.70M32.10 663.93H135.70M32.10 667.07H135.70M32.10 670.20H135.70M32.10 673.33H135.70M32.10 676.47H135.70M32.10 679.60H135.70" stroke="#dcdcdc" stroke-width="0.5" fill="none"/>
<rect x="32.10" y="585.60" width="103.60" height="94.00" stroke="#c4c8d0" stroke-width="0.6" fill="none"/>
<path d="M32.10 679.60H135.70" stroke="#b0c0d8" stroke-width="0.7" fill="none"/>
<text x="77.60" y="574.00" text-anchor="middle" class="tt" textLength="72.0" lengthAdjust="spacingAndGlyphs">LINC01140 vs. EMCN, 1104 samples (BRCA)</text>
<text x="78.40" y="579.60" text-anchor="middle" class="st">Data Source: starBase v3.0 project</text>
<path d="M131.00 572.20h3.4M131.00 573.30h3.4M131.00 574.40h3.4" stroke="#555" stroke-width="0.8"/>
<text x="32.10" y="684.30" text-anchor="middle" class="tk">-8</text>
<text x="49.37" y="684.30" text-anchor="middle" class="tk">-6</text>
<text x="66.63" y="684.30" text-anchor="middle" class="tk">-4</text>
<text x="83.90" y="684.30" text-anchor="middle" class="tk">-2</text>
<text x="101.17" y="684.30" text-anchor="middle" class="tk">0</text>
<text x="118.43" y="684.30" text-anchor="middle" class="tk">2</text>
<text x="134.20" y="684.30" text-anchor="middle" class="tk">4</text>
<text x="29.50" y="586.70" text-anchor="end" class="tk">6</text>
<text x="29.50" y="597.14" text-anchor="end" class="tk">5</text>
<text x="29.50" y="607.59" text-anchor="end" class="tk">4</text>
<text x="29.50" y="618.03" text-anchor="end" class="tk">3</text>
<text x="29.50" y="628.48" text-anchor="end" class="tk">2</text>
<text x="29.50" y="638.92" text-anchor="end" class="tk">1</text>
<text x="29.50" y="649.37" text-anchor="end" class="tk">0</text>
<text x="29.50" y="659.81" text-anchor="end" class="tk">-1</text>
<text x="29.50" y="670.26" text-anchor="end" class="tk">-2</text>
<text x="29.50" y="680.70" text-anchor="end" class="tk">-3</text>
<text x="83.90" y="690.10" text-anchor="middle" class="ax">LINC01140, Expression level: log2(FPKM+0.01)</text>
<text transform="translate(23.60 632.60) rotate(-90)" text-anchor="middle" class="ax">EMCN, Expression level: log2(FPKM+0.01)</text>
<line x1="47.58" y1="648.43" x2="121.46" y2="616.38" stroke="#e8484a" stroke-width="0.7"/>
<path d="M71.6 636.1h0M76.2 634.9h0M90.8 625.5h0M81.9 631.2h0M88.8 620.5h0M72.5 641.2h0M78.2 624.9h0M91.2 611.0h0M83.2 629.0h0M90.9 619.0h0M70.3 637.6h0M80.2 618.2h0M81.1 634.3h0M76.7 640.7h0M72.8 629.5h0M72.8 641.4h0M85.4 632.0h0M83.9 621.3h0M96.2 621.8h0M99.4 604.5h0M85.0 621.7h0M72.2 635.0h0M70.8 641.4h0M76.0 628.8h0M73.1 636.1h0M64.5 646.8h0M93.5 632.8h0M84.4 629.7h0M98.4 615.0h0M93.3 623.3h0M91.1 623.9h0M66.1 645.4h0M84.0 629.4h0M70.9 648.6h0M93.3 627.1h0M83.6 620.9h0M77.4 646.0h0M94.8 616.9h0M83.9 617.0h0M71.3 647.5h0M79.6 629.3h0M81.4 633.2h0M84.2 639.8h0M100.0 606.2h0M85.8 623.1h0M83.7 647.2h0M85.0 624.8h0M100.7 617.8h0M83.1 632.3h0M78.4 629.9h0M81.4 625.0h0M83.7 633.7h0M83.9 637.4h0M75.4 624.8h0M104.6 614.7h0M72.0 642.3h0M91.4 609.6h0M75.0 637.6h0M81.0 628.2h0M86.3 622.6h0M83.1 630.3h0M93.6 615.9h0M69.6 650.5h0M72.3 647.6h0M78.1 626.9h0M72.3 641.8h0M81.7 627.4h0M77.2 638.6h0M95.3 610.1h0M77.6 638.4h0M84.0 619.9h0M73.6 631.9h0M81.0 622.0h0M79.4 645.7h0M74.8 630.9h0M104.6 609.9h0M74.5 630.5h0M80.3 632.1h0M89.7 625.2h0M80.9 639.1h0M83.1 629.1h0M82.8 641.4h0M75.7 630.9h0M71.5 627.8h0M83.4 631.2h0M82.4 640.2h0M85.9 621.5h0M61.0 628.5h0M72.9 636.1h0M90.7 618.9h0M78.0 629.7h0M76.6 625.5h0M85.1 624.7h0M72.3 646.7h0M77.2 638.6h0M77.6 636.1h0M73.0 628.3h0M83.8 628.6h0M85.7 617.9h0M98.8 634.0h0M82.5 623.7h0M70.6 642.9h0M77.4 635.6h0M79.3 622.8h0M77.9 635.3h0M78.8 640.0h0M71.0 628.4h0M76.8 623.7h0M61.2 631.2h0M89.2 626.7h0M77.6 624.2h0M75.2 639.4h0M90.7 623.6h0M85.1 627.4h0M99.4 617.5h0M68.2 640.6h0M79.8 628.0h0M72.6 637.7h0M84.6 616.6h0M86.0 631.2h0M75.7 633.4h0M90.7 617.3h0M83.7 636.5h0M95.1 630.5h0M87.1 610.3h0M81.2 628.7h0M89.1 613.3h0M66.4 636.6h0M89.4 618.3h0M76.2 635.7h0M90.5 623.2h0M78.1 639.3h0M87.2 624.3h0M61.0 654.0h0M79.6 638.5h0M77.0 617.3h0M102.0 605.8h0M75.4 637.1h0M96.8 623.8h0M82.3 634.4h0M80.3 626.6h0M80.2 625.9h0M85.3 625.6h0M77.3 635.0h0M79.9 644.3h0M102.1 611.0h0M100.5 608.4h0M96.8 618.5h0M75.2 635.0h0M51.3 655.6h0M85.9 624.7h0M82.5 651.0h0M86.8 641.1h0M80.4 621.8h0M83.1 636.3h0M84.2 637.1h0M92.8 628.3h0M82.0 634.8h0M69.8 651.7h0M76.1 646.5h0M79.2 634.1h0M77.8 654.3h0M82.3 619.9h0M78.8 632.7h0M90.2 629.6h0M72.2 636.0h0M82.2 622.9h0M74.2 622.4h0M69.6 625.7h0M78.8 630.0h0M94.3 623.8h0M88.1 609.8h0M89.9 615.5h0M68.2 641.5h0M71.5 639.0h0M89.3 621.8h0M77.9 619.6h0M87.3 628.2h0M82.9 625.3h0M79.1 626.7h0M81.8 631.2h0M87.6 617.8h0M72.2 647.0h0M83.8 640.6h0M81.1 617.7h0M81.3 618.9h0M72.3 632.8h0M99.4 622.9h0M85.4 615.6h0M82.6 629.7h0M89.3 633.0h0M77.9 614.0h0M82.0 633.7h0M92.3 618.4h0M90.1 618.7h0M63.4 646.6h0M71.9 635.9h0M84.0 634.3h0M95.2 627.8h0M75.7 640.1h0M84.9 639.8h0M86.7 627.2h0M85.7 629.1h0M74.8 634.8h0M80.5 630.6h0M84.3 631.9h0M72.3 647.8h0M89.0 627.5h0M70.8 641.3h0M71.6 646.5h0M83.3 636.2h0M59.3 656.5h0M77.8 641.7h0M76.7 634.6h0M83.6 632.0h0M82.3 624.6h0M88.1 626.3h0M91.5 619.7h0M93.3 618.0h0M86.9 626.4h0M74.3 634.6h0M65.2 641.1h0M65.2 653.3h0M71.7 641.8h0M81.6 622.2h0M65.6 645.5h0M68.8 660.9h0M87.2 614.4h0M74.1 632.2h0M87.8 622.6h0M83.1 629.4h0M85.4 634.1h0M70.8 639.3h0M89.2 616.3h0M103.6 601.9h0M97.8 619.7h0M77.6 631.7h0M76.4 629.6h0M74.7 641.9h0M97.6 602.6h0M92.9 616.4h0M62.0 650.5h0M74.2 635.6h0M76.9 639.8h0M61.1 640.4h0M67.9 657.5h0M69.6 640.5h0M94.6 618.4h0M73.7 641.9h0M89.5 627.8h0M58.3 650.0h0M73.6 638.5h0M98.3 616.1h0M62.4 642.9h0M71.9 660.0h0M71.5 634.4h0M81.7 627.5h0M80.4 640.5h0M77.4 632.4h0M80.2 629.8h0M62.7 649.9h0M77.1 633.0h0M87.6 628.2h0M89.7 622.2h0M86.9 609.6h0M69.2 643.0h0M78.3 640.2h0M80.4 633.5h0M91.1 621.3h0M80.5 627.0h0M68.3 627.9h0M97.9 617.5h0M69.6 644.0h0M75.7 635.8h0M98.4 623.0h0M79.0 622.0h0M68.9 643.4h0M85.6 625.0h0M73.3 630.4h0M72.2 632.3h0M74.7 646.1h0M81.0 642.7h0M70.2 648.6h0M80.6 638.8h0M97.1 615.3h0M74.4 629.4h0M76.6 631.3h0M84.0 624.2h0M75.5 632.4h0M86.1 619.7h0M66.1 644.3h0M88.8 627.9h0M65.2 644.7h0M94.4 608.1h0M82.0 633.2h0M71.0 632.5h0M80.9 625.6h0M82.1 611.4h0M87.0 613.9h0M67.7 619.9h0M89.6 620.1h0M83.2 619.1h0M74.9 640.0h0M91.4 630.1h0M84.4 635.4h0M83.9 630.8h0M69.1 631.4h0M74.3 634.5h0M79.0 636.4h0M93.3 624.7h0M100.2 606.6h0M78.9 643.8h0M91.2 610.0h0M73.8 634.5h0M94.3 612.0h0M65.3 647.6h0M61.6 650.1h0M90.0 609.8h0M73.1 642.7h0M82.3 628.0h0M70.2 640.5h0M64.5 650.1h0M61.1 654.3h0M90.1 608.5h0M98.6 635.7h0M81.5 625.5h0M83.5 625.1h0M89.6 628.1h0M101.5 613.7h0M86.2 622.5h0M94.9 611.4h0M91.5 624.6h0M72.8 650.6h0M78.4 626.3h0M84.9 637.4h0M78.6 632.6h0M93.7 623.8h0M78.1 634.5h0M85.6 625.1h0M79.6 624.9h0M48.1 659.0h0M76.0 642.1h0M83.6 638.2h0M81.9 632.4h0M71.2 640.6h0M95.2 620.1h0M81.3 635.0h0M53.6 654.5h0M72.9 631.3h0M82.1 623.0h0M81.8 631.2h0M88.1 633.2h0M82.4 648.3h0M91.0 615.2h0M77.1 632.5h0M83.1 629.7h0M78.4 633.3h0M74.8 638.9h0M72.5 640.6h0M91.5 622.2h0M60.9 654.1h0M65.4 643.3h0M94.1 604.3h0M88.7 626.2h0M84.1 630.2h0M71.4 635.6h0M77.6 635.2h0M69.1 643.9h0M82.3 633.0h0M105.3 603.1h0M79.5 640.7h0M68.2 634.1h0M94.8 612.6h0M66.8 644.6h0M81.8 632.3h0M56.9 654.2h0M92.2 636.5h0M71.0 641.2h0M84.8 624.3h0M70.6 642.8h0M81.1 620.9h0M70.5 641.3h0M93.5 637.8h0M80.1 618.1h0M78.5 633.7h0M78.3 630.5h0M80.1 626.1h0M76.3 628.0h0M79.5 615.2h0M76.7 646.1h0M81.2 625.2h0M81.9 629.8h0M92.0 622.3h0M77.4 648.0h0M73.4 640.1h0M93.8 620.3h0M99.6 610.2h0M86.9 633.7h0M91.2 631.3h0M95.6 622.8h0M97.6 603.7h0M95.3 625.8h0M75.3 640.8h0M90.8 626.6h0M90.6 621.0h0M90.4 633.6h0M81.1 629.7h0M87.3 615.4h0M60.0 642.2h0M58.1 652.2h0M87.2 625.7h0M79.0 637.4h0M77.2 622.3h0M84.5 633.3h0M65.5 635.9h0M76.5 641.9h0M84.5 624.3h0M72.3 640.8h0M77.5 645.2h0M90.3 628.4h0M66.8 651.7h0M78.4 631.9h0M89.5 620.5h0M82.0 623.7h0M81.2 635.6h0M71.9 639.2h0M72.4 644.9h0M85.4 633.4h0M91.4 622.8h0M76.8 637.4h0M87.3 623.7h0M87.7 621.8h0M77.5 624.3h0M72.8 645.4h0M87.9 618.9h0M68.0 643.9h0M83.1 630.1h0M74.7 629.4h0M83.2 633.7h0M72.6 634.2h0M70.9 638.4h0M77.1 642.0h0M76.6 631.6h0M82.3 626.8h0M85.2 626.5h0M81.0 623.5h0M85.1 620.1h0M76.6 635.7h0M78.6 629.0h0M68.3 633.9h0M90.1 630.8h0M73.9 624.8h0M90.6 616.1h0M105.2 616.6h0M94.2 620.4h0M91.4 623.1h0M87.3 623.7h0M85.7 626.2h0M94.5 622.3h0M49.5 647.9h0M78.1 641.2h0M77.9 624.9h0M79.6 637.7h0M76.6 636.3h0M84.4 613.3h0M72.0 641.7h0M80.4 631.6h0M97.4 615.1h0M71.9 640.3h0M82.2 631.9h0M80.9 628.1h0M73.2 651.2h0M87.1 620.7h0M76.5 634.8h0M77.0 634.3h0M57.7 655.6h0M73.2 636.4h0M86.6 630.6h0M84.0 638.5h0M99.1 604.7h0M83.6 629.5h0M104.0 604.8h0M89.3 614.8h0M86.1 621.1h0M82.9 618.5h0M77.1 628.5h0M79.5 619.7h0M89.3 625.5h0M81.2 610.6h0M69.7 642.5h0M88.5 618.9h0M96.3 607.2h0M103.3 607.4h0M73.1 628.5h0M78.6 649.0h0M78.3 634.7h0M90.2 615.9h0M69.8 639.5h0M75.8 638.9h0M76.4 637.2h0M94.5 611.3h0M80.2 639.0h0M83.3 622.1h0M69.7 636.6h0M83.8 633.6h0M86.5 638.9h0M93.3 613.6h0M83.3 627.6h0M87.9 624.1h0M62.9 644.4h0M84.3 621.7h0M67.9 652.2h0M79.7 639.0h0M96.0 630.9h0M84.1 631.7h0M71.6 632.1h0M79.4 639.6h0M78.3 633.2h0M82.1 621.0h0M93.3 612.1h0M73.9 635.8h0M60.6 643.5h0M80.6 635.9h0M71.5 638.6h0M69.8 631.7h0M80.5 630.1h0M86.8 625.2h0M79.2 640.9h0M67.6 654.1h0M78.5 635.3h0M75.5 643.0h0M92.9 605.2h0M70.6 641.6h0M87.1 633.4h0M94.4 618.8h0M59.9 640.1h0M93.8 624.3h0M86.5 635.1h0M95.4 626.4h0M98.7 611.0h0M55.4 640.3h0M73.9 640.6h0M90.6 619.0h0M74.8 635.2h0M73.5 623.4h0M69.9 639.9h0M67.7 643.2h0M82.3 639.8h0M61.9 636.2h0M85.7 622.2h0M88.4 622.8h0M93.8 616.1h0M78.3 631.4h0M66.2 643.3h0M104.9 603.4h0M72.6 627.9h0M71.9 630.1h0M84.8 630.3h0M87.7 619.2h0M79.2 626.7h0M84.5 625.8h0M86.4 625.0h0M95.8 623.2h0M70.1 638.8h0M75.4 639.4h0M69.1 631.8h0M90.1 619.1h0M67.4 645.5h0M73.9 639.9h0M75.5 640.5h0M79.4 632.0h0M94.0 618.7h0M87.8 617.5h0M84.8 615.8h0M81.6 627.1h0M86.0 620.5h0M93.4 608.8h0M70.9 640.8h0M84.2 636.5h0M82.5 647.4h0M105.1 617.5h0M87.5 629.6h0M72.3 635.3h0M78.6 628.0h0M73.7 639.1h0M70.3 641.0h0M90.9 622.4h0M82.3 631.5h0M85.7 631.3h0M72.0 642.6h0M80.8 630.3h0M74.0 633.3h0M92.7 615.4h0M91.8 627.2h0M86.2 634.5h0M78.9 629.2h0M93.6 618.2h0M79.0 635.4h0M75.7 632.9h0M80.1 632.7h0M93.0 621.3h0M60.1 645.8h0M85.7 632.0h0M66.3 640.6h0M62.1 659.3h0M69.6 637.4h0M77.6 620.4h0M89.1 615.5h0M78.4 642.4h0M86.2 620.0h0M88.8 617.3h0M69.8 642.3h0M76.2 633.7h0M75.6 641.0h0M91.4 609.8h0M86.4 634.1h0M91.9 624.5h0M85.7 620.4h0M85.2 622.9h0M76.2 622.8h0M68.5 642.5h0M90.2 635.2h0M98.3 607.9h0M74.0 645.6h0M67.0 645.4h0M99.9 624.2h0M77.2 617.8h0M77.1 643.7h0M71.1 638.2h0M90.3 626.0h0M80.5 619.5h0M74.1 631.0h0M77.7 640.7h0M81.4 626.5h0M74.4 642.0h0M91.0 615.8h0M76.7 637.5h0M80.8 643.7h0M104.8 616.9h0M94.3 620.7h0M82.4 625.4h0M89.3 634.2h0M77.3 626.0h0M62.5 646.9h0M99.2 606.5h0M80.8 622.1h0M76.5 628.1h0M70.9 637.8h0M88.9 610.9h0M93.3 635.0h0M94.0 619.2h0M75.0 657.4h0M90.7 606.2h0M65.0 646.0h0M75.4 645.4h0M78.4 632.3h0M90.6 620.7h0M59.9 646.8h0M85.2 621.1h0M78.5 631.5h0M79.4 627.5h0M75.1 635.8h0M80.1 642.0h0M92.3 634.1h0M88.7 632.4h0M74.8 618.5h0M83.0 623.3h0M77.5 625.9h0M81.2 647.5h0M97.0 630.1h0M58.9 656.3h0M82.6 628.5h0M76.9 628.5h0M73.0 651.0h0M59.3 655.3h0M70.7 642.3h0M78.6 635.7h0M82.2 632.1h0M73.7 636.2h0M77.4 628.1h0M88.9 633.4h0M70.7 640.0h0M67.2 653.3h0M85.6 616.3h0M74.5 635.7h0M83.9 629.8h0M74.0 630.8h0M71.1 634.0h0M71.0 636.2h0M84.0 630.4h0M74.2 631.6h0M75.9 640.6h0M86.3 618.3h0M84.1 626.6h0M70.0 647.4h0M86.0 642.5h0M90.4 625.9h0M78.5 640.0h0M97.5 606.6h0M55.4 653.1h0M97.6 618.6h0M92.6 609.5h0M65.3 656.1h0M71.5 638.9h0M76.1 646.6h0M72.5 637.3h0M91.4 616.7h0M78.5 634.6h0M70.0 631.0h0M71.8 641.9h0M90.7 623.1h0M78.1 630.0h0M75.4 644.2h0M79.2 624.8h0M69.8 659.7h0M89.4 613.7h0M81.2 634.7h0M59.2 656.6h0M76.8 629.2h0M86.8 625.2h0M82.2 631.2h0M101.2 612.9h0M75.8 647.1h0M85.6 610.3h0M78.8 638.5h0M91.4 625.1h0M87.9 613.6h0M75.5 644.9h0M86.0 617.3h0M74.9 640.1h0M87.4 626.5h0M67.6 660.1h0M84.5 620.8h0M74.9 628.4h0M61.3 654.1h0M85.1 623.2h0M93.4 620.1h0M70.5 641.7h0M87.5 617.6h0M85.0 637.9h0M60.3 648.0h0M71.3 641.3h0M76.4 636.0h0M71.1 631.5h0M91.1 610.9h0M75.5 640.4h0M87.0 627.3h0M85.5 634.9h0M74.1 627.3h0M69.5 649.1h0M76.4 640.8h0M91.3 622.6h0M87.3 635.9h0M83.6 631.1h0M89.9 619.0h0M66.5 649.4h0M75.8 635.5h0M85.7 632.9h0M70.9 637.2h0M86.5 630.7h0M87.0 616.7h0M59.4 653.7h0M85.2 629.0h0M92.2 617.3h0M84.6 638.5h0M79.1 623.5h0M85.3 629.0h0M81.1 637.9h0M70.8 640.1h0M103.1 612.3h0M80.7 630.9h0M89.8 620.7h0M97.1 619.4h0M84.3 626.8h0M92.1 610.1h0M100.9 617.9h0M94.7 607.7h0M75.9 635.8h0M70.1 637.5h0M102.3 618.5h0M80.3 626.8h0M79.5 627.1h0M76.5 644.0h0M90.8 621.5h0M98.8 622.3h0M63.0 657.0h0M82.4 642.0h0M95.4 613.8h0M87.2 613.6h0M85.3 617.1h0M80.5 628.4h0M78.1 622.4h0M81.3 633.0h0M78.7 633.6h0M64.9 652.9h0M91.6 619.3h0M86.1 628.9h0M75.7 631.7h0M69.9 646.4h0M81.6 625.7h0M83.5 630.0h0M74.5 635.0h0M81.8 624.0h0M89.8 631.4h0M77.6 635.3h0M75.2 647.7h0M99.7 625.7h0M70.8 638.9h0M80.6 638.1h0M63.8 642.9h0M101.3 616.7h0M71.2 639.5h0M80.4 622.0h0M98.9 614.8h0M88.4 625.9h0M86.4 644.7h0M80.0 623.1h0M72.6 640.9h0M71.5 633.1h0M76.5 632.6h0M98.9 658.1h0M68.5 639.3h0M72.0 643.3h0M71.9 636.9h0M79.1 650.5h0M74.5 649.4h0M75.1 655.8h0M94.8 632.4h0M67.1 636.4h0M64.3 658.0h0M69.5 649.4h0M77.6 633.5h0M91.8 629.3h0M83.8 641.8h0M76.7 648.8h0M74.7 669.1h0M90.2 648.3h0M75.7 643.0h0M78.2 636.0h0M88.1 640.8h0M70.1 657.4h0M72.9 646.9h0M73.7 627.9h0M85.0 639.7h0M87.8 651.4h0M85.0 655.9h0M75.7 651.4h0M88.4 645.8h0M56.6 638.3h0M101.2 641.6h0M75.2 649.9h0M77.7 644.7h0M76.8 654.0h0M91.0 638.0h0M76.8 633.8h0M101.5 629.5h0M90.2 647.4h0M90.1 646.4h0M72.7 651.7h0M77.9 638.0h0M89.5 640.8h0M56.6 658.1h0M89.5 654.6h0M89.7 644.9h0M70.2 630.9h0M103.1 655.5h0M92.5 649.9h0M74.6 630.1h0M76.7 650.0h0M69.3 658.0h0M83.7 658.2h0M70.3 651.9h0M73.8 647.9h0M108.5 636.9h0M88.8 644.8h0M81.3 649.0h0M75.4 634.7h0M65.1 642.2h0M78.3 644.6h0M94.2 628.4h0M87.6 649.4h0M101.7 628.1h0M62.7 640.0h0M97.3 639.1h0M84.3 655.9h0M83.0 650.4h0M96.4 641.5h0M96.4 649.8h0M86.6 628.8h0M69.8 629.6h0M76.1 637.6h0M83.2 649.3h0M87.2 634.1h0M84.2 646.3h0M70.3 655.5h0M85.1 657.5h0M99.5 648.1h0M84.1 647.4h0M55.2 644.6h0M77.8 641.0h0M77.3 650.6h0M84.8 659.5h0M84.1 649.7h0M94.8 639.9h0M75.6 650.8h0M86.9 660.5h0M96.5 635.9h0M72.6 644.5h0M80.3 647.1h0M68.8 662.8h0M73.4 644.7h0M86.5 658.9h0M108.3 643.6h0M105.4 651.1h0M83.6 647.1h0M77.8 644.4h0M84.7 655.3h0M72.8 641.1h0M72.5 655.5h0M66.9 657.6h0M56.0 650.6h0M62.1 645.7h0M75.3 647.6h0M87.3 649.8h0M89.4 659.5h0M100.5 644.8h0M84.2 632.9h0M81.7 640.3h0M84.6 636.9h0M78.0 645.8h0M62.5 638.6h0M96.3 647.9h0M89.3 662.2h0M82.3 643.1h0M87.1 641.8h0M79.7 644.2h0M68.2 648.2h0M75.9 642.3h0M60.7 666.2h0M81.4 637.1h0M90.0 654.3h0M74.4 646.2h0M90.6 649.4h0M65.6 658.5h0M76.2 647.2h0M77.6 665.9h0M62.4 651.0h0M86.7 645.3h0M92.8 650.7h0M94.0 634.5h0M84.1 647.2h0M74.8 643.7h0M80.3 647.0h0M75.6 659.2h0M85.8 638.6h0M73.5 654.6h0M78.6 642.9h0M80.2 654.2h0M78.2 651.6h0M76.5 666.7h0M78.3 653.6h0M89.8 643.8h0M67.4 648.5h0M91.0 644.9h0M86.5 642.5h0M101.7 644.7h0M76.7 641.0h0M85.4 650.1h0M79.6 647.0h0M88.5 655.1h0M84.3 645.0h0M73.9 643.0h0M87.0 645.5h0M97.2 646.3h0M76.1 654.5h0M73.5 636.2h0M88.1 652.2h0M83.9 639.7h0M80.2 652.5h0M80.8 635.2h0M77.4 645.5h0M84.2 645.8h0M91.3 638.3h0M90.2 654.8h0M79.7 652.7h0M81.7 643.8h0M84.4 634.9h0M97.6 645.1h0M81.0 644.7h0M77.9 649.5h0M82.9 639.6h0M78.6 635.7h0M93.8 639.5h0M82.8 628.6h0M92.3 651.3h0M96.5 644.8h0M91.9 670.9h0M99.4 640.6h0M72.0 646.2h0M85.8 635.1h0M120.2 647.2h0M114.0 648.4h0M47.6 662.7h0M56.3 672.7h0M83.9 672.7h0M48.8 656.4h0" stroke="#1a699c" stroke-width="2.1" stroke-linecap="round" fill="none"/>
<rect x="33.50" y="585.70" width="56.50" height="8.90" fill="#fff" stroke="#999" stroke-width="0.45"/>
<line x1="34.50" y1="588.30" x2="37.50" y2="588.30" stroke="#3fa0e0" stroke-width="0.8"/>
<circle cx="36.00" cy="592.30" r="0.9" fill="#35a835"/>
<text x="38.70" y="589.40" class="lg" textLength="51.2" lengthAdjust="spacingAndGlyphs">Regression (y = 0.3613x + 2.2946)</text>
<text x="38.70" y="593.60" class="lg" textLength="44.9" lengthAdjust="spacingAndGlyphs">r = 0.405, p-value = 9.13e-45</text>
</g>
<text x="8.15" y="563.70" class="lab">J</text>
<rect x="158.30" y="569.00" width="120.20" height="126.20" fill="url(#fg)" stroke="#8eabd2" stroke-width="0.9" class="fr"/>
<g class="pl">
<rect x="173.10" y="586.20" width="103.60" height="94.20" fill="#fff"/>
<path d="M173.10 586.20H276.70M173.10 589.34H276.70M173.10 592.48H276.70M173.10 595.62H276.70M173.10 598.76H276.70M173.10 601.90H276.70M173.10 605.04H276.70M173.10 608.18H276.70M173.10 611.32H276.70M173.10 614.46H276.70M173.10 617.60H276.70M173.10 620.74H276.70M173.10 623.88H276.70M173.10 627.02H276.70M173.10 630.16H276.70M173.10 633.30H276.70M173.10 636.44H276.70M173.10 639.58H276.70M173.10 642.72H276.70M173.10 645.86H276.70M173.10 649.00H276.70M173.10 652.14H276.70M173.10 655.28H276.70M173.10 658.42H276.70M173.10 661.56H276.70M173.10 664.70H276.70M173.10 667.84H276.70M173.10 670.98H276.70M173.10 674.12H276.70M173.10 677.26H276.70M173.10 680.40H276.70" stroke="#dcdcdc" stroke-width="0.5" fill="none"/>
<rect x="173.10" y="586.20" width="103.60" height="94.20" stroke="#c4c8d0" stroke-width="0.6" fill="none"/>
<path d="M173.10 680.40H276.70" stroke="#b0c0d8" stroke-width="0.7" fill="none"/>
<text x="218.60" y="574.60" text-anchor="middle" class="tt" textLength="73.3" lengthAdjust="spacingAndGlyphs">SGMS1-AS1 vs. EMCN, 1104 samples (BRCA)</text>
<text x="219.40" y="580.20" text-anchor="middle" class="st">Data Source: starBase v3.0 project</text>
<path d="M272.00 572.80h3.4M272.00 573.90h3.4M272.00 575.00h3.4" stroke="#555" stroke-width="0.8"/>
<text x="173.10" y="685.10" text-anchor="middle" class="tk">-5</text>
<text x="187.90" y="685.10" text-anchor="middle" class="tk">-4</text>
<text x="202.70" y="685.10" text-anchor="middle" class="tk">-3</text>
<text x="217.50" y="685.10" text-anchor="middle" class="tk">-2</text>
<text x="232.30" y="685.10" text-anchor="middle" class="tk">-1</text>
<text x="247.10" y="685.10" text-anchor="middle" class="tk">0</text>
<text x="261.90" y="685.10" text-anchor="middle" class="tk">1</text>
<text x="275.20" y="685.10" text-anchor="middle" class="tk">2</text>
<text x="170.50" y="587.30" text-anchor="end" class="tk">6</text>
<text x="170.50" y="597.77" text-anchor="end" class="tk">5</text>
<text x="170.50" y="608.23" text-anchor="end" class="tk">4</text>
<text x="170.50" y="618.70" text-anchor="end" class="tk">3</text>
<text x="170.50" y="629.17" text-anchor="end" class="tk">2</text>
<text x="170.50" y="639.63" text-anchor="end" class="tk">1</text>
<text x="170.50" y="650.10" text-anchor="end" class="tk">0</text>
<text x="170.50" y="660.57" text-anchor="end" class="tk">-1</text>
<text x="170.50" y="671.03" text-anchor="end" class="tk">-2</text>
<text x="170.50" y="681.50" text-anchor="end" class="tk">-3</text>
<text x="224.90" y="690.90" text-anchor="middle" class="ax">SGMS1-AS1, Expression level: log2(FPKM+0.01)</text>
<text transform="translate(164.60 633.30) rotate(-90)" text-anchor="middle" class="ax">EMCN, Expression level: log2(FPKM+0.01)</text>
<line x1="186.58" y1="646.43" x2="267.97" y2="625.64" stroke="#e8484a" stroke-width="0.7"/>
<path d="M220.5 656.1h0M229.3 642.5h0M249.6 636.4h0M228.8 626.3h0M226.9 608.4h0M219.8 634.0h0M231.9 638.6h0M240.7 633.5h0M262.7 629.1h0M253.1 614.8h0M239.2 636.8h0M240.4 621.8h0M222.7 613.3h0M228.8 643.7h0M242.6 639.1h0M239.5 623.1h0M246.7 631.2h0M251.6 614.8h0M260.5 629.8h0M236.6 633.9h0M251.4 634.3h0M234.1 629.2h0M236.4 626.2h0M253.2 622.8h0M209.9 638.8h0M241.2 620.1h0M223.2 635.1h0M225.9 630.4h0M246.9 647.5h0M222.9 616.2h0M244.9 619.9h0M233.5 633.2h0M249.4 633.5h0M251.1 627.8h0M229.2 627.2h0M253.5 652.0h0M235.2 605.6h0M247.9 632.0h0M236.2 613.6h0M238.8 638.1h0M227.2 644.1h0M223.7 637.1h0M257.6 642.5h0M263.6 654.1h0M242.0 646.6h0M236.8 641.2h0M236.2 648.5h0M242.6 630.3h0M236.6 616.8h0M223.5 621.8h0M223.4 632.4h0M240.9 649.5h0M245.7 626.9h0M245.4 638.6h0M221.9 629.8h0M232.9 627.9h0M241.5 623.4h0M250.8 644.2h0M239.3 637.4h0M240.6 619.7h0M220.6 646.3h0M238.1 637.7h0M242.8 626.7h0M245.8 619.3h0M238.2 649.7h0M209.9 631.0h0M224.0 641.7h0M246.7 636.8h0M233.3 631.2h0M216.6 615.6h0M231.2 634.2h0M220.2 625.4h0M221.5 653.0h0M245.3 623.8h0M253.6 634.2h0M235.5 643.0h0M223.8 648.9h0M238.8 631.8h0M229.1 630.3h0M247.9 619.5h0M246.6 623.2h0M220.5 626.6h0M233.1 633.7h0M231.1 645.3h0M250.6 632.3h0M238.7 627.9h0M225.8 629.5h0M248.1 623.7h0M215.8 625.6h0M236.5 633.0h0M220.5 637.6h0M239.4 625.3h0M222.1 633.1h0M238.6 619.4h0M236.3 640.4h0M224.5 641.1h0M213.4 637.0h0M231.2 636.8h0M237.8 622.1h0M241.8 625.6h0M221.7 618.8h0M248.0 637.6h0M237.4 614.5h0M225.1 645.4h0M234.3 657.0h0M225.1 629.2h0M229.1 631.4h0M245.4 628.7h0M229.5 646.2h0M254.6 636.4h0M235.2 627.1h0M240.0 636.4h0M239.2 620.6h0M235.0 648.8h0M224.4 613.1h0M238.0 622.4h0M233.1 636.1h0M254.8 628.5h0M246.1 621.7h0M243.6 631.1h0M234.9 652.5h0M232.2 655.7h0M241.7 622.7h0M266.0 617.3h0M238.0 630.6h0M223.0 641.0h0M230.0 649.1h0M241.7 625.7h0M220.3 614.4h0M237.9 623.8h0M238.0 645.0h0M240.0 623.4h0M227.3 611.3h0M244.4 636.9h0M208.6 613.7h0M233.2 628.7h0M255.2 615.6h0M242.0 638.8h0M240.0 640.9h0M196.4 634.7h0M230.6 614.6h0M239.3 623.7h0M220.8 638.0h0M256.8 611.5h0M248.8 620.3h0M234.8 624.4h0M246.4 642.3h0M240.9 647.2h0M227.3 631.9h0M228.3 635.9h0M241.6 624.0h0M234.2 661.2h0M219.9 647.1h0M236.5 629.6h0M234.8 626.7h0M253.5 616.4h0M233.1 622.3h0M245.3 630.2h0M231.7 629.6h0M209.1 620.8h0M238.4 607.1h0M216.4 625.7h0M232.9 634.2h0M234.1 617.4h0M221.2 640.2h0M242.0 629.7h0M227.4 645.4h0M257.2 631.0h0M232.8 646.0h0M256.0 624.4h0M235.0 628.4h0M235.0 638.9h0M237.6 616.4h0M238.3 637.1h0M247.9 625.1h0M224.1 629.6h0M248.8 625.0h0M233.6 617.6h0M239.1 631.5h0M236.8 630.2h0M220.5 627.1h0M249.1 638.4h0M232.9 624.5h0M214.9 642.9h0M238.7 637.6h0M217.6 626.8h0M244.3 616.2h0M227.7 651.7h0M244.4 622.1h0M226.1 631.9h0M228.7 639.6h0M227.6 645.6h0M247.7 636.4h0M247.1 639.8h0M262.6 627.9h0M221.2 648.2h0M224.0 651.8h0M220.9 631.4h0M235.7 636.5h0M244.6 635.6h0M249.9 647.1h0M245.9 649.1h0M230.9 640.9h0M245.5 629.8h0M243.3 626.5h0M231.7 637.5h0M233.2 631.2h0M236.8 620.6h0M250.5 648.2h0M230.9 642.7h0M239.5 673.3h0M233.1 643.4h0M238.5 624.0h0M242.4 620.4h0M238.7 635.2h0M211.8 636.0h0M232.3 629.4h0M259.1 638.8h0M242.3 615.8h0M229.2 641.7h0M236.1 654.0h0M228.9 634.8h0M232.4 629.7h0M237.9 626.9h0M243.7 624.1h0M253.7 613.6h0M224.4 657.0h0M221.8 615.1h0M240.9 620.5h0M263.9 623.1h0M224.6 633.2h0M220.0 629.5h0M228.7 625.9h0M237.7 630.3h0M233.5 635.3h0M261.7 611.4h0M240.5 646.3h0M231.9 626.4h0M233.4 642.9h0M244.4 619.2h0M255.1 620.7h0M245.9 617.2h0M214.5 653.9h0M253.8 623.6h0M243.0 643.7h0M230.4 629.1h0M234.6 627.2h0M235.2 647.0h0M233.8 649.9h0M249.6 632.8h0M231.5 636.8h0M245.7 624.0h0M233.2 628.7h0M239.5 631.3h0M247.7 656.2h0M227.2 643.9h0M247.8 639.8h0M236.3 625.2h0M233.5 619.6h0M248.2 634.0h0M257.9 631.7h0M221.6 642.2h0M238.9 608.4h0M225.6 644.5h0M236.4 634.9h0M247.3 627.1h0M237.4 626.6h0M237.3 638.4h0M243.1 639.5h0M241.1 632.5h0M217.1 636.6h0M228.8 627.1h0M224.3 623.0h0M245.0 629.5h0M247.5 632.5h0M215.8 641.1h0M235.5 632.1h0M243.5 637.5h0M235.0 613.0h0M255.5 632.8h0M239.9 629.2h0M215.3 636.9h0M230.8 625.4h0M250.5 625.3h0M246.1 649.3h0M244.0 640.1h0M235.5 632.3h0M232.7 645.7h0M240.9 630.5h0M223.5 651.0h0M237.1 623.3h0M226.5 626.0h0M241.4 634.0h0M253.0 618.6h0M237.2 648.7h0M234.2 640.8h0M250.7 629.3h0M249.3 655.9h0M232.4 626.1h0M251.0 642.4h0M224.8 630.4h0M228.3 605.9h0M227.4 614.6h0M226.7 639.4h0M254.0 630.0h0M226.1 645.0h0M238.2 647.3h0M204.2 647.7h0M220.9 617.6h0M226.2 630.9h0M250.4 627.0h0M254.6 621.4h0M239.9 620.4h0M252.5 605.0h0M231.9 631.1h0M223.2 630.9h0M253.9 625.1h0M206.7 622.8h0M238.9 625.6h0M230.9 642.7h0M224.3 620.0h0M235.3 642.4h0M238.1 627.0h0M232.1 633.1h0M229.2 622.6h0M223.0 637.7h0M234.4 637.2h0M247.5 637.8h0M253.2 620.1h0M229.5 624.9h0M245.2 640.0h0M233.7 640.8h0M208.9 644.1h0M232.3 635.0h0M230.0 626.5h0M241.9 631.7h0M255.7 622.2h0M242.7 624.5h0M252.7 632.0h0M223.8 643.7h0M244.9 635.2h0M237.7 624.9h0M240.3 627.4h0M219.6 627.4h0M223.0 636.0h0M236.1 618.5h0M205.6 642.0h0M221.3 655.8h0M230.2 635.1h0M247.9 630.0h0M249.3 634.0h0M226.7 630.9h0M242.4 630.2h0M236.2 639.5h0M245.5 625.7h0M231.6 637.8h0M234.3 627.2h0M250.0 638.6h0M246.9 638.4h0M234.1 639.4h0M230.5 632.3h0M227.2 627.1h0M225.0 624.4h0M220.2 641.3h0M244.3 623.1h0M230.1 618.5h0M224.1 641.8h0M242.2 637.0h0M259.3 619.0h0M236.5 643.6h0M226.6 647.6h0M251.4 610.4h0M238.4 642.6h0M230.0 629.3h0M223.7 643.7h0M226.4 613.8h0M245.4 624.4h0M209.7 644.3h0M226.8 628.4h0M238.1 614.3h0M238.5 636.9h0M225.7 653.6h0M226.9 619.4h0M255.2 618.9h0M237.8 627.0h0M236.9 620.6h0M233.0 655.2h0M246.7 632.8h0M220.2 639.0h0M238.9 623.2h0M228.9 646.0h0M239.7 628.0h0M222.6 652.2h0M237.3 635.6h0M243.6 630.3h0M226.6 621.4h0M240.0 626.9h0M265.0 636.8h0M241.3 633.4h0M246.1 632.5h0M241.1 616.6h0M222.1 612.6h0M232.5 623.2h0M244.8 636.6h0M242.0 617.8h0M250.4 624.1h0M233.8 627.6h0M212.9 626.3h0M229.7 632.0h0M238.8 637.3h0M228.8 633.5h0M243.1 624.8h0M250.4 642.8h0M238.2 632.7h0M232.9 609.0h0M220.3 652.4h0M232.4 628.9h0M240.2 630.4h0M243.0 636.6h0M249.8 639.5h0M236.6 634.5h0M206.7 628.5h0M220.4 605.2h0M248.6 614.0h0M249.0 611.6h0M213.3 628.2h0M253.6 637.2h0M225.0 643.1h0M250.8 624.5h0M225.3 639.4h0M239.0 645.6h0M244.7 617.0h0M254.2 645.5h0M229.0 624.0h0M246.2 641.8h0M248.9 638.2h0M265.6 631.2h0M249.2 642.1h0M223.3 634.3h0M233.5 647.0h0M224.1 647.3h0M227.3 616.6h0M241.3 628.3h0M236.7 630.1h0M211.3 641.1h0M243.2 633.7h0M233.1 629.2h0M243.2 631.3h0M251.4 644.5h0M226.9 621.0h0M257.4 606.6h0M251.3 624.4h0M257.4 639.9h0M227.0 639.3h0M234.5 623.0h0M240.4 625.6h0M220.5 621.9h0M220.2 652.6h0M235.9 626.2h0M229.3 642.0h0M242.0 635.1h0M235.5 640.1h0M225.1 631.2h0M229.7 617.8h0M244.0 643.1h0M241.2 625.5h0M258.9 632.9h0M241.7 618.3h0M253.5 635.3h0M230.5 625.6h0M239.1 630.7h0M243.0 635.2h0M236.3 636.1h0M220.5 639.1h0M232.7 622.5h0M237.7 625.7h0M244.8 630.9h0M235.7 634.6h0M252.0 631.5h0M249.0 627.2h0M229.2 636.9h0M245.1 634.8h0M223.7 627.4h0M239.5 647.5h0M217.9 644.8h0M234.1 640.1h0M238.8 633.4h0M222.0 623.7h0M233.6 634.3h0M245.2 634.5h0M252.3 614.1h0M216.7 629.6h0M240.8 625.1h0M236.4 622.6h0M237.6 627.9h0M234.6 631.0h0M229.0 657.2h0M242.8 619.6h0M264.5 641.7h0M224.5 630.0h0M240.3 629.4h0M237.8 610.9h0M231.5 628.4h0M223.7 628.9h0M258.4 618.1h0M244.1 628.3h0M234.5 636.8h0M247.7 630.4h0M235.7 639.2h0M216.0 627.8h0M233.3 642.5h0M236.3 630.0h0M234.5 632.5h0M218.5 645.2h0M231.4 636.1h0M223.1 617.3h0M221.5 641.0h0M232.9 618.7h0M237.5 624.2h0M223.4 629.5h0M236.0 634.9h0M233.2 629.9h0M224.3 636.0h0M216.4 632.8h0M225.4 632.2h0M236.9 637.5h0M221.0 614.2h0M235.2 649.7h0M227.3 636.1h0M250.5 633.1h0M255.9 624.5h0M228.4 632.3h0M231.9 624.4h0M241.8 623.6h0M238.4 630.8h0M228.7 623.0h0M237.4 615.8h0M241.9 635.0h0M214.9 638.4h0M245.3 626.1h0M229.5 654.7h0M234.5 624.6h0M210.3 632.8h0M229.7 634.0h0M240.9 648.8h0M232.5 624.9h0M241.8 643.5h0M253.5 625.8h0M237.2 635.7h0M249.4 617.9h0M227.7 631.7h0M243.4 635.3h0M238.1 629.5h0M245.8 623.8h0M230.4 630.5h0M216.4 658.2h0M227.8 627.5h0M216.7 645.5h0M245.1 631.0h0M229.7 646.9h0M231.5 644.5h0M241.4 641.2h0M214.7 661.0h0M204.9 653.6h0M239.6 626.1h0M233.6 632.1h0M242.0 630.7h0M226.4 638.2h0M237.9 636.4h0M238.5 627.3h0M260.8 612.0h0M242.9 636.9h0M239.9 632.3h0M255.2 642.1h0M237.5 608.6h0M238.7 634.5h0M237.6 632.6h0M237.2 619.6h0M223.3 641.9h0M249.1 631.3h0M227.4 647.2h0M251.3 628.0h0M241.2 636.0h0M258.7 624.3h0M231.7 620.0h0M223.8 629.8h0M244.6 631.4h0M259.7 635.7h0M249.3 627.2h0M243.9 652.7h0M251.6 631.6h0M238.5 641.3h0M241.6 631.3h0M226.2 622.4h0M215.2 650.5h0M231.4 607.3h0M242.5 637.2h0M230.3 627.2h0M233.5 627.0h0M220.1 618.7h0M229.1 637.0h0M215.1 646.7h0M247.4 651.1h0M249.7 655.4h0M231.5 624.8h0M226.5 646.5h0M221.1 636.4h0M232.0 637.3h0M226.0 624.0h0M247.7 626.0h0M230.6 625.2h0M232.6 623.3h0M251.5 642.3h0M223.4 631.9h0M212.6 653.2h0M257.2 605.8h0M248.5 617.6h0M235.3 648.1h0M248.1 639.1h0M239.5 642.6h0M253.0 617.7h0M246.7 624.0h0M232.9 640.3h0M240.6 620.4h0M252.0 626.9h0M248.5 619.5h0M229.6 631.4h0M238.6 640.2h0M236.2 634.6h0M236.0 617.8h0M241.7 626.7h0M243.7 619.0h0M229.8 639.1h0M238.7 632.4h0M216.1 621.6h0M248.2 639.0h0M237.7 648.4h0M238.6 625.4h0M229.9 620.2h0M232.1 630.5h0M235.6 620.7h0M241.4 622.9h0M233.3 641.4h0M219.3 629.1h0M253.0 631.3h0M232.2 623.5h0M226.2 639.0h0M237.9 631.8h0M244.0 623.0h0M240.5 640.2h0M238.1 641.0h0M247.4 628.5h0M236.5 620.7h0M227.5 633.7h0M238.8 605.9h0M222.6 641.1h0M239.4 617.4h0M239.8 608.3h0M226.9 646.4h0M233.5 626.1h0M216.6 646.8h0M217.0 639.3h0M233.3 631.2h0M230.1 625.8h0M242.1 618.7h0M246.9 635.5h0M239.7 648.7h0M229.8 633.3h0M248.0 625.4h0M236.7 629.4h0M256.6 645.1h0M241.1 625.3h0M233.8 625.8h0M234.9 625.0h0M210.6 624.8h0M250.4 607.3h0M237.7 639.9h0M214.4 635.0h0M225.3 635.5h0M244.5 619.3h0M228.7 629.7h0M236.3 633.2h0M250.5 633.7h0M237.0 614.5h0M246.1 627.7h0M266.0 624.8h0M241.4 638.0h0M226.8 641.3h0M251.5 608.2h0M251.7 623.5h0M253.5 641.6h0M234.5 614.4h0M245.5 613.8h0M245.7 611.2h0M241.7 620.1h0M232.5 629.6h0M230.2 632.3h0M207.8 618.3h0M222.3 614.2h0M242.6 612.3h0M235.4 644.2h0M239.0 650.4h0M231.5 640.0h0M237.0 620.9h0M233.8 619.2h0M254.5 622.7h0M219.5 623.7h0M222.9 620.7h0M250.5 620.8h0M224.0 636.6h0M202.8 634.4h0M258.1 637.0h0M237.2 629.1h0M251.1 607.1h0M243.0 622.2h0M250.6 613.7h0M246.9 615.4h0M231.2 613.1h0M239.8 634.3h0M237.8 626.2h0M232.9 632.9h0M244.9 655.2h0M230.9 665.6h0M242.3 625.8h0M217.8 625.7h0M245.3 633.5h0M234.2 660.7h0M246.6 637.8h0M233.9 629.6h0M228.7 623.9h0M230.8 625.9h0M234.6 643.7h0M235.7 620.3h0M231.4 623.5h0M246.2 628.2h0M237.6 631.3h0M239.2 657.0h0M227.0 619.8h0M241.2 622.7h0M225.4 620.8h0M234.4 628.1h0M215.8 635.1h0M221.8 623.5h0M238.1 630.9h0M210.0 609.9h0M236.7 622.3h0M233.2 635.1h0M229.3 614.0h0M240.2 634.3h0M237.0 648.3h0M266.6 632.8h0M250.4 611.3h0M238.7 637.2h0M230.7 616.6h0M228.2 655.7h0M230.5 621.2h0M245.7 619.9h0M232.9 647.2h0M247.0 632.8h0M223.6 636.2h0M230.9 624.9h0M235.1 628.6h0M217.9 634.4h0M232.8 642.8h0M232.5 627.7h0M242.8 626.6h0M238.7 631.1h0M233.7 617.0h0M236.7 622.1h0M245.1 623.0h0M226.4 634.0h0M227.4 631.6h0M238.8 615.8h0M235.4 634.3h0M246.4 644.5h0M241.3 627.4h0M244.7 631.8h0M237.6 628.1h0M224.2 653.5h0M239.8 621.9h0M250.4 636.0h0M223.2 629.5h0M231.1 640.9h0M241.7 625.1h0M250.9 617.0h0M233.3 648.4h0M227.8 642.4h0M260.6 635.2h0M237.2 630.6h0M234.7 626.2h0M230.4 660.2h0M228.2 635.5h0M240.1 638.9h0M239.1 634.3h0M246.2 609.9h0M254.4 605.4h0M233.6 626.9h0M242.2 620.7h0M234.3 624.7h0M230.6 636.0h0M221.6 626.8h0M254.7 620.0h0M226.1 657.1h0M239.8 628.9h0M250.1 603.1h0M224.1 612.2h0M238.0 608.6h0M251.1 622.8h0M239.2 623.8h0M235.0 632.5h0M248.8 635.5h0M242.4 643.2h0M215.9 641.7h0M228.8 644.9h0M253.6 621.2h0M233.7 653.2h0M228.1 634.8h0M255.9 635.3h0M233.5 623.8h0M228.7 634.5h0M239.6 645.6h0M221.0 630.5h0M215.4 643.9h0M247.5 628.3h0M244.9 621.8h0M240.4 628.2h0M215.2 639.2h0M218.5 627.0h0M249.8 613.4h0M245.0 630.4h0M241.6 643.1h0M239.3 630.0h0M260.8 642.3h0M226.0 646.1h0M233.4 638.0h0M235.3 630.3h0M247.1 634.2h0M242.2 616.5h0M232.0 623.7h0M224.0 646.2h0M244.5 629.5h0M251.9 639.0h0M243.1 635.6h0M245.1 623.7h0M239.7 632.1h0M244.9 636.7h0M250.6 609.2h0M264.5 616.1h0M222.8 637.7h0M241.1 621.0h0M218.4 659.9h0M230.3 622.7h0M248.2 624.6h0M245.5 614.7h0M257.0 641.8h0M234.0 645.0h0M230.7 633.4h0M239.3 657.9h0M221.4 662.6h0M232.8 640.1h0M223.4 626.8h0M237.1 620.9h0M215.7 636.4h0M237.0 646.0h0M226.2 630.8h0M237.4 644.2h0M227.9 636.7h0M244.6 626.3h0M216.1 633.0h0M259.9 617.3h0M193.1 655.8h0M191.7 663.1h0M201.6 658.1h0M201.4 627.0h0M209.3 643.4h0M210.0 652.3h0M201.1 640.1h0M219.0 648.8h0M190.9 655.4h0M191.7 639.4h0M210.8 647.7h0M213.4 634.0h0M198.0 658.9h0M197.6 635.0h0M202.1 643.1h0M199.0 656.7h0M218.3 646.3h0M198.3 647.7h0M201.0 642.2h0M199.8 646.1h0M213.2 638.4h0M223.0 650.1h0M193.7 654.5h0M213.7 637.6h0M201.9 646.4h0M197.1 650.6h0M213.1 644.2h0M208.0 655.0h0M210.6 661.0h0M216.2 650.5h0M193.8 643.4h0M207.3 642.9h0M199.6 661.2h0M197.2 646.1h0M193.7 652.0h0M189.8 646.2h0M197.2 638.4h0M187.9 664.5h0M200.1 636.1h0M215.8 653.1h0M201.7 653.6h0M218.9 657.8h0M207.3 642.9h0M210.7 638.1h0M202.5 654.6h0M209.4 655.1h0M194.9 655.8h0M214.2 651.4h0M201.1 654.3h0M212.2 634.8h0M212.3 658.1h0M202.4 643.5h0M198.4 648.6h0M213.2 647.6h0M195.3 647.7h0M202.4 645.9h0M194.1 647.5h0M225.4 646.2h0M203.3 642.9h0M218.8 653.9h0M208.8 647.3h0M215.5 638.2h0M210.9 650.0h0M191.9 640.4h0M219.4 646.5h0M215.9 626.9h0M199.3 647.6h0M194.5 642.0h0M213.5 648.7h0M206.1 652.7h0M216.7 651.4h0M214.0 648.4h0M208.5 639.1h0M202.4 639.4h0M222.8 648.4h0M206.3 655.7h0M209.8 645.5h0M221.6 656.9h0M197.7 655.7h0M199.8 657.6h0M200.6 645.8h0M223.0 649.8h0M211.1 646.3h0M208.0 650.5h0M217.1 658.1h0M215.6 638.3h0M217.8 662.2h0M223.2 671.0h0M208.5 649.5h0M209.2 662.0h0M206.8 658.5h0M224.2 639.0h0M218.9 659.0h0M210.5 656.7h0M206.9 642.5h0M217.9 663.1h0M216.9 644.2h0M201.6 660.5h0M225.3 648.3h0M208.6 658.9h0M216.5 644.2h0M199.1 660.1h0M204.8 656.4h0M202.4 647.3h0M227.1 658.2h0M213.1 647.2h0M201.5 655.8h0M208.3 627.6h0M210.3 645.3h0M208.8 639.1h0M214.2 649.1h0M211.0 645.9h0M215.0 648.1h0M210.9 642.6h0M216.1 654.0h0M213.7 648.5h0M222.2 648.0h0M213.9 645.0h0M216.7 651.5h0M220.8 650.8h0M220.1 656.1h0M210.7 658.4h0M206.1 643.3h0M216.8 654.1h0M201.7 668.0h0M218.7 641.5h0M200.2 648.7h0M212.8 640.8h0M204.2 655.9h0M212.1 656.3h0M219.4 630.8h0M207.6 646.8h0M197.4 653.7h0M212.5 660.4h0M202.5 657.4h0M214.2 649.6h0M212.6 656.4h0M212.5 633.2h0M214.6 643.4h0M217.4 658.1h0M193.2 661.5h0M211.2 640.1h0M189.8 658.1h0M196.9 641.0h0M212.8 653.8h0M226.1 645.1h0M212.0 644.6h0M198.3 655.9h0M224.4 639.9h0M205.4 646.3h0M186.6 643.9h0M203.4 608.1h0M248.4 673.2h0M199.6 673.2h0" stroke="#1a699c" stroke-width="2.1" stroke-linecap="round" fill="none"/>
<rect x="174.50" y="586.30" width="56.50" height="8.90" fill="#fff" stroke="#999" stroke-width="0.45"/>
<line x1="175.50" y1="588.90" x2="178.50" y2="588.90" stroke="#3fa0e0" stroke-width="0.8"/>
<circle cx="177.00" cy="592.90" r="0.9" fill="#35a835"/>
<text x="179.70" y="590.00" class="lg" textLength="51.2" lengthAdjust="spacingAndGlyphs">Regression (y = 0.3587x + 1.7113)</text>
<text x="179.70" y="594.20" class="lg" textLength="44.9" lengthAdjust="spacingAndGlyphs">r = 0.286, p-value = 3.67e-22</text>
</g>
<text x="147.90" y="564.10" class="lab">K</text>
<rect x="299.10" y="568.00" width="120.40" height="126.00" fill="url(#fg)" stroke="#8eabd2" stroke-width="0.9" class="fr"/>
<g class="pl">
<rect x="313.90" y="585.20" width="103.80" height="94.00" fill="#fff"/>
<path d="M313.90 585.20H417.70M313.90 588.33H417.70M313.90 591.47H417.70M313.90 594.60H417.70M313.90 597.73H417.70M313.90 600.87H417.70M313.90 604.00H417.70M313.90 607.13H417.70M313.90 610.27H417.70M313.90 613.40H417.70M313.90 616.53H417.70M313.90 619.67H417.70M313.90 622.80H417.70M313.90 625.93H417.70M313.90 629.07H417.70M313.90 632.20H417.70M313.90 635.33H417.70M313.90 638.47H417.70M313.90 641.60H417.70M313.90 644.73H417.70M313.90 647.87H417.70M313.90 651.00H417.70M313.90 654.13H417.70M313.90 657.27H417.70M313.90 660.40H417.70M313.90 663.53H417.70M313.90 666.67H417.70M313.90 669.80H417.70M313.90 672.93H417.70M313.90 676.07H417.70M313.90 679.20H417.70" stroke="#dcdcdc" stroke-width="0.5" fill="none"/>
<rect x="313.90" y="585.20" width="103.80" height="94.00" stroke="#c4c8d0" stroke-width="0.6" fill="none"/>
<path d="M313.90 679.20H417.70" stroke="#b0c0d8" stroke-width="0.7" fill="none"/>
<text x="359.50" y="573.60" text-anchor="middle" class="tt" textLength="72.5" lengthAdjust="spacingAndGlyphs">LINC01578 vs. EMCN, 1104 samples (BRCA)</text>
<text x="360.30" y="579.20" text-anchor="middle" class="st">Data Source: starBase v3.0 project</text>
<path d="M413.00 571.80h3.4M413.00 572.90h3.4M413.00 574.00h3.4" stroke="#555" stroke-width="0.8"/>
<text x="313.90" y="683.90" text-anchor="middle" class="tk">1</text>
<text x="331.20" y="683.90" text-anchor="middle" class="tk">2</text>
<text x="348.50" y="683.90" text-anchor="middle" class="tk">3</text>
<text x="365.80" y="683.90" text-anchor="middle" class="tk">4</text>
<text x="383.10" y="683.90" text-anchor="middle" class="tk">5</text>
<text x="400.40" y="683.90" text-anchor="middle" class="tk">6</text>
<text x="416.20" y="683.90" text-anchor="middle" class="tk">7</text>
<text x="311.30" y="586.30" text-anchor="end" class="tk">6</text>
<text x="311.30" y="596.74" text-anchor="end" class="tk">5</text>
<text x="311.30" y="607.19" text-anchor="end" class="tk">4</text>
<text x="311.30" y="617.63" text-anchor="end" class="tk">3</text>
<text x="311.30" y="628.08" text-anchor="end" class="tk">2</text>
<text x="311.30" y="638.52" text-anchor="end" class="tk">1</text>
<text x="311.30" y="648.97" text-anchor="end" class="tk">0</text>
<text x="311.30" y="659.41" text-anchor="end" class="tk">-1</text>
<text x="311.30" y="669.86" text-anchor="end" class="tk">-2</text>
<text x="311.30" y="680.30" text-anchor="end" class="tk">-3</text>
<text x="365.80" y="689.70" text-anchor="middle" class="ax">LINC01578, Expression level: log2(FPKM+0.01)</text>
<text transform="translate(305.40 632.20) rotate(-90)" text-anchor="middle" class="ax">EMCN, Expression level: log2(FPKM+0.01)</text>
<line x1="319.06" y1="639.67" x2="413.73" y2="622.14" stroke="#e8484a" stroke-width="0.7"/>
<path d="M358.4 617.4h0M336.6 652.1h0M340.5 629.8h0M373.3 615.1h0M352.9 637.9h0M354.1 627.6h0M334.0 627.9h0M357.0 631.2h0M362.0 635.3h0M367.7 611.2h0M340.4 619.4h0M340.7 639.5h0M355.6 621.4h0M340.9 624.8h0M373.8 623.7h0M344.2 633.5h0M367.4 618.4h0M347.0 627.3h0M368.2 629.7h0M363.5 645.4h0M337.7 618.8h0M350.2 639.0h0M333.9 629.3h0M343.4 631.8h0M362.2 640.4h0M383.4 640.3h0M358.2 631.6h0M333.1 636.7h0M357.4 629.9h0M368.7 627.8h0M335.2 635.7h0M354.4 638.6h0M358.5 622.2h0M349.5 619.6h0M342.1 628.3h0M348.5 638.9h0M361.3 637.9h0M356.5 620.8h0M374.0 633.2h0M342.3 624.0h0M362.5 632.2h0M353.7 643.6h0M343.5 613.5h0M346.8 620.7h0M371.6 616.0h0M355.7 634.1h0M355.1 654.7h0M341.5 623.8h0M350.3 617.4h0M383.5 619.7h0M348.8 624.4h0M341.9 638.6h0M332.7 621.0h0M338.6 627.5h0M374.4 616.4h0M363.2 631.6h0M346.8 637.5h0M339.6 646.7h0M355.7 622.9h0M339.2 621.8h0M363.2 630.0h0M347.9 642.3h0M358.9 619.3h0M354.5 617.1h0M363.4 640.1h0M349.0 629.8h0M356.7 628.0h0M357.5 640.1h0M344.7 650.8h0M334.2 638.1h0M344.3 629.7h0M370.8 648.1h0M353.5 632.2h0M363.8 653.7h0M347.3 636.7h0M339.0 630.0h0M349.6 610.8h0M353.8 636.7h0M357.9 626.6h0M340.8 633.8h0M372.0 652.8h0M360.5 640.7h0M352.8 640.4h0M353.5 622.3h0M358.0 630.3h0M360.8 629.4h0M346.2 635.1h0M350.0 629.6h0M342.9 616.8h0M351.3 634.3h0M327.9 608.6h0M344.1 631.4h0M360.5 632.5h0M342.4 631.0h0M330.5 656.1h0M355.5 631.3h0M369.4 662.8h0M358.4 609.9h0M360.3 632.8h0M348.6 634.6h0M357.6 624.5h0M354.8 669.8h0M345.5 633.8h0M353.6 616.7h0M347.7 641.9h0M359.9 626.5h0M354.4 625.8h0M355.6 626.3h0M352.4 626.6h0M354.4 644.1h0M365.0 612.2h0M339.2 638.4h0M342.7 645.0h0M368.0 628.8h0M332.9 637.0h0M361.7 617.1h0M345.1 644.4h0M348.7 612.9h0M371.1 643.9h0M346.0 620.0h0M360.7 643.3h0M347.4 656.7h0M339.0 627.6h0M349.8 627.2h0M358.0 620.8h0M341.6 610.9h0M365.9 641.9h0M343.0 644.9h0M353.4 633.5h0M357.1 628.1h0M334.7 642.4h0M341.6 632.4h0M340.8 639.5h0M370.7 618.2h0M368.8 609.3h0M348.1 643.3h0M347.6 627.9h0M348.2 627.3h0M351.2 643.0h0M334.2 630.3h0M348.5 631.4h0M369.7 635.6h0M364.9 631.5h0M340.8 623.1h0M356.9 638.8h0M364.4 634.4h0M348.9 629.8h0M348.1 625.8h0M361.3 613.0h0M374.5 626.1h0M352.5 627.4h0M354.0 642.6h0M354.9 626.8h0M373.6 646.6h0M346.2 638.3h0M341.8 607.3h0M368.4 642.5h0M348.2 637.1h0M356.3 641.3h0M336.3 635.8h0M342.1 646.1h0M354.7 605.2h0M359.8 638.6h0M357.4 632.5h0M359.4 618.3h0M342.4 617.5h0M374.3 636.9h0M328.0 641.3h0M341.9 633.2h0M340.5 636.6h0M360.8 632.3h0M342.5 627.1h0M360.7 633.2h0M379.9 626.9h0M343.6 629.5h0M354.6 636.9h0M339.1 614.1h0M356.2 641.4h0M368.3 605.0h0M361.4 624.1h0M327.7 628.5h0M356.6 632.8h0M338.9 639.5h0M333.0 650.8h0M338.4 639.7h0M339.1 631.5h0M335.3 620.1h0M342.4 639.5h0M353.7 640.9h0M319.7 646.2h0M342.7 620.1h0M338.1 639.9h0M337.4 625.1h0M348.0 631.1h0M367.7 630.3h0M341.8 619.8h0M354.9 640.6h0M349.2 630.8h0M361.7 609.3h0M355.9 641.6h0M346.3 628.5h0M349.9 626.5h0M359.7 634.0h0M339.1 624.9h0M362.7 640.6h0M349.2 652.8h0M360.3 628.4h0M353.4 626.2h0M340.8 638.6h0M373.7 612.3h0M348.1 636.5h0M358.6 638.2h0M357.1 632.3h0M353.9 625.4h0M366.1 621.5h0M349.2 643.5h0M380.4 602.6h0M365.4 640.5h0M345.2 620.7h0M345.3 653.1h0M349.9 644.1h0M367.3 635.8h0M338.0 654.2h0M338.2 664.0h0M355.4 651.3h0M349.8 631.7h0M344.4 665.2h0M358.5 626.1h0M335.1 629.2h0M347.6 636.5h0M354.9 642.1h0M366.0 624.4h0M365.8 635.1h0M350.7 635.0h0M373.5 614.9h0M333.6 642.9h0M346.6 655.3h0M377.5 648.5h0M359.1 634.1h0M351.1 623.0h0M328.3 632.2h0M347.8 641.5h0M350.9 637.0h0M333.9 637.4h0M353.9 632.4h0M354.9 648.3h0M347.8 638.1h0M327.0 653.5h0M350.1 647.2h0M356.4 643.6h0M361.9 649.4h0M338.6 643.6h0M344.1 636.0h0M339.4 626.3h0M358.7 640.2h0M365.4 645.4h0M372.1 646.9h0M347.7 645.7h0M357.6 629.2h0M360.4 641.7h0M339.2 618.2h0M357.9 634.5h0M333.0 637.6h0M338.5 634.1h0M366.1 630.1h0M360.3 650.8h0M349.9 658.9h0M358.8 620.9h0M351.7 628.3h0M344.7 638.0h0M334.5 653.3h0M350.1 627.1h0M370.9 610.2h0M348.0 644.9h0M362.6 637.2h0M352.2 645.5h0M352.8 640.9h0M336.1 628.0h0M342.4 628.7h0M344.6 651.2h0M351.2 632.2h0M346.0 636.4h0M337.1 630.2h0M361.9 618.6h0M347.8 616.9h0M330.6 644.6h0M347.1 634.6h0M364.5 638.5h0M350.1 635.7h0M357.1 632.0h0M341.7 615.9h0M352.2 624.0h0M334.8 622.2h0M340.8 645.3h0M353.0 633.2h0M362.6 634.0h0M356.1 633.8h0M352.9 663.9h0M345.5 614.9h0M356.1 625.0h0M340.5 655.4h0M350.2 640.6h0M356.6 643.8h0M360.3 628.5h0M364.3 617.2h0M356.5 617.2h0M353.1 620.0h0M351.5 632.8h0M348.0 621.6h0M352.5 625.3h0M354.6 642.4h0M352.6 616.7h0M365.7 622.9h0M351.2 623.8h0M339.6 618.1h0M356.1 630.2h0M339.9 634.5h0M369.4 632.3h0M356.5 634.3h0M356.8 638.2h0M338.0 648.8h0M337.9 660.6h0M376.4 616.0h0M364.3 620.3h0M355.1 624.2h0M359.6 625.5h0M357.1 614.8h0M369.7 612.1h0M356.7 618.8h0M333.4 633.4h0M351.7 628.3h0M359.9 631.2h0M360.2 623.2h0M364.0 618.7h0M343.5 628.7h0M353.3 648.1h0M359.3 616.7h0M349.4 617.3h0M352.7 616.9h0M338.0 644.3h0M348.4 614.9h0M356.5 621.6h0M349.6 624.6h0M375.3 612.9h0M345.6 618.6h0M366.7 614.9h0M341.1 626.7h0M337.6 637.2h0M357.6 637.1h0M359.8 635.2h0M357.3 632.4h0M354.7 636.9h0M348.3 633.7h0M350.5 636.6h0M350.5 643.0h0M348.3 646.2h0M363.4 628.8h0M335.9 625.0h0M368.6 629.7h0M350.4 638.0h0M346.9 636.9h0M363.3 627.0h0M339.0 628.0h0M370.1 634.3h0M353.1 615.3h0M351.5 640.9h0M354.4 643.7h0M349.7 653.7h0M350.0 647.1h0M343.9 644.7h0M347.0 618.2h0M351.9 624.3h0M354.5 631.4h0M358.6 627.3h0M349.6 647.2h0M350.3 626.3h0M354.5 639.1h0M366.5 629.0h0M349.5 633.9h0M345.8 629.2h0M347.3 630.4h0M347.5 637.6h0M342.2 643.8h0M348.5 627.0h0M347.5 622.1h0M359.1 635.6h0M372.5 642.8h0M345.6 613.6h0M341.9 628.2h0M366.3 621.1h0M337.4 649.9h0M351.4 624.9h0M353.5 643.2h0M351.4 619.4h0M359.0 635.5h0M362.2 626.8h0M374.2 631.1h0M350.4 641.0h0M350.4 618.2h0M355.0 625.6h0M343.2 613.3h0M350.9 651.8h0M349.2 633.2h0M350.4 645.0h0M349.9 634.5h0M361.8 615.5h0M332.8 650.3h0M354.3 626.2h0M361.8 623.6h0M343.5 640.4h0M350.6 618.3h0M366.8 625.5h0M358.1 621.0h0M365.5 634.9h0M358.9 644.6h0M349.7 628.8h0M352.6 625.8h0M374.0 638.5h0M367.0 644.9h0M366.9 611.3h0M350.2 626.0h0M350.5 622.2h0M352.7 619.1h0M355.4 632.1h0M319.7 649.7h0M364.5 613.1h0M341.7 634.0h0M359.5 642.9h0M350.4 646.3h0M356.5 630.5h0M354.8 644.3h0M349.3 620.6h0M359.0 618.1h0M350.5 632.5h0M343.1 634.0h0M368.2 621.7h0M353.4 635.4h0M353.3 639.8h0M361.5 634.8h0M362.5 632.3h0M344.2 617.3h0M336.1 631.0h0M353.5 634.2h0M340.7 653.3h0M339.6 629.8h0M373.6 624.5h0M355.6 627.1h0M363.4 633.6h0M337.6 618.4h0M347.0 637.4h0M346.4 618.9h0M341.4 633.4h0M372.1 620.0h0M346.8 632.4h0M356.3 635.1h0M360.2 609.9h0M338.2 636.9h0M356.0 635.3h0M343.8 643.6h0M340.2 644.6h0M358.6 638.2h0M362.4 631.1h0M355.4 627.2h0M344.5 642.2h0M367.3 636.9h0M352.1 646.6h0M358.6 658.1h0M357.1 648.8h0M366.2 638.7h0M336.1 622.7h0M353.6 637.0h0M348.3 629.8h0M350.3 639.2h0M353.2 639.4h0M356.8 624.9h0M358.4 634.7h0M333.1 636.1h0M357.5 630.4h0M353.0 603.9h0M357.0 640.6h0M352.0 626.5h0M359.4 629.7h0M363.1 632.8h0M346.2 632.0h0M348.9 644.6h0M360.5 623.2h0M366.0 652.0h0M355.1 631.4h0M357.9 634.7h0M353.2 632.2h0M360.5 635.2h0M355.4 632.1h0M350.3 622.9h0M352.8 632.6h0M347.2 624.8h0M348.1 658.9h0M343.9 619.7h0M341.8 620.0h0M364.7 646.6h0M357.5 644.3h0M349.9 629.5h0M349.8 622.2h0M359.2 645.9h0M335.3 613.2h0M350.8 629.5h0M357.8 638.7h0M338.6 628.9h0M369.5 624.8h0M360.0 630.5h0M353.6 648.3h0M348.7 632.2h0M339.5 637.4h0M350.3 647.4h0M350.3 642.2h0M347.3 634.0h0M339.6 642.0h0M366.2 627.8h0M350.3 617.3h0M360.1 624.1h0M354.0 636.7h0M372.3 638.2h0M345.4 608.0h0M368.6 608.6h0M336.2 634.4h0M344.0 628.7h0M335.5 625.4h0M348.8 617.3h0M358.4 636.6h0M353.7 631.5h0M365.1 625.2h0M357.8 643.2h0M360.8 621.9h0M366.5 625.5h0M340.6 623.4h0M341.6 630.4h0M342.5 626.0h0M350.3 640.2h0M335.9 636.8h0M374.7 628.1h0M349.3 656.5h0M341.8 657.1h0M361.1 627.0h0M368.4 662.4h0M353.9 638.7h0M342.0 615.9h0M350.5 636.8h0M372.8 620.7h0M352.4 630.0h0M353.5 641.5h0M349.3 639.3h0M352.7 662.7h0M339.8 622.8h0M341.3 649.6h0M355.6 636.8h0M348.7 646.8h0M359.5 628.6h0M364.0 602.0h0M346.3 648.4h0M348.0 659.4h0M355.3 630.9h0M366.0 614.1h0M338.1 632.1h0M343.6 629.7h0M344.5 654.1h0M367.7 622.3h0M355.2 626.0h0M337.9 626.3h0M362.4 633.4h0M354.8 626.9h0M356.8 623.6h0M353.6 630.5h0M351.3 653.0h0M343.2 633.5h0M333.6 623.5h0M346.3 639.4h0M354.4 637.9h0M383.4 630.5h0M355.9 624.7h0M350.0 639.2h0M345.7 635.2h0M354.2 613.0h0M352.5 644.0h0M349.7 643.0h0M339.9 619.7h0M338.0 663.8h0M348.7 636.3h0M335.2 640.7h0M351.7 640.4h0M367.2 644.7h0M332.6 658.7h0M334.8 633.4h0M340.6 644.4h0M356.3 643.7h0M333.6 630.8h0M338.2 649.6h0M361.0 628.9h0M360.7 632.4h0M330.3 639.3h0M335.9 642.8h0M364.2 642.9h0M347.6 624.9h0M345.9 619.9h0M361.1 641.9h0M364.0 653.9h0M360.2 633.4h0M351.0 623.6h0M368.3 635.4h0M358.0 646.5h0M350.6 635.0h0M348.8 627.7h0M341.9 638.3h0M341.9 650.9h0M348.9 616.0h0M358.6 634.2h0M337.0 634.1h0M349.2 623.0h0M334.6 649.2h0M344.8 628.9h0M365.9 624.8h0M323.1 654.8h0M352.5 617.8h0M331.8 632.4h0M349.2 625.8h0M352.8 642.5h0M358.5 633.9h0M335.4 636.8h0M363.4 628.9h0M346.6 653.8h0M340.3 655.1h0M361.7 623.1h0M355.0 623.9h0M360.7 627.8h0M343.8 649.5h0M358.1 645.9h0M351.3 607.7h0M346.2 627.8h0M361.2 623.6h0M342.0 623.0h0M354.9 626.2h0M355.9 616.4h0M342.5 658.1h0M321.5 624.5h0M346.0 623.7h0M370.4 651.6h0M355.8 640.2h0M363.9 625.5h0M356.5 630.9h0M346.5 634.1h0M366.7 644.9h0M320.2 637.1h0M348.0 649.8h0M363.8 649.3h0M350.2 629.7h0M353.7 632.5h0M353.2 627.2h0M347.1 631.0h0M356.1 635.1h0M353.2 639.7h0M348.9 649.8h0M346.5 626.8h0M341.6 636.7h0M361.0 633.1h0M349.9 649.0h0M344.9 651.6h0M350.7 632.3h0M355.3 653.6h0M346.5 630.7h0M349.3 642.9h0M371.6 634.5h0M354.7 623.5h0M330.7 653.2h0M338.5 631.6h0M347.5 639.2h0M353.3 631.3h0M361.8 618.4h0M353.2 613.6h0M347.2 636.1h0M361.9 626.7h0M352.7 641.0h0M347.6 640.6h0M379.3 606.6h0M364.7 622.9h0M357.0 624.9h0M333.8 637.7h0M353.4 619.5h0M352.0 618.4h0M339.3 648.8h0M364.4 613.8h0M344.7 617.1h0M363.7 643.5h0M342.2 643.7h0M384.1 610.2h0M346.5 614.7h0M358.5 645.8h0M349.0 614.6h0M340.9 605.1h0M373.0 643.8h0M356.8 620.5h0M345.7 628.9h0M349.0 632.2h0M371.7 631.3h0M373.2 640.2h0M356.1 621.3h0M339.7 660.9h0M352.2 639.0h0M350.7 624.5h0M356.6 625.2h0M376.7 634.2h0M341.7 638.2h0M350.4 629.7h0M353.2 628.7h0M349.5 640.8h0M347.1 636.1h0M346.7 624.9h0M354.2 632.7h0M348.6 613.1h0M326.7 644.8h0M358.0 645.9h0M345.7 637.7h0M369.5 639.5h0M353.7 630.4h0M362.0 633.0h0M363.8 648.7h0M342.8 647.3h0M342.0 637.5h0M352.2 634.6h0M334.3 643.6h0M341.5 641.5h0M358.5 623.5h0M373.1 642.2h0M353.9 629.1h0M361.7 620.5h0M340.4 651.2h0M354.0 619.9h0M354.8 649.1h0M356.5 627.3h0M361.4 627.0h0M369.4 639.1h0M350.9 641.3h0M355.3 620.8h0M350.1 628.4h0M361.4 612.3h0M365.7 637.2h0M353.7 648.5h0M360.1 647.4h0M345.4 633.2h0M339.8 639.2h0M359.4 630.7h0M359.9 637.5h0M344.5 635.3h0M360.5 627.4h0M337.5 630.7h0M352.0 628.1h0M333.0 636.0h0M354.3 637.7h0M347.8 646.2h0M345.2 634.2h0M354.7 628.3h0M332.5 646.7h0M352.0 635.1h0M365.2 615.2h0M371.5 641.4h0M347.7 643.2h0M347.2 638.8h0M360.4 632.3h0M341.4 639.7h0M336.8 643.5h0M341.3 651.6h0M351.9 633.7h0M352.9 639.2h0M339.2 632.7h0M338.6 640.3h0M333.6 652.7h0M362.1 650.2h0M351.7 635.4h0M346.0 651.0h0M345.9 627.4h0M335.5 631.5h0M357.5 629.1h0M355.3 633.9h0M345.8 640.0h0M336.8 654.9h0M347.6 638.7h0M345.7 645.6h0M351.0 630.7h0M336.6 628.5h0M365.7 631.4h0M328.7 647.2h0M368.2 624.1h0M363.9 624.4h0M364.8 625.9h0M348.7 636.6h0M370.9 636.2h0M355.8 634.3h0M341.7 662.4h0M344.4 613.2h0M346.6 614.0h0M352.2 639.4h0M348.2 624.5h0M352.5 641.9h0M342.7 632.9h0M364.8 627.9h0M329.8 636.6h0M359.1 640.5h0M338.1 667.5h0M351.0 641.7h0M352.4 631.8h0M358.7 633.9h0M359.6 625.6h0M343.9 631.6h0M361.8 645.2h0M341.5 624.0h0M337.9 634.3h0M375.0 614.1h0M343.0 612.8h0M384.1 630.6h0M354.1 624.4h0M364.1 622.9h0M346.9 610.8h0M364.4 631.7h0M351.0 624.6h0M352.1 654.6h0M350.1 626.5h0M353.5 620.4h0M351.3 631.0h0M342.3 621.0h0M356.9 640.4h0M347.6 639.2h0M347.3 641.8h0M355.4 626.7h0M331.2 638.1h0M364.9 646.8h0M362.4 637.0h0M342.9 631.5h0M343.0 634.3h0M360.2 623.3h0M339.3 621.3h0M350.0 630.0h0M361.3 645.0h0M346.5 640.6h0M349.1 630.0h0M354.5 622.2h0M354.6 632.0h0M357.5 635.4h0M362.6 633.5h0M362.7 618.6h0M348.3 616.9h0M365.4 638.7h0M351.6 643.1h0M350.3 638.7h0M366.7 643.4h0M349.9 617.9h0M358.2 637.4h0M351.9 637.9h0M336.8 637.1h0M361.9 623.9h0M368.2 615.4h0M354.3 631.9h0M354.7 647.4h0M357.5 632.6h0M357.9 628.3h0M336.4 640.0h0M339.1 647.1h0M366.4 657.1h0M346.4 651.4h0M360.1 622.5h0M364.2 643.4h0M360.0 636.5h0M345.2 645.5h0M339.2 628.6h0M331.2 634.1h0M355.8 635.2h0M353.9 644.7h0M350.9 634.8h0M340.1 643.1h0M347.9 648.7h0M353.6 634.6h0M359.8 625.0h0M360.7 617.4h0M359.9 611.8h0M369.4 624.0h0M358.9 626.1h0M333.3 645.2h0M354.0 625.3h0M354.7 635.7h0M352.5 636.4h0M344.8 653.0h0M335.0 653.3h0M354.8 652.2h0M351.7 632.1h0M347.1 629.6h0M346.4 630.5h0M351.0 637.8h0M351.7 628.3h0M343.4 640.4h0M358.5 615.1h0M341.5 630.2h0M365.6 616.4h0M343.7 633.8h0M343.5 637.6h0M349.8 629.5h0M330.7 629.9h0M358.7 611.0h0M355.0 604.3h0M351.7 622.0h0M341.0 641.9h0M358.0 652.9h0M343.5 637.7h0M367.6 636.3h0M349.9 647.4h0M348.5 630.8h0M363.3 643.2h0M340.7 641.7h0M371.5 625.2h0M356.2 627.4h0M356.0 629.8h0M357.3 626.4h0M357.3 608.4h0M360.9 620.3h0M332.1 649.4h0M351.1 646.7h0M354.9 639.7h0M352.1 647.1h0M329.5 653.2h0M351.9 643.5h0M349.7 623.2h0M364.1 617.2h0M352.9 623.5h0M343.2 647.3h0M345.8 634.4h0M343.2 634.6h0M357.1 624.4h0M337.8 623.3h0M348.3 631.2h0M363.9 617.6h0M347.6 644.2h0M363.8 614.0h0M367.6 638.5h0M334.0 630.5h0M367.6 627.1h0M354.1 631.2h0M349.8 613.6h0M348.3 636.3h0M352.5 640.3h0M347.0 633.7h0M346.3 643.4h0M344.9 642.4h0M354.3 633.4h0M368.1 630.0h0M325.2 640.0h0M363.8 637.7h0M340.4 642.4h0M345.7 642.4h0M341.9 645.2h0M358.4 629.6h0M360.3 647.2h0M340.7 642.6h0M343.2 651.7h0M335.9 661.4h0M332.0 640.2h0M344.3 630.7h0M377.2 641.8h0M342.7 637.5h0M364.6 631.0h0M357.8 641.7h0M347.9 620.3h0M349.8 631.0h0M359.4 635.5h0M328.6 645.6h0M343.6 631.5h0M349.6 639.2h0M354.9 624.0h0M340.6 632.4h0M360.8 624.8h0M351.8 636.8h0M353.6 647.7h0M355.6 647.0h0M356.2 628.9h0M357.6 634.1h0M362.3 636.3h0M352.3 626.0h0M376.3 643.0h0M352.0 627.4h0M348.9 636.3h0M346.7 639.3h0M345.9 628.0h0M355.3 636.3h0M350.7 629.7h0M344.6 631.8h0M344.2 615.6h0M344.5 632.8h0M332.2 649.6h0M362.0 633.3h0M345.0 641.1h0M330.9 642.1h0M357.6 619.9h0M356.0 626.2h0M344.4 637.0h0M334.5 627.9h0M351.5 620.8h0M413.0 632.7h0M400.5 628.1h0M394.2 625.1h0M387.9 627.6h0M380.4 627.6h0M399.2 639.7h0M385.4 655.7h0M319.1 663.2h0M319.1 672.2h0M381.7 611.4h0M377.9 608.9h0" stroke="#1a699c" stroke-width="2.1" stroke-linecap="round" fill="none"/>
<rect x="315.30" y="585.30" width="56.50" height="8.90" fill="#fff" stroke="#999" stroke-width="0.45"/>
<line x1="316.30" y1="587.90" x2="319.30" y2="587.90" stroke="#3fa0e0" stroke-width="0.8"/>
<circle cx="317.80" cy="591.90" r="0.9" fill="#35a835"/>
<text x="320.50" y="589.00" class="lg" textLength="51.2" lengthAdjust="spacingAndGlyphs">Regression (y = 0.3044x + 0.3899)</text>
<text x="320.50" y="593.20" class="lg" textLength="44.9" lengthAdjust="spacingAndGlyphs">r = 0.181, p-value = 1.48e-09</text>
</g>
<text x="289.00" y="563.40" class="lab">L</text>
<rect x="442.50" y="568.40" width="120.50" height="126.00" fill="url(#fg)" stroke="#8eabd2" stroke-width="0.9" class="fr"/>
<g class="pl">
<rect x="457.30" y="585.60" width="103.90" height="94.00" fill="#fff"/>
<path d="M457.30 585.60H561.20M457.30 588.73H561.20M457.30 591.87H561.20M457.30 595.00H561.20M457.30 598.13H561.20M457.30 601.27H561.20M457.30 604.40H561.20M457.30 607.53H561.20M457.30 610.67H561.20M457.30 613.80H561.20M457.30 616.93H561.20M457.30 620.07H561.20M457.30 623.20H561.20M457.30 626.33H561.20M457.30 629.47H561.20M457.30 632.60H561.20M457.30 635.73H561.20M457.30 638.87H561.20M457.30 642.00H561.20M457.30 645.13H561.20M457.30 648.27H561.20M457.30 651.40H561.20M457.30 654.53H561.20M457.30 657.67H561.20M457.30 660.80H561.20M457.30 663.93H561.20M457.30 667.07H561.20M457.30 670.20H561.20M457.30 673.33H561.20M457.30 676.47H561.20M457.30 679.60H561.20" stroke="#dcdcdc" stroke-width="0.5" fill="none"/>
<rect x="457.30" y="585.60" width="103.90" height="94.00" stroke="#c4c8d0" stroke-width="0.6" fill="none"/>
<path d="M457.30 679.60H561.20" stroke="#b0c0d8" stroke-width="0.7" fill="none"/>
<text x="502.95" y="574.00" text-anchor="middle" class="tt" textLength="72.0" lengthAdjust="spacingAndGlyphs">LINC00667 vs. EMCN, 1104 samples (BRCA)</text>
<text x="503.75" y="579.60" text-anchor="middle" class="st">Data Source: starBase v3.0 project</text>
<path d="M556.50 572.20h3.4M556.50 573.30h3.4M556.50 574.40h3.4" stroke="#555" stroke-width="0.8"/>
<text x="457.30" y="684.30" text-anchor="middle" class="tk">-6</text>
<text x="474.62" y="684.30" text-anchor="middle" class="tk">-4</text>
<text x="491.93" y="684.30" text-anchor="middle" class="tk">-2</text>
<text x="509.25" y="684.30" text-anchor="middle" class="tk">0</text>
<text x="526.57" y="684.30" text-anchor="middle" class="tk">2</text>
<text x="543.88" y="684.30" text-anchor="middle" class="tk">4</text>
<text x="559.70" y="684.30" text-anchor="middle" class="tk">6</text>
<text x="454.70" y="586.70" text-anchor="end" class="tk">6</text>
<text x="454.70" y="597.14" text-anchor="end" class="tk">5</text>
<text x="454.70" y="607.59" text-anchor="end" class="tk">4</text>
<text x="454.70" y="618.03" text-anchor="end" class="tk">3</text>
<text x="454.70" y="628.48" text-anchor="end" class="tk">2</text>
<text x="454.70" y="638.92" text-anchor="end" class="tk">1</text>
<text x="454.70" y="649.37" text-anchor="end" class="tk">0</text>
<text x="454.70" y="659.81" text-anchor="end" class="tk">-1</text>
<text x="454.70" y="670.26" text-anchor="end" class="tk">-2</text>
<text x="454.70" y="680.70" text-anchor="end" class="tk">-3</text>
<text x="509.25" y="690.10" text-anchor="middle" class="ax">LINC00667, Expression level: log2(FPKM+0.01)</text>
<text transform="translate(448.80 632.60) rotate(-90)" text-anchor="middle" class="ax">EMCN, Expression level: log2(FPKM+0.01)</text>
<line x1="475.09" y1="648.18" x2="542.21" y2="628.15" stroke="#e8484a" stroke-width="0.7"/>
<path d="M528.8 617.9h0M530.0 638.0h0M518.8 635.6h0M527.9 641.3h0M521.4 627.1h0M531.0 614.3h0M516.5 628.6h0M518.8 642.1h0M520.1 635.1h0M522.7 628.0h0M523.5 632.7h0M523.7 629.8h0M525.8 625.7h0M524.2 632.5h0M520.9 635.2h0M528.4 619.1h0M533.4 624.3h0M522.4 611.0h0M524.5 627.3h0M518.8 629.7h0M525.5 606.4h0M519.2 661.0h0M527.9 642.1h0M507.6 631.6h0M526.6 644.4h0M526.6 638.3h0M527.3 615.1h0M524.9 637.8h0M529.6 632.0h0M513.3 630.3h0M521.4 630.0h0M508.7 638.8h0M520.8 628.0h0M516.1 650.1h0M524.7 623.1h0M522.4 652.1h0M525.5 651.1h0M510.8 641.8h0M520.5 644.1h0M524.7 637.4h0M525.5 635.1h0M526.7 613.8h0M512.6 645.1h0M527.9 631.8h0M527.2 627.7h0M524.7 628.8h0M530.2 627.9h0M530.8 637.4h0M512.5 654.2h0M523.9 624.0h0M520.9 630.3h0M522.9 614.4h0M526.3 616.7h0M520.7 611.3h0M527.6 631.0h0M513.4 641.5h0M524.5 634.6h0M524.0 635.2h0M518.5 638.8h0M523.6 620.9h0M524.2 632.2h0M519.5 638.5h0M524.9 632.4h0M526.6 623.6h0M539.5 632.3h0M530.4 640.3h0M532.5 629.9h0M526.0 635.7h0M531.3 636.9h0M516.2 612.3h0M519.8 635.4h0M522.6 653.7h0M527.7 614.5h0M531.3 623.4h0M526.7 647.8h0M525.6 623.0h0M525.0 634.9h0M528.1 630.8h0M523.4 625.9h0M533.6 605.4h0M523.9 622.8h0M529.9 616.8h0M517.8 662.5h0M522.6 620.5h0M525.3 630.7h0M519.4 620.3h0M520.1 645.7h0M533.1 621.7h0M523.6 620.6h0M524.0 642.5h0M519.2 636.4h0M524.1 642.5h0M522.2 617.2h0M525.9 642.8h0M522.9 618.5h0M511.4 647.8h0M526.7 614.5h0M528.1 646.1h0M518.8 633.2h0M528.1 625.1h0M522.3 612.8h0M524.4 631.1h0M523.7 624.2h0M527.3 622.7h0M522.5 627.6h0M524.5 614.7h0M517.0 631.0h0M514.5 636.0h0M528.9 629.4h0M525.2 622.0h0M526.5 666.5h0M519.3 633.6h0M524.3 639.8h0M528.7 637.5h0M520.2 635.1h0M523.3 636.6h0M528.2 639.8h0M523.3 640.4h0M518.6 626.7h0M524.4 620.6h0M523.8 643.0h0M519.4 638.6h0M516.3 636.8h0M522.3 642.0h0M523.9 628.1h0M522.4 634.5h0M505.4 654.3h0M514.1 638.8h0M522.2 615.6h0M516.6 660.9h0M524.7 628.7h0M517.7 639.9h0M520.3 639.1h0M513.6 653.5h0M517.3 621.3h0M516.7 643.9h0M520.5 627.1h0M521.5 633.6h0M530.4 629.7h0M524.7 633.4h0M530.8 609.3h0M525.7 607.2h0M520.2 644.2h0M520.6 640.0h0M522.4 637.6h0M520.7 631.1h0M518.7 630.1h0M527.0 633.3h0M515.2 624.6h0M508.4 631.4h0M517.6 644.0h0M521.3 633.8h0M522.9 615.5h0M517.6 648.4h0M530.6 636.9h0M520.7 624.6h0M524.6 636.4h0M531.6 622.3h0M525.0 631.0h0M523.3 623.4h0M517.2 663.5h0M527.5 624.0h0M518.6 642.4h0M519.2 636.8h0M528.4 628.0h0M525.0 641.1h0M514.1 635.6h0M519.3 650.3h0M530.1 624.5h0M518.6 604.1h0M517.8 631.6h0M527.3 629.3h0M531.3 633.2h0M517.3 629.8h0M518.1 642.4h0M528.4 620.1h0M523.4 637.1h0M533.5 630.6h0M517.9 639.0h0M519.0 639.8h0M511.5 654.0h0M517.9 633.7h0M511.8 612.1h0M519.6 624.0h0M519.1 651.7h0M516.7 646.7h0M525.2 638.0h0M520.5 633.6h0M519.3 635.4h0M524.9 631.6h0M527.5 620.6h0M520.2 629.0h0M512.7 617.0h0M513.1 625.7h0M527.8 641.1h0M521.1 635.4h0M530.3 619.3h0M517.1 622.0h0M521.8 606.2h0M523.6 640.3h0M522.7 604.8h0M517.6 636.9h0M521.6 618.5h0M519.4 632.8h0M534.7 629.7h0M527.1 630.7h0M520.5 640.5h0M532.0 631.9h0M519.1 638.2h0M534.0 624.1h0M518.9 642.0h0M515.7 623.9h0M516.9 643.0h0M511.4 638.9h0M518.7 637.7h0M518.8 633.9h0M517.4 666.1h0M518.2 634.9h0M520.9 621.9h0M528.5 642.9h0M523.2 648.4h0M529.7 644.4h0M524.3 646.6h0M511.0 646.0h0M525.4 630.7h0M523.6 613.0h0M527.7 638.4h0M510.6 636.8h0M514.9 669.0h0M525.0 625.6h0M514.7 654.9h0M524.0 625.4h0M519.6 649.7h0M513.9 632.7h0M511.7 639.1h0M529.6 628.3h0M515.2 633.9h0M524.9 632.8h0M529.4 622.7h0M512.9 638.3h0M517.9 651.5h0M518.7 638.9h0M528.0 639.0h0M517.2 622.9h0M522.7 629.6h0M519.1 636.9h0M523.2 630.3h0M524.0 649.4h0M511.8 632.8h0M515.7 646.1h0M524.7 619.3h0M531.9 613.3h0M519.7 661.6h0M530.6 619.7h0M517.9 624.1h0M514.7 648.3h0M527.9 624.3h0M528.9 626.2h0M516.6 641.5h0M515.9 608.3h0M524.1 637.6h0M522.7 634.1h0M532.0 636.2h0M536.4 637.6h0M532.0 613.4h0M525.1 637.0h0M520.7 630.2h0M515.8 631.1h0M525.3 637.9h0M533.2 617.3h0M517.6 651.9h0M522.8 653.8h0M526.2 641.5h0M535.1 638.0h0M518.7 625.2h0M522.3 637.7h0M525.8 618.7h0M515.7 621.7h0M525.1 616.7h0M529.0 625.9h0M522.7 619.2h0M523.3 618.3h0M518.7 643.4h0M524.2 620.2h0M520.5 635.1h0M527.7 638.5h0M527.7 623.2h0M515.6 632.6h0M519.0 633.3h0M521.1 639.8h0M515.6 657.9h0M522.3 631.4h0M515.0 608.7h0M515.8 653.7h0M527.7 630.0h0M523.6 609.4h0M515.6 640.5h0M528.2 626.3h0M516.3 637.0h0M521.7 631.3h0M522.6 627.2h0M530.7 624.9h0M520.3 642.2h0M521.4 643.3h0M520.9 627.2h0M523.3 637.7h0M519.0 640.5h0M523.8 631.3h0M515.3 629.4h0M525.8 622.8h0M528.1 650.2h0M529.9 635.1h0M533.7 621.7h0M527.8 632.5h0M517.1 634.1h0M521.1 630.9h0M522.3 646.4h0M515.4 608.9h0M524.3 615.5h0M522.4 639.0h0M525.9 637.6h0M512.6 623.2h0M518.6 642.5h0M509.3 667.3h0M525.4 617.4h0M517.6 627.4h0M528.7 632.3h0M527.5 638.7h0M521.7 639.5h0M515.6 623.7h0M522.5 628.4h0M530.9 627.5h0M522.8 610.6h0M520.4 629.8h0M532.7 633.5h0M515.2 655.0h0M527.9 621.0h0M531.9 619.9h0M528.0 621.4h0M507.5 625.0h0M526.6 646.5h0M532.9 619.2h0M525.0 631.2h0M539.5 624.4h0M534.3 603.4h0M519.0 630.5h0M524.9 614.2h0M527.9 631.3h0M528.6 620.1h0M520.9 638.8h0M519.9 639.3h0M515.6 642.8h0M537.8 633.6h0M532.3 621.9h0M534.8 612.5h0M526.0 623.1h0M523.3 632.3h0M519.8 619.2h0M512.6 647.4h0M533.9 627.9h0M513.8 642.9h0M523.8 633.9h0M525.4 618.3h0M529.5 630.2h0M519.0 646.5h0M525.5 620.2h0M541.3 622.7h0M525.2 615.9h0M530.9 632.3h0M520.5 637.7h0M520.8 627.1h0M524.9 622.3h0M524.6 628.7h0M516.9 651.1h0M518.5 652.7h0M521.3 609.9h0M518.1 641.1h0M533.5 636.3h0M526.5 636.8h0M518.1 640.4h0M518.0 638.8h0M524.3 614.5h0M523.9 663.2h0M515.6 640.9h0M522.4 641.7h0M522.4 640.0h0M530.8 614.9h0M532.1 632.3h0M521.3 645.0h0M512.1 658.7h0M531.1 641.2h0M525.8 636.0h0M521.8 622.2h0M534.9 629.2h0M529.6 635.7h0M527.7 645.4h0M514.0 651.9h0M528.8 641.0h0M534.9 633.9h0M531.9 629.7h0M533.7 629.2h0M533.6 638.3h0M524.8 631.3h0M528.9 617.3h0M525.2 646.5h0M522.2 639.5h0M528.8 634.0h0M517.3 620.6h0M523.6 611.9h0M515.9 616.3h0M517.4 634.9h0M527.8 630.3h0M526.2 647.9h0M525.7 638.5h0M527.2 633.9h0M521.5 637.5h0M513.7 641.8h0M528.6 631.1h0M524.1 622.1h0M516.8 630.8h0M529.3 628.9h0M520.9 628.4h0M523.9 627.2h0M518.7 637.7h0M520.2 627.3h0M519.8 612.3h0M516.3 658.9h0M526.1 635.2h0M531.8 616.0h0M521.6 622.4h0M524.9 658.4h0M517.8 634.8h0M528.8 627.0h0M528.3 619.6h0M518.3 609.8h0M520.3 635.4h0M524.9 638.4h0M525.8 640.5h0M526.3 632.1h0M524.2 634.4h0M524.1 609.4h0M531.2 637.8h0M529.2 622.8h0M516.4 635.9h0M518.9 661.4h0M522.6 611.1h0M522.3 643.3h0M525.0 615.4h0M522.3 619.6h0M518.8 644.1h0M523.4 626.6h0M528.5 622.9h0M528.9 629.3h0M526.5 632.9h0M522.4 619.5h0M514.4 632.2h0M507.1 637.1h0M519.7 625.4h0M520.3 633.1h0M523.3 626.8h0M516.5 640.2h0M521.8 612.9h0M524.2 625.8h0M514.8 603.8h0M519.0 627.8h0M517.9 631.2h0M523.4 627.5h0M520.9 624.7h0M524.9 641.3h0M529.9 618.3h0M525.5 645.5h0M528.6 620.9h0M521.5 635.2h0M519.2 625.5h0M524.7 657.4h0M522.1 611.3h0M516.5 638.2h0M532.1 638.3h0M528.0 642.2h0M510.9 629.1h0M528.1 617.3h0M531.9 635.4h0M527.3 624.3h0M524.2 673.1h0M527.1 643.2h0M514.8 623.0h0M517.3 646.6h0M524.6 646.0h0M523.0 609.4h0M522.0 615.3h0M519.4 640.6h0M519.5 618.7h0M518.7 634.8h0M525.5 642.6h0M521.6 629.6h0M530.1 625.4h0M520.0 641.3h0M525.3 631.7h0M532.9 642.0h0M530.3 664.8h0M527.2 630.6h0M527.6 636.6h0M513.3 623.2h0M529.3 629.6h0M530.4 651.9h0M531.2 603.9h0M520.2 641.1h0M529.8 648.4h0M528.1 654.0h0M521.0 633.1h0M528.3 624.9h0M520.3 647.6h0M531.7 612.9h0M517.1 626.6h0M518.1 635.2h0M527.4 645.9h0M506.9 612.3h0M516.3 637.0h0M518.7 628.3h0M534.7 621.6h0M521.7 651.2h0M525.4 632.9h0M526.7 623.3h0M520.3 627.4h0M530.0 621.3h0M529.1 634.0h0M522.2 622.2h0M515.2 635.4h0M523.2 634.6h0M532.6 649.2h0M516.1 621.1h0M523.5 647.8h0M528.5 641.0h0M522.0 615.0h0M515.3 633.6h0M529.4 635.4h0M526.4 622.5h0M522.0 629.2h0M522.9 623.6h0M530.0 612.4h0M518.0 622.6h0M530.8 633.8h0M521.7 636.9h0M511.7 619.1h0M522.5 636.8h0M517.7 634.0h0M527.5 649.8h0M522.5 614.3h0M516.2 636.9h0M525.4 632.4h0M522.4 648.3h0M526.2 622.9h0M530.2 636.4h0M523.5 629.0h0M516.1 644.3h0M512.9 630.4h0M525.4 647.4h0M520.2 628.3h0M533.7 629.5h0M525.4 638.7h0M513.8 652.5h0M512.0 628.6h0M523.1 622.4h0M534.8 637.6h0M514.3 633.4h0M525.8 649.1h0M535.5 632.1h0M532.2 640.1h0M529.7 625.5h0M516.7 629.4h0M531.6 631.6h0M523.1 650.4h0M523.0 619.7h0M518.3 640.8h0M519.5 615.9h0M530.2 634.5h0M530.0 638.3h0M536.7 633.4h0M527.3 626.4h0M519.9 627.2h0M523.4 610.0h0M512.4 639.2h0M526.0 633.0h0M516.4 648.7h0M530.8 621.0h0M524.0 625.6h0M524.7 635.0h0M516.0 645.8h0M523.4 618.6h0M526.7 641.8h0M533.6 623.6h0M534.7 657.6h0M522.0 631.5h0M524.7 656.6h0M521.9 627.2h0M523.7 649.6h0M529.5 609.9h0M529.8 623.5h0M531.0 627.1h0M533.9 628.1h0M523.8 647.2h0M524.3 625.7h0M523.2 638.3h0M522.3 626.9h0M519.2 651.9h0M521.4 639.4h0M527.0 620.9h0M541.3 620.2h0M519.6 639.0h0M529.7 625.1h0M522.1 640.8h0M525.3 616.1h0M529.9 631.9h0M532.6 644.2h0M525.9 618.7h0M520.1 631.5h0M524.5 635.7h0M517.4 637.1h0M524.3 601.1h0M523.9 639.3h0M527.0 649.8h0M528.3 603.9h0M527.6 637.6h0M521.5 638.2h0M520.2 630.8h0M518.6 641.6h0M519.5 637.8h0M528.2 635.2h0M517.7 641.1h0M520.9 643.9h0M526.8 633.6h0M511.9 645.9h0M524.9 630.7h0M522.8 637.7h0M520.8 643.2h0M533.3 630.3h0M524.9 628.1h0M526.1 633.9h0M516.2 635.1h0M513.4 630.6h0M535.9 624.7h0M519.1 621.9h0M529.1 628.2h0M522.0 646.7h0M508.7 613.3h0M523.4 646.9h0M525.4 621.4h0M508.9 665.3h0M535.3 639.2h0M523.3 633.4h0M528.7 618.3h0M528.2 624.3h0M523.2 652.5h0M535.4 641.5h0M526.7 637.3h0M514.4 632.3h0M516.0 641.7h0M534.7 620.5h0M529.1 610.5h0M526.6 631.3h0M524.8 600.6h0M530.8 608.5h0M521.3 624.1h0M514.9 644.9h0M533.1 610.8h0M521.0 612.7h0M530.9 614.4h0M523.7 627.2h0M518.2 630.2h0M529.5 616.8h0M518.4 637.6h0M520.9 625.1h0M516.4 659.2h0M522.0 609.4h0M520.6 638.6h0M528.5 608.7h0M533.3 630.3h0M526.8 649.9h0M534.9 631.2h0M527.3 637.0h0M522.4 614.2h0M525.0 622.1h0M523.2 620.8h0M526.5 622.4h0M526.5 635.2h0M521.6 624.7h0M526.1 637.2h0M526.8 613.8h0M530.5 604.7h0M521.5 622.3h0M530.1 629.9h0M524.2 627.2h0M526.8 611.8h0M515.4 620.6h0M529.2 639.1h0M528.0 630.1h0M526.1 636.6h0M520.3 627.9h0M511.4 626.5h0M515.4 630.3h0M519.8 631.6h0M515.5 647.5h0M521.3 627.8h0M530.3 629.0h0M523.4 616.0h0M528.3 631.1h0M524.1 609.9h0M528.5 630.7h0M517.5 664.0h0M521.1 632.2h0M521.9 632.8h0M511.0 656.2h0M527.2 625.7h0M518.6 655.1h0M531.5 645.4h0M535.2 619.6h0M524.8 634.1h0M524.0 616.2h0M531.0 632.0h0M522.4 626.3h0M526.4 629.0h0M528.9 637.3h0M532.1 615.6h0M529.6 619.3h0M518.9 630.8h0M524.5 628.5h0M522.2 608.0h0M523.2 626.0h0M517.4 619.0h0M524.2 638.9h0M527.1 641.1h0M518.8 632.0h0M527.0 626.5h0M522.5 640.8h0M524.9 640.2h0M525.0 641.9h0M518.9 628.8h0M524.2 633.7h0M525.2 620.0h0M511.1 617.1h0M537.7 615.9h0M520.0 607.5h0M525.8 635.1h0M523.3 646.4h0M534.8 635.1h0M525.1 622.7h0M530.6 634.7h0M535.1 620.9h0M523.6 639.5h0M509.9 652.3h0M539.9 635.3h0M523.8 641.8h0M529.7 642.9h0M520.9 634.5h0M523.6 629.8h0M521.9 643.0h0M530.1 629.1h0M534.1 630.4h0M517.6 645.5h0M524.3 651.4h0M515.7 631.8h0M520.8 616.5h0M512.8 636.3h0M517.0 648.9h0M521.6 637.3h0M525.9 642.1h0M525.5 627.2h0M522.0 645.3h0M527.6 631.6h0M530.6 638.5h0M531.2 647.1h0M521.2 625.4h0M525.2 631.5h0M523.1 624.9h0M529.5 618.4h0M530.2 620.7h0M524.1 618.0h0M529.4 622.1h0M523.9 641.5h0M527.1 628.9h0M518.1 629.2h0M523.1 636.5h0M528.3 635.6h0M519.3 619.4h0M522.6 646.3h0M521.9 632.3h0M533.2 629.3h0M519.9 639.6h0M529.5 630.4h0M521.1 631.6h0M518.4 642.3h0M525.8 632.0h0M517.0 622.2h0M507.6 656.7h0M525.6 644.4h0M532.3 624.5h0M513.1 612.2h0M529.1 642.1h0M523.4 642.4h0M537.0 630.6h0M530.1 642.5h0M527.0 638.2h0M531.4 624.0h0M518.4 630.0h0M518.0 623.0h0M525.1 644.7h0M525.4 642.2h0M519.4 616.0h0M529.3 641.6h0M522.2 635.9h0M527.0 626.7h0M517.9 632.8h0M513.9 662.6h0M534.4 638.5h0M521.9 627.9h0M525.9 633.3h0M520.7 622.7h0M514.4 638.4h0M521.2 638.6h0M521.6 630.5h0M522.7 630.4h0M517.5 635.2h0M521.9 638.3h0M532.8 646.2h0M527.4 625.8h0M517.1 649.2h0M514.4 634.1h0M527.6 626.1h0M521.1 626.8h0M523.3 619.9h0M530.2 647.7h0M520.2 645.0h0M528.1 632.9h0M532.6 625.0h0M521.2 626.6h0M520.9 633.8h0M526.9 613.6h0M530.4 630.6h0M531.6 615.4h0M522.2 614.7h0M530.0 616.2h0M519.8 621.0h0M514.6 630.5h0M532.4 653.1h0M518.6 626.3h0M526.0 633.8h0M522.0 625.9h0M515.7 638.0h0M522.9 638.1h0M517.2 633.6h0M520.0 616.9h0M520.7 642.9h0M524.5 636.9h0M525.0 637.7h0M529.4 627.3h0M524.9 636.0h0M518.4 608.7h0M526.1 622.0h0M519.9 627.3h0M529.1 612.9h0M525.1 631.4h0M513.2 633.6h0M521.2 640.1h0M536.0 627.0h0M520.0 625.1h0M529.6 642.3h0M522.4 648.6h0M531.1 624.0h0M514.8 630.0h0M524.9 638.8h0M518.5 640.4h0M536.1 608.0h0M529.8 626.4h0M527.9 629.5h0M525.5 645.9h0M521.0 612.8h0M515.3 656.4h0M520.8 648.3h0M531.9 625.8h0M526.1 621.0h0M525.6 629.5h0M536.7 609.3h0M533.1 635.8h0M523.1 631.9h0M527.2 630.8h0M528.7 635.1h0M519.1 622.5h0M522.0 635.4h0M519.3 629.3h0M528.7 629.6h0M512.7 631.3h0M520.4 627.5h0M529.7 643.2h0M521.4 642.0h0M521.7 629.8h0M528.0 626.5h0M524.2 626.0h0M523.9 636.6h0M537.1 616.0h0M516.6 639.3h0M525.7 649.3h0M520.3 654.6h0M524.8 619.1h0M521.0 631.8h0M523.0 649.9h0M526.4 631.4h0M528.1 627.9h0M524.1 632.5h0M523.2 622.8h0M522.9 644.0h0M511.7 611.2h0M528.1 654.4h0M516.2 615.4h0M518.4 650.6h0M529.0 645.9h0M515.7 631.1h0M534.3 607.4h0M524.7 638.0h0M509.4 619.5h0M515.7 648.8h0M517.2 626.2h0M528.8 637.8h0M526.6 636.7h0M520.8 633.4h0M514.1 631.1h0M532.2 611.3h0M528.3 645.4h0M531.1 634.8h0M520.2 651.2h0M529.6 621.2h0M525.1 632.3h0M531.6 620.5h0M515.0 628.1h0M537.0 620.7h0M519.8 643.0h0M524.3 629.3h0M524.2 639.4h0M525.5 624.6h0M521.5 622.7h0M527.0 622.7h0M518.7 648.4h0M535.5 634.4h0M527.1 643.2h0M519.9 630.9h0M525.4 628.7h0M520.7 628.2h0M517.0 636.8h0M518.5 628.0h0M527.8 624.5h0M528.7 631.2h0M539.1 632.6h0M518.4 634.4h0M533.3 650.5h0M535.0 631.9h0M522.5 642.9h0M528.9 622.2h0M516.3 646.7h0M529.7 645.8h0M532.3 639.9h0M525.4 627.5h0M519.5 626.7h0M524.1 612.3h0M526.2 639.4h0M526.9 631.2h0M527.2 633.8h0M525.8 631.2h0M518.6 641.3h0M529.9 626.7h0M521.4 625.1h0M515.4 637.6h0M525.1 647.2h0M522.0 631.3h0M522.3 622.2h0M522.2 619.4h0M514.9 629.2h0M533.2 618.3h0M522.7 631.8h0M522.4 642.2h0M520.0 644.1h0M519.8 634.5h0M520.7 650.9h0M529.9 619.7h0M533.5 639.8h0M521.2 640.3h0M528.0 618.3h0M516.8 621.1h0M529.6 624.0h0M523.3 626.0h0M533.0 614.1h0M516.6 661.0h0M530.1 634.0h0M520.8 644.3h0M521.0 620.0h0M514.2 638.7h0M535.2 622.2h0M525.4 648.4h0M538.2 635.4h0M519.7 623.7h0M519.9 642.5h0M533.4 656.6h0M475.1 661.5h0M490.6 640.9h0M497.6 652.2h0M500.1 653.2h0M500.1 634.7h0M505.1 626.4h0M510.1 622.6h0M502.6 630.1h0M541.5 672.7h0M510.1 669.7h0" stroke="#1a699c" stroke-width="2.1" stroke-linecap="round" fill="none"/>
<rect x="458.70" y="585.70" width="56.50" height="8.90" fill="#fff" stroke="#999" stroke-width="0.45"/>
<line x1="459.70" y1="588.30" x2="462.70" y2="588.30" stroke="#3fa0e0" stroke-width="0.8"/>
<circle cx="461.20" cy="592.30" r="0.9" fill="#35a835"/>
<text x="463.90" y="589.40" class="lg" textLength="51.2" lengthAdjust="spacingAndGlyphs">Regression (y = 0.2494x + 0.9048)</text>
<text x="463.90" y="593.60" class="lg" textLength="44.9" lengthAdjust="spacingAndGlyphs">r = 0.171, p-value = 1.05e-08</text>
</g>
<text x="430.95" y="564.00" class="lab">M</text>
</g>
</svg>
</body>
</html>
